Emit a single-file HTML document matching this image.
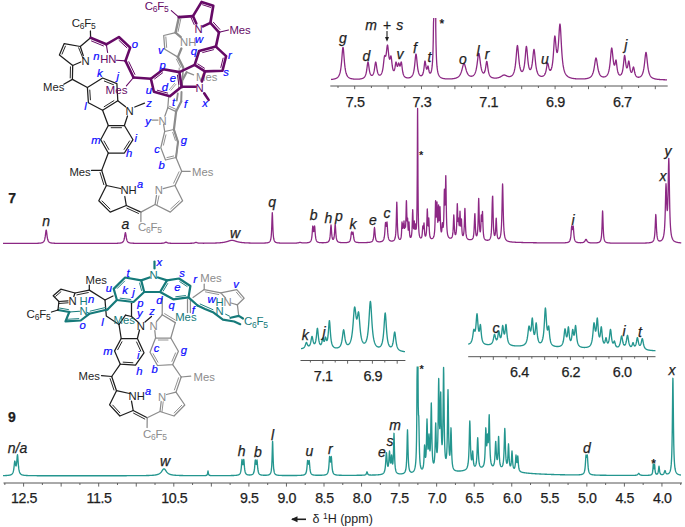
<!DOCTYPE html>
<html><head><meta charset="utf-8"><style>html,body{margin:0;padding:0;background:#fff;width:685px;height:527px;overflow:hidden}svg{display:block}</style></head>
<body><svg width="685" height="527" viewBox="0 0 685 527"><rect width="685" height="527" fill="#ffffff"/><path d="M3.00,243.46 L3.25,243.46 L3.50,243.46 L3.75,243.46 L4.00,243.46 L4.25,243.46 L4.50,243.46 L4.75,243.46 L5.00,243.46 L5.25,243.46 L5.50,243.46 L5.75,243.46 L6.00,243.46 L6.25,243.46 L6.50,243.46 L6.75,243.46 L7.00,243.46 L7.25,243.46 L7.50,243.45 L7.75,243.45 L8.00,243.45 L8.25,243.45 L8.50,243.45 L8.75,243.45 L9.00,243.45 L9.25,243.45 L9.50,243.45 L9.75,243.45 L10.00,243.45 L10.25,243.45 L10.50,243.45 L10.75,243.45 L11.00,243.45 L11.25,243.45 L11.50,243.45 L11.75,243.45 L12.00,243.45 L12.25,243.45 L12.50,243.45 L12.75,243.45 L13.00,243.45 L13.25,243.45 L13.50,243.45 L13.75,243.45 L14.00,243.45 L14.25,243.45 L14.50,243.45 L14.75,243.45 L15.00,243.45 L15.25,243.45 L15.50,243.45 L15.75,243.45 L16.00,243.45 L16.25,243.45 L16.50,243.45 L16.75,243.45 L17.00,243.45 L17.25,243.45 L17.50,243.45 L17.75,243.45 L18.00,243.45 L18.25,243.44 L18.50,243.44 L18.75,243.44 L19.00,243.44 L19.25,243.44 L19.50,243.44 L19.75,243.44 L20.00,243.44 L20.25,243.44 L20.50,243.44 L20.75,243.44 L21.00,243.44 L21.25,243.44 L21.50,243.44 L21.75,243.44 L22.00,243.44 L22.25,243.44 L22.50,243.44 L22.75,243.44 L23.00,243.44 L23.25,243.44 L23.50,243.43 L23.75,243.43 L24.00,243.43 L24.25,243.43 L24.50,243.43 L24.75,243.43 L25.00,243.43 L25.25,243.43 L25.50,243.43 L25.75,243.43 L26.00,243.43 L26.25,243.43 L26.50,243.43 L26.75,243.42 L27.00,243.42 L27.25,243.42 L27.50,243.42 L27.75,243.42 L28.00,243.42 L28.25,243.42 L28.50,243.42 L28.75,243.42 L29.00,243.41 L29.25,243.41 L29.50,243.41 L29.75,243.41 L30.00,243.41 L30.25,243.41 L30.50,243.41 L30.75,243.40 L31.00,243.40 L31.25,243.40 L31.50,243.40 L31.75,243.40 L32.00,243.39 L32.25,243.39 L32.50,243.39 L32.75,243.39 L33.00,243.38 L33.25,243.38 L33.50,243.38 L33.75,243.37 L34.00,243.37 L34.25,243.37 L34.50,243.36 L34.75,243.36 L35.00,243.35 L35.25,243.35 L35.50,243.34 L35.75,243.34 L36.00,243.33 L36.25,243.32 L36.50,243.32 L36.75,243.31 L37.00,243.30 L37.25,243.29 L37.50,243.28 L37.75,243.27 L38.00,243.26 L38.25,243.25 L38.50,243.24 L38.75,243.22 L39.00,243.20 L39.25,243.19 L39.50,243.17 L39.75,243.14 L40.00,243.12 L40.25,243.09 L40.50,243.06 L40.75,243.02 L41.00,242.98 L41.25,242.93 L41.50,242.88 L41.75,242.81 L42.00,242.74 L42.25,242.65 L42.50,242.55 L42.75,242.42 L43.00,242.27 L43.25,242.08 L43.50,241.84 L43.75,241.55 L44.00,241.17 L44.25,240.67 L44.50,240.02 L44.75,239.15 L45.00,237.98 L45.25,236.44 L45.50,234.49 L45.75,232.35 L46.00,230.61 L46.20,230.10 L46.25,230.13 L46.50,231.20 L46.75,233.20 L47.00,235.31 L47.25,237.10 L47.50,238.49 L47.75,239.53 L48.00,240.30 L48.25,240.89 L48.50,241.33 L48.75,241.67 L49.00,241.94 L49.25,242.16 L49.50,242.33 L49.75,242.47 L50.00,242.59 L50.25,242.69 L50.50,242.77 L50.75,242.84 L51.00,242.90 L51.25,242.95 L51.50,242.99 L51.75,243.03 L52.00,243.07 L52.25,243.10 L52.50,243.13 L52.75,243.15 L53.00,243.17 L53.25,243.19 L53.50,243.21 L53.75,243.22 L54.00,243.24 L54.25,243.25 L54.50,243.26 L54.75,243.27 L55.00,243.28 L55.25,243.29 L55.50,243.30 L55.75,243.31 L56.00,243.31 L56.25,243.32 L56.50,243.33 L56.75,243.33 L57.00,243.34 L57.25,243.34 L57.50,243.35 L57.75,243.35 L58.00,243.36 L58.25,243.36 L58.50,243.36 L58.75,243.37 L59.00,243.37 L59.25,243.37 L59.50,243.38 L59.75,243.38 L60.00,243.38 L60.25,243.38 L60.50,243.39 L60.75,243.39 L61.00,243.39 L61.25,243.39 L61.50,243.39 L61.75,243.40 L62.00,243.40 L62.25,243.40 L62.50,243.40 L62.75,243.40 L63.00,243.40 L63.25,243.40 L63.50,243.41 L63.75,243.41 L64.00,243.41 L64.25,243.41 L64.50,243.41 L64.75,243.41 L65.00,243.41 L65.25,243.41 L65.50,243.41 L65.75,243.41 L66.00,243.41 L66.25,243.42 L66.50,243.42 L66.75,243.42 L67.00,243.42 L67.25,243.42 L67.50,243.42 L67.75,243.42 L68.00,243.42 L68.25,243.42 L68.50,243.42 L68.75,243.42 L69.00,243.42 L69.25,243.42 L69.50,243.42 L69.75,243.42 L70.00,243.42 L70.25,243.42 L70.50,243.42 L70.75,243.42 L71.00,243.43 L71.25,243.43 L71.50,243.43 L71.75,243.43 L72.00,243.43 L72.25,243.43 L72.50,243.43 L72.75,243.43 L73.00,243.43 L73.25,243.43 L73.50,243.43 L73.75,243.43 L74.00,243.43 L74.25,243.43 L74.50,243.43 L74.75,243.43 L75.00,243.43 L75.25,243.43 L75.50,243.43 L75.75,243.43 L76.00,243.43 L76.25,243.43 L76.50,243.43 L76.75,243.43 L77.00,243.43 L77.25,243.43 L77.50,243.43 L77.75,243.43 L78.00,243.43 L78.25,243.43 L78.50,243.43 L78.75,243.43 L79.00,243.43 L79.25,243.43 L79.50,243.43 L79.75,243.43 L80.00,243.43 L80.25,243.43 L80.50,243.43 L80.75,243.43 L81.00,243.43 L81.25,243.43 L81.50,243.43 L81.75,243.43 L82.00,243.43 L82.25,243.43 L82.50,243.43 L82.75,243.43 L83.00,243.43 L83.25,243.43 L83.50,243.43 L83.75,243.43 L84.00,243.43 L84.25,243.43 L84.50,243.43 L84.75,243.43 L85.00,243.43 L85.25,243.43 L85.50,243.43 L85.75,243.43 L86.00,243.43 L86.25,243.43 L86.50,243.43 L86.75,243.43 L87.00,243.43 L87.25,243.43 L87.50,243.43 L87.75,243.43 L88.00,243.43 L88.25,243.43 L88.50,243.43 L88.75,243.43 L89.00,243.43 L89.25,243.43 L89.50,243.43 L89.75,243.43 L90.00,243.43 L90.25,243.43 L90.50,243.43 L90.75,243.43 L91.00,243.43 L91.25,243.43 L91.50,243.43 L91.75,243.43 L92.00,243.43 L92.25,243.43 L92.50,243.43 L92.75,243.43 L93.00,243.43 L93.25,243.43 L93.50,243.43 L93.75,243.43 L94.00,243.43 L94.25,243.43 L94.50,243.43 L94.75,243.43 L95.00,243.42 L95.25,243.42 L95.50,243.42 L95.75,243.42 L96.00,243.42 L96.25,243.42 L96.50,243.42 L96.75,243.42 L97.00,243.42 L97.25,243.42 L97.50,243.42 L97.75,243.42 L98.00,243.42 L98.25,243.42 L98.50,243.42 L98.75,243.42 L99.00,243.42 L99.25,243.42 L99.50,243.42 L99.75,243.42 L100.00,243.42 L100.25,243.42 L100.50,243.42 L100.75,243.42 L101.00,243.42 L101.25,243.42 L101.50,243.42 L101.75,243.42 L102.00,243.42 L102.25,243.41 L102.50,243.41 L102.75,243.41 L103.00,243.41 L103.25,243.41 L103.50,243.41 L103.75,243.41 L104.00,243.41 L104.25,243.41 L104.50,243.41 L104.75,243.41 L105.00,243.41 L105.25,243.41 L105.50,243.41 L105.75,243.41 L106.00,243.41 L106.25,243.40 L106.50,243.40 L106.75,243.40 L107.00,243.40 L107.25,243.40 L107.50,243.40 L107.75,243.40 L108.00,243.40 L108.25,243.40 L108.50,243.40 L108.75,243.39 L109.00,243.39 L109.25,243.39 L109.50,243.39 L109.75,243.39 L110.00,243.39 L110.25,243.39 L110.50,243.38 L110.75,243.38 L111.00,243.38 L111.25,243.38 L111.50,243.38 L111.75,243.37 L112.00,243.37 L112.25,243.37 L112.50,243.37 L112.75,243.36 L113.00,243.36 L113.25,243.36 L113.50,243.36 L113.75,243.35 L114.00,243.35 L114.25,243.34 L114.50,243.34 L114.75,243.34 L115.00,243.33 L115.25,243.33 L115.50,243.32 L115.75,243.31 L116.00,243.31 L116.25,243.30 L116.50,243.29 L116.75,243.29 L117.00,243.28 L117.25,243.27 L117.50,243.26 L117.75,243.25 L118.00,243.23 L118.25,243.22 L118.50,243.21 L118.75,243.19 L119.00,243.17 L119.25,243.15 L119.50,243.13 L119.75,243.10 L120.00,243.07 L120.25,243.03 L120.50,242.99 L120.75,242.95 L121.00,242.90 L121.25,242.83 L121.50,242.76 L121.75,242.67 L122.00,242.57 L122.25,242.44 L122.50,242.28 L122.75,242.08 L123.00,241.82 L123.25,241.50 L123.50,241.08 L123.75,240.52 L124.00,239.77 L124.25,238.76 L124.50,237.44 L124.75,235.82 L125.00,234.09 L125.25,232.84 L125.40,232.60 L125.50,232.71 L125.75,233.78 L126.00,235.47 L126.25,237.14 L126.50,238.53 L126.75,239.59 L127.00,240.38 L127.25,240.98 L127.50,241.42 L127.75,241.76 L128.00,242.03 L128.25,242.24 L128.50,242.40 L128.75,242.54 L129.00,242.65 L129.25,242.74 L129.50,242.81 L129.75,242.88 L130.00,242.93 L130.25,242.98 L130.50,243.02 L130.75,243.06 L131.00,243.09 L131.25,243.11 L131.50,243.14 L131.75,243.16 L132.00,243.18 L132.25,243.19 L132.50,243.21 L132.75,243.22 L133.00,243.24 L133.25,243.25 L133.50,243.26 L133.75,243.27 L134.00,243.27 L134.25,243.28 L134.50,243.29 L134.75,243.30 L135.00,243.30 L135.25,243.31 L135.50,243.31 L135.75,243.32 L136.00,243.32 L136.25,243.33 L136.50,243.33 L136.75,243.33 L137.00,243.34 L137.25,243.34 L137.50,243.34 L137.75,243.35 L138.00,243.35 L138.25,243.35 L138.50,243.35 L138.75,243.35 L139.00,243.36 L139.25,243.36 L139.50,243.36 L139.75,243.36 L140.00,243.36 L140.25,243.36 L140.50,243.37 L140.75,243.37 L141.00,243.37 L141.25,243.37 L141.50,243.37 L141.75,243.37 L142.00,243.37 L142.25,243.37 L142.50,243.37 L142.75,243.37 L143.00,243.38 L143.25,243.38 L143.50,243.38 L143.75,243.38 L144.00,243.38 L144.25,243.38 L144.50,243.38 L144.75,243.38 L145.00,243.38 L145.25,243.38 L145.50,243.38 L145.75,243.38 L146.00,243.38 L146.25,243.38 L146.50,243.38 L146.75,243.38 L147.00,243.38 L147.25,243.38 L147.50,243.38 L147.75,243.38 L148.00,243.38 L148.25,243.38 L148.50,243.38 L148.75,243.38 L149.00,243.38 L149.25,243.38 L149.50,243.38 L149.75,243.38 L150.00,243.38 L150.25,243.38 L150.50,243.38 L150.75,243.38 L151.00,243.38 L151.25,243.38 L151.50,243.38 L151.75,243.38 L152.00,243.38 L152.25,243.38 L152.50,243.38 L152.75,243.38 L153.00,243.38 L153.25,243.38 L153.50,243.38 L153.75,243.38 L154.00,243.37 L154.25,243.37 L154.50,243.37 L154.75,243.37 L155.00,243.37 L155.25,243.37 L155.50,243.37 L155.75,243.37 L156.00,243.37 L156.25,243.37 L156.50,243.36 L156.75,243.36 L157.00,243.36 L157.25,243.36 L157.50,243.36 L157.75,243.35 L158.00,243.35 L158.25,243.35 L158.50,243.35 L158.75,243.34 L159.00,243.34 L159.25,243.34 L159.50,243.33 L159.75,243.33 L160.00,243.32 L160.25,243.31 L160.50,243.31 L160.75,243.30 L161.00,243.29 L161.25,243.28 L161.50,243.27 L161.75,243.26 L162.00,243.24 L162.25,243.23 L162.50,243.20 L162.75,243.18 L163.00,243.15 L163.25,243.12 L163.50,243.07 L163.75,243.02 L164.00,242.96 L164.25,242.89 L164.50,242.79 L164.75,242.69 L165.00,242.57 L165.25,242.44 L165.50,242.32 L165.75,242.23 L166.00,242.20 L166.25,242.23 L166.50,242.32 L166.75,242.44 L167.00,242.56 L167.25,242.68 L167.50,242.79 L167.75,242.88 L168.00,242.96 L168.25,243.02 L168.50,243.07 L168.75,243.11 L169.00,243.14 L169.25,243.17 L169.50,243.20 L169.75,243.22 L170.00,243.23 L170.25,243.25 L170.50,243.26 L170.75,243.27 L171.00,243.28 L171.25,243.29 L171.50,243.30 L171.75,243.30 L172.00,243.31 L172.25,243.31 L172.50,243.32 L172.75,243.32 L173.00,243.32 L173.25,243.33 L173.50,243.33 L173.75,243.33 L174.00,243.33 L174.25,243.33 L174.50,243.34 L174.75,243.34 L175.00,243.34 L175.25,243.34 L175.50,243.34 L175.75,243.34 L176.00,243.34 L176.25,243.34 L176.50,243.34 L176.75,243.35 L177.00,243.35 L177.25,243.35 L177.50,243.35 L177.75,243.35 L178.00,243.35 L178.25,243.35 L178.50,243.35 L178.75,243.35 L179.00,243.35 L179.25,243.35 L179.50,243.35 L179.75,243.35 L180.00,243.35 L180.25,243.35 L180.50,243.35 L180.75,243.34 L181.00,243.34 L181.25,243.34 L181.50,243.34 L181.75,243.34 L182.00,243.34 L182.25,243.34 L182.50,243.34 L182.75,243.34 L183.00,243.34 L183.25,243.34 L183.50,243.34 L183.75,243.34 L184.00,243.34 L184.25,243.33 L184.50,243.33 L184.75,243.33 L185.00,243.33 L185.25,243.33 L185.50,243.33 L185.75,243.33 L186.00,243.33 L186.25,243.32 L186.50,243.32 L186.75,243.32 L187.00,243.32 L187.25,243.32 L187.50,243.32 L187.75,243.31 L188.00,243.31 L188.25,243.31 L188.50,243.31 L188.75,243.30 L189.00,243.30 L189.25,243.30 L189.50,243.29 L189.75,243.29 L190.00,243.28 L190.25,243.28 L190.50,243.27 L190.75,243.26 L191.00,243.26 L191.25,243.25 L191.50,243.24 L191.75,243.23 L192.00,243.22 L192.25,243.20 L192.50,243.19 L192.75,243.17 L193.00,243.14 L193.25,243.12 L193.50,243.08 L193.75,243.04 L194.00,242.99 L194.25,242.93 L194.50,242.86 L194.75,242.78 L195.00,242.69 L195.25,242.59 L195.50,242.49 L195.75,242.43 L196.00,242.40 L196.25,242.42 L196.50,242.49 L196.75,242.58 L197.00,242.68 L197.25,242.77 L197.50,242.85 L197.75,242.92 L198.00,242.97 L198.25,243.02 L198.50,243.06 L198.75,243.09 L199.00,243.11 L199.25,243.13 L199.50,243.15 L199.75,243.16 L200.00,243.18 L200.25,243.19 L200.50,243.19 L200.75,243.20 L201.00,243.21 L201.25,243.21 L201.50,243.21 L201.75,243.22 L202.00,243.22 L202.25,243.22 L202.50,243.22 L202.75,243.22 L203.00,243.23 L203.25,243.23 L203.50,243.23 L203.75,243.23 L204.00,243.23 L204.25,243.22 L204.50,243.22 L204.75,243.22 L205.00,243.22 L205.25,243.22 L205.50,243.22 L205.75,243.22 L206.00,243.21 L206.25,243.21 L206.50,243.21 L206.75,243.21 L207.00,243.21 L207.25,243.20 L207.50,243.20 L207.75,243.20 L208.00,243.19 L208.25,243.19 L208.50,243.19 L208.75,243.18 L209.00,243.18 L209.25,243.18 L209.50,243.17 L209.75,243.17 L210.00,243.16 L210.25,243.16 L210.50,243.16 L210.75,243.15 L211.00,243.15 L211.25,243.14 L211.50,243.14 L211.75,243.13 L212.00,243.13 L212.25,243.12 L212.50,243.11 L212.75,243.11 L213.00,243.10 L213.25,243.09 L213.50,243.09 L213.75,243.08 L214.00,243.07 L214.25,243.06 L214.50,243.06 L214.75,243.05 L215.00,243.04 L215.25,243.03 L215.50,243.02 L215.75,243.01 L216.00,243.00 L216.25,242.99 L216.50,242.98 L216.75,242.97 L217.00,242.96 L217.25,242.94 L217.50,242.93 L217.75,242.92 L218.00,242.90 L218.25,242.89 L218.50,242.88 L218.75,242.86 L219.00,242.84 L219.25,242.83 L219.50,242.81 L219.75,242.79 L220.00,242.77 L220.25,242.75 L220.50,242.73 L220.75,242.70 L221.00,242.68 L221.25,242.66 L221.50,242.63 L221.75,242.60 L222.00,242.57 L222.25,242.54 L222.50,242.51 L222.75,242.48 L223.00,242.44 L223.25,242.41 L223.50,242.37 L223.75,242.33 L224.00,242.28 L224.25,242.24 L224.50,242.19 L224.75,242.14 L225.00,242.09 L225.25,242.04 L225.50,241.98 L225.75,241.92 L226.00,241.86 L226.25,241.80 L226.50,241.73 L226.75,241.66 L227.00,241.59 L227.25,241.52 L227.50,241.44 L227.75,241.36 L228.00,241.28 L228.25,241.20 L228.50,241.12 L228.75,241.04 L229.00,240.96 L229.25,240.88 L229.50,240.80 L229.75,240.73 L230.00,240.66 L230.25,240.59 L230.50,240.53 L230.75,240.48 L231.00,240.44 L231.25,240.40 L231.50,240.38 L231.75,240.36 L232.00,240.35 L232.25,240.36 L232.50,240.37 L232.75,240.40 L233.00,240.43 L233.25,240.48 L233.50,240.53 L233.75,240.59 L234.00,240.65 L234.25,240.72 L234.50,240.79 L234.75,240.87 L235.00,240.95 L235.25,241.03 L235.50,241.11 L235.75,241.19 L236.00,241.27 L236.25,241.35 L236.50,241.43 L236.75,241.50 L237.00,241.58 L237.25,241.65 L237.50,241.72 L237.75,241.78 L238.00,241.84 L238.25,241.91 L238.50,241.96 L238.75,242.02 L239.00,242.07 L239.25,242.12 L239.50,242.17 L239.75,242.22 L240.00,242.26 L240.25,242.30 L240.50,242.34 L240.75,242.38 L241.00,242.42 L241.25,242.45 L241.50,242.48 L241.75,242.51 L242.00,242.54 L242.25,242.57 L242.50,242.60 L242.75,242.62 L243.00,242.65 L243.25,242.67 L243.50,242.69 L243.75,242.71 L244.00,242.73 L244.25,242.75 L244.50,242.77 L244.75,242.79 L245.00,242.80 L245.25,242.82 L245.50,242.83 L245.75,242.85 L246.00,242.86 L246.25,242.87 L246.50,242.89 L246.75,242.90 L247.00,242.91 L247.25,242.92 L247.50,242.93 L247.75,242.94 L248.00,242.95 L248.25,242.96 L248.50,242.97 L248.75,242.98 L249.00,242.99 L249.25,242.99 L249.50,243.00 L249.75,243.01 L250.00,243.01 L250.25,243.02 L250.50,243.03 L250.75,243.03 L251.00,243.04 L251.25,243.04 L251.50,243.05 L251.75,243.05 L252.00,243.06 L252.25,243.06 L252.50,243.07 L252.75,243.07 L253.00,243.08 L253.25,243.08 L253.50,243.08 L253.75,243.09 L254.00,243.09 L254.25,243.09 L254.50,243.10 L254.75,243.10 L255.00,243.10 L255.25,243.10 L255.50,243.10 L255.75,243.11 L256.00,243.11 L256.25,243.11 L256.50,243.11 L256.75,243.11 L257.00,243.11 L257.25,243.12 L257.50,243.12 L257.75,243.12 L258.00,243.12 L258.25,243.12 L258.50,243.12 L258.75,243.12 L259.00,243.12 L259.25,243.12 L259.50,243.12 L259.75,243.12 L260.00,243.11 L260.25,243.11 L260.50,243.11 L260.75,243.11 L261.00,243.11 L261.25,243.10 L261.50,243.10 L261.75,243.10 L262.00,243.10 L262.25,243.09 L262.50,243.09 L262.75,243.08 L263.00,243.08 L263.25,243.07 L263.50,243.06 L263.75,243.06 L264.00,243.05 L264.25,243.04 L264.50,243.03 L264.75,243.02 L265.00,243.01 L265.25,242.99 L265.50,242.98 L265.75,242.96 L266.00,242.94 L266.25,242.92 L266.50,242.89 L266.75,242.86 L267.00,242.83 L267.25,242.79 L267.50,242.75 L267.75,242.70 L268.00,242.64 L268.25,242.56 L268.50,242.48 L268.75,242.37 L269.00,242.24 L269.25,242.08 L269.50,241.88 L269.75,241.62 L270.00,241.28 L270.25,240.81 L270.50,240.17 L270.75,239.25 L271.00,237.86 L271.25,235.71 L271.50,232.24 L271.75,226.64 L272.00,218.80 L272.25,212.91 L272.30,212.70 L272.50,215.75 L272.75,223.69 L273.00,230.30 L273.25,234.52 L273.50,237.12 L273.75,238.76 L274.00,239.84 L274.25,240.58 L274.50,241.11 L274.75,241.50 L275.00,241.79 L275.25,242.01 L275.50,242.19 L275.75,242.33 L276.00,242.44 L276.25,242.53 L276.50,242.61 L276.75,242.68 L277.00,242.73 L277.25,242.78 L277.50,242.82 L277.75,242.86 L278.00,242.89 L278.25,242.91 L278.50,242.94 L278.75,242.96 L279.00,242.98 L279.25,242.99 L279.50,243.01 L279.75,243.02 L280.00,243.03 L280.25,243.04 L280.50,243.05 L280.75,243.06 L281.00,243.07 L281.25,243.08 L281.50,243.09 L281.75,243.09 L282.00,243.10 L282.25,243.10 L282.50,243.11 L282.75,243.11 L283.00,243.12 L283.25,243.12 L283.50,243.12 L283.75,243.13 L284.00,243.13 L284.25,243.13 L284.50,243.13 L284.75,243.13 L285.00,243.14 L285.25,243.14 L285.50,243.14 L285.75,243.14 L286.00,243.14 L286.25,243.14 L286.50,243.14 L286.75,243.15 L287.00,243.15 L287.25,243.15 L287.50,243.15 L287.75,243.15 L288.00,243.15 L288.25,243.15 L288.50,243.15 L288.75,243.15 L289.00,243.15 L289.25,243.15 L289.50,243.15 L289.75,243.14 L290.00,243.14 L290.25,243.14 L290.50,243.14 L290.75,243.14 L291.00,243.14 L291.25,243.14 L291.50,243.14 L291.75,243.13 L292.00,243.13 L292.25,243.13 L292.50,243.13 L292.75,243.13 L293.00,243.12 L293.25,243.12 L293.50,243.12 L293.75,243.11 L294.00,243.11 L294.25,243.10 L294.50,243.10 L294.75,243.09 L295.00,243.09 L295.25,243.08 L295.50,243.07 L295.75,243.06 L296.00,243.05 L296.25,243.04 L296.50,243.03 L296.75,243.01 L297.00,242.99 L297.25,242.97 L297.50,242.94 L297.75,242.91 L298.00,242.87 L298.25,242.82 L298.50,242.77 L298.75,242.70 L299.00,242.63 L299.25,242.55 L299.50,242.48 L299.75,242.42 L300.00,242.40 L300.25,242.42 L300.50,242.46 L300.75,242.53 L301.00,242.60 L301.25,242.67 L301.50,242.72 L301.75,242.77 L302.00,242.81 L302.25,242.84 L302.50,242.86 L302.75,242.88 L303.00,242.90 L303.25,242.91 L303.50,242.91 L303.75,242.92 L304.00,242.92 L304.25,242.92 L304.50,242.91 L304.75,242.91 L305.00,242.90 L305.25,242.89 L305.50,242.88 L305.75,242.87 L306.00,242.86 L306.25,242.84 L306.50,242.82 L306.75,242.80 L307.00,242.78 L307.25,242.75 L307.50,242.72 L307.75,242.68 L308.00,242.64 L308.25,242.59 L308.50,242.53 L308.75,242.47 L309.00,242.39 L309.25,242.30 L309.50,242.19 L309.75,242.05 L310.00,241.89 L310.25,241.68 L310.50,241.41 L310.75,241.05 L311.00,240.58 L311.25,239.92 L311.50,238.98 L311.75,237.60 L312.00,235.53 L312.25,232.53 L312.50,228.82 L312.75,226.17 L312.80,226.00 L313.00,226.70 L313.25,229.20 L313.50,231.19 L313.75,231.67 L314.00,230.55 L314.25,228.15 L314.50,226.10 L314.60,226.00 L314.75,226.92 L315.00,230.31 L315.25,233.83 L315.50,236.44 L315.75,238.19 L316.00,239.36 L316.25,240.17 L316.50,240.74 L316.75,241.16 L317.00,241.47 L317.25,241.71 L317.50,241.90 L317.75,242.05 L318.00,242.17 L318.25,242.26 L318.50,242.35 L318.75,242.41 L319.00,242.47 L319.25,242.52 L319.50,242.56 L319.75,242.59 L320.00,242.62 L320.25,242.65 L320.50,242.67 L320.75,242.68 L321.00,242.70 L321.25,242.71 L321.50,242.72 L321.75,242.73 L322.00,242.73 L322.25,242.74 L322.50,242.74 L322.75,242.74 L323.00,242.74 L323.25,242.74 L323.50,242.73 L323.75,242.72 L324.00,242.72 L324.25,242.70 L324.50,242.69 L324.75,242.68 L325.00,242.66 L325.25,242.64 L325.50,242.61 L325.75,242.58 L326.00,242.55 L326.25,242.51 L326.50,242.47 L326.75,242.41 L327.00,242.35 L327.25,242.27 L327.50,242.18 L327.75,242.07 L328.00,241.93 L328.25,241.76 L328.50,241.54 L328.75,241.25 L329.00,240.87 L329.25,240.34 L329.50,239.61 L329.75,238.53 L330.00,236.92 L330.25,234.50 L330.50,231.02 L330.75,227.03 L331.00,225.00 L331.25,226.92 L331.50,230.78 L331.75,234.14 L332.00,236.42 L332.25,237.86 L332.50,238.73 L332.75,239.22 L333.00,239.43 L333.25,239.40 L333.50,239.11 L333.75,238.52 L334.00,237.52 L334.25,235.88 L334.50,233.31 L334.75,229.65 L335.00,225.81 L335.20,224.50 L335.25,224.60 L335.50,227.35 L335.75,231.47 L336.00,234.83 L336.25,237.13 L336.50,238.65 L336.75,239.67 L337.00,240.37 L337.25,240.87 L337.50,241.24 L337.75,241.51 L338.00,241.73 L338.25,241.89 L338.50,242.03 L338.75,242.13 L339.00,242.22 L339.25,242.30 L339.50,242.36 L339.75,242.41 L340.00,242.45 L340.25,242.49 L340.50,242.52 L340.75,242.55 L341.00,242.57 L341.25,242.59 L341.50,242.61 L341.75,242.62 L342.00,242.63 L342.25,242.64 L342.50,242.65 L342.75,242.66 L343.00,242.66 L343.25,242.67 L343.50,242.67 L343.75,242.67 L344.00,242.67 L344.25,242.66 L344.50,242.66 L344.75,242.65 L345.00,242.65 L345.25,242.64 L345.50,242.63 L345.75,242.61 L346.00,242.60 L346.25,242.58 L346.50,242.56 L346.75,242.53 L347.00,242.50 L347.25,242.47 L347.50,242.43 L347.75,242.38 L348.00,242.32 L348.25,242.24 L348.50,242.16 L348.75,242.05 L349.00,241.91 L349.25,241.73 L349.50,241.49 L349.75,241.17 L350.00,240.73 L350.25,240.09 L350.50,239.15 L350.75,237.75 L351.00,235.75 L351.25,233.42 L351.50,232.00 L351.75,232.49 L352.00,233.73 L352.25,234.28 L352.50,233.73 L352.75,232.49 L353.00,232.00 L353.25,233.41 L353.50,235.74 L353.75,237.74 L354.00,239.13 L354.25,240.07 L354.50,240.70 L354.75,241.14 L355.00,241.46 L355.25,241.69 L355.50,241.87 L355.75,242.01 L356.00,242.11 L356.25,242.20 L356.50,242.27 L356.75,242.33 L357.00,242.37 L357.25,242.41 L357.50,242.45 L357.75,242.47 L358.00,242.50 L358.25,242.52 L358.50,242.54 L358.75,242.55 L359.00,242.56 L359.25,242.57 L359.50,242.58 L359.75,242.59 L360.00,242.60 L360.25,242.60 L360.50,242.61 L360.75,242.61 L361.00,242.61 L361.25,242.61 L361.50,242.62 L361.75,242.62 L362.00,242.62 L362.25,242.62 L362.50,242.61 L362.75,242.61 L363.00,242.61 L363.25,242.61 L363.50,242.61 L363.75,242.60 L364.00,242.60 L364.25,242.59 L364.50,242.59 L364.75,242.58 L365.00,242.58 L365.25,242.57 L365.50,242.56 L365.75,242.56 L366.00,242.55 L366.25,242.54 L366.50,242.53 L366.75,242.52 L367.00,242.51 L367.25,242.50 L367.50,242.48 L367.75,242.47 L368.00,242.45 L368.25,242.43 L368.50,242.41 L368.75,242.39 L369.00,242.37 L369.25,242.34 L369.50,242.31 L369.75,242.27 L370.00,242.23 L370.25,242.19 L370.50,242.13 L370.75,242.07 L371.00,241.99 L371.25,241.89 L371.50,241.78 L371.75,241.63 L372.00,241.45 L372.25,241.21 L372.50,240.89 L372.75,240.45 L373.00,239.83 L373.25,238.93 L373.50,237.57 L373.75,235.52 L374.00,232.57 L374.25,229.20 L374.50,227.50 L374.75,229.18 L375.00,232.53 L375.25,235.46 L375.50,237.50 L375.75,238.83 L376.00,239.72 L376.25,240.31 L376.50,240.73 L376.75,241.03 L377.00,241.25 L377.25,241.41 L377.50,241.53 L377.75,241.62 L378.00,241.68 L378.25,241.73 L378.50,241.77 L378.75,241.79 L379.00,241.81 L379.25,241.81 L379.50,241.81 L379.75,241.80 L380.00,241.78 L380.25,241.76 L380.50,241.73 L380.75,241.68 L381.00,241.63 L381.25,241.57 L381.50,241.50 L381.75,241.41 L382.00,241.30 L382.25,241.17 L382.50,241.00 L382.75,240.80 L383.00,240.55 L383.25,240.22 L383.50,239.78 L383.75,239.20 L384.00,238.39 L384.25,237.23 L384.50,235.52 L384.75,232.97 L385.00,229.33 L385.25,225.09 L385.50,222.50 L385.75,223.34 L386.00,225.53 L386.25,226.44 L386.50,225.33 L386.75,222.96 L387.00,222.00 L387.25,224.61 L387.50,228.93 L387.75,232.64 L388.00,235.23 L388.25,236.96 L388.50,238.13 L388.75,238.93 L389.00,239.50 L389.25,239.92 L389.50,240.23 L389.75,240.46 L390.00,240.64 L390.25,240.78 L390.50,240.88 L390.75,240.96 L391.00,241.01 L391.25,241.05 L391.50,241.07 L391.75,241.07 L392.00,241.06 L392.25,241.04 L392.50,240.99 L392.75,240.94 L393.00,240.86 L393.25,240.75 L393.50,240.62 L393.75,240.45 L394.00,240.23 L394.25,239.94 L394.50,239.56 L394.75,239.04 L395.00,238.32 L395.25,237.26 L395.50,235.67 L395.75,233.16 L396.00,228.97 L396.25,221.88 L396.50,211.18 L396.75,202.43 L396.80,202.10 L397.00,206.69 L397.25,217.87 L397.50,226.41 L397.75,231.53 L398.00,234.54 L398.25,236.37 L398.50,237.53 L398.75,238.29 L399.00,238.79 L399.25,239.11 L399.50,239.31 L399.75,239.39 L400.00,239.37 L400.25,239.25 L400.50,238.98 L400.75,238.51 L401.00,237.67 L401.25,236.13 L401.50,233.10 L401.75,227.29 L402.00,222.00 L402.25,225.38 L402.50,228.42 L402.75,226.79 L403.00,224.00 L403.25,226.54 L403.50,227.96 L403.75,224.77 L404.00,221.00 L404.25,224.88 L404.50,228.42 L404.75,227.90 L405.00,226.00 L405.25,227.17 L405.50,227.21 L405.75,223.57 L406.00,215.25 L406.25,203.83 L406.40,200.60 L406.50,201.85 L406.75,211.81 L407.00,219.59 L407.25,221.12 L407.50,218.19 L407.60,218.00 L407.75,220.71 L408.00,227.15 L408.25,230.16 L408.50,229.72 L408.75,225.73 L409.00,222.00 L409.25,226.92 L409.50,232.41 L409.75,235.23 L410.00,236.59 L410.25,237.23 L410.50,237.47 L410.75,237.42 L411.00,237.09 L411.25,236.43 L411.50,235.26 L411.75,233.24 L412.00,229.64 L412.25,223.23 L412.50,213.96 L412.70,209.70 L412.75,209.92 L413.00,216.96 L413.25,224.55 L413.50,228.34 L413.75,228.77 L414.00,225.74 L414.25,221.19 L414.30,221.00 L414.50,223.86 L414.75,228.40 L415.00,229.37 L415.25,226.87 L415.50,224.00 L415.75,226.67 L416.00,229.21 L416.25,229.05 L416.50,226.35 L416.75,220.01 L417.00,206.08 L417.25,173.99 L417.50,118.37 L417.60,108.50 L417.75,128.96 L418.00,183.09 L418.25,210.60 L418.50,222.91 L418.75,229.05 L419.00,232.46 L419.25,234.51 L419.50,235.82 L419.75,236.69 L420.00,237.27 L420.25,237.65 L420.50,237.89 L420.75,237.99 L421.00,237.96 L421.25,237.79 L421.50,237.42 L421.75,236.75 L422.00,235.53 L422.25,233.35 L422.50,229.75 L422.75,226.26 L422.80,226.00 L423.00,226.82 L423.25,228.78 L423.50,228.37 L423.75,225.25 L424.00,223.00 L424.25,226.34 L424.50,230.95 L424.75,233.82 L425.00,235.30 L425.25,235.97 L425.50,236.11 L425.75,235.81 L426.00,235.01 L426.25,233.48 L426.50,230.69 L426.75,225.60 L427.00,217.14 L427.25,209.37 L427.30,209.00 L427.50,212.61 L427.75,220.80 L428.00,225.49 L428.25,225.99 L428.50,222.46 L428.75,218.05 L428.80,218.00 L429.00,221.73 L429.25,228.63 L429.50,232.93 L429.75,235.25 L430.00,236.55 L430.25,237.34 L430.50,237.84 L430.75,238.16 L431.00,238.37 L431.25,238.50 L431.50,238.56 L431.75,238.58 L432.00,238.55 L432.25,238.48 L432.50,238.36 L432.75,238.19 L433.00,237.96 L433.25,237.64 L433.50,237.20 L433.75,236.59 L434.00,235.72 L434.25,234.43 L434.50,232.41 L434.75,229.08 L435.00,223.27 L435.25,213.45 L435.50,202.37 L435.60,200.60 L435.75,202.78 L436.00,211.85 L436.25,217.07 L436.50,215.89 L436.75,208.33 L437.00,202.00 L437.25,209.45 L437.50,218.56 L437.75,222.31 L438.00,221.29 L438.25,215.23 L438.50,206.34 L438.60,205.00 L438.75,207.66 L439.00,216.37 L439.25,220.66 L439.50,219.21 L439.75,212.26 L440.00,206.70 L440.25,213.99 L440.50,223.24 L440.75,228.44 L441.00,230.94 L441.25,231.92 L441.50,231.82 L441.75,230.56 L442.00,227.76 L442.25,223.85 L442.40,222.60 L442.50,222.84 L442.75,225.52 L443.00,227.33 L443.25,226.99 L443.50,224.37 L443.75,218.59 L444.00,207.93 L444.25,193.71 L444.40,189.20 L444.50,190.00 L444.75,199.33 L445.00,205.01 L445.25,201.55 L445.50,188.64 L445.75,175.85 L445.80,175.60 L446.00,184.81 L446.25,203.99 L446.50,217.30 L446.75,224.89 L447.00,229.31 L447.25,232.02 L447.50,233.79 L447.75,235.00 L448.00,235.87 L448.25,236.50 L448.50,236.97 L448.75,237.32 L449.00,237.60 L449.25,237.81 L449.50,237.96 L449.75,238.08 L450.00,238.15 L450.25,238.19 L450.50,238.20 L450.75,238.16 L451.00,238.09 L451.25,237.96 L451.50,237.77 L451.75,237.48 L452.00,237.06 L452.25,236.43 L452.50,235.47 L452.75,233.94 L453.00,231.39 L453.25,227.08 L453.50,220.57 L453.75,215.21 L453.80,215.00 L454.00,217.70 L454.25,224.34 L454.50,229.34 L454.75,232.22 L455.00,233.76 L455.25,234.48 L455.50,234.65 L455.75,234.31 L456.00,233.41 L456.25,231.66 L456.50,228.47 L456.75,222.64 L457.00,212.97 L457.25,204.04 L457.30,203.60 L457.50,207.61 L457.75,216.69 L458.00,221.56 L458.25,221.40 L458.50,218.34 L458.60,218.00 L458.75,219.67 L459.00,224.16 L459.25,225.72 L459.50,223.31 L459.75,216.59 L460.00,211.20 L460.25,216.78 L460.50,223.67 L460.75,226.19 L461.00,224.58 L461.25,220.01 L461.40,218.80 L461.50,219.90 L461.75,226.17 L462.00,231.05 L462.25,233.63 L462.50,234.93 L462.75,235.52 L463.00,235.64 L463.25,235.36 L463.50,234.62 L463.75,233.21 L464.00,230.71 L464.25,226.30 L464.50,218.99 L464.75,210.42 L464.90,208.30 L465.00,209.34 L465.25,217.44 L465.50,225.50 L465.75,230.62 L466.00,233.65 L466.25,235.49 L466.50,236.68 L466.75,237.47 L467.00,238.03 L467.25,238.44 L467.50,238.74 L467.75,238.97 L468.00,239.15 L468.25,239.30 L468.50,239.41 L468.75,239.50 L469.00,239.57 L469.25,239.62 L469.50,239.66 L469.75,239.69 L470.00,239.70 L470.25,239.71 L470.50,239.70 L470.75,239.67 L471.00,239.64 L471.25,239.58 L471.50,239.50 L471.75,239.40 L472.00,239.26 L472.25,239.07 L472.50,238.81 L472.75,238.46 L473.00,237.95 L473.25,237.19 L473.50,236.00 L473.75,234.03 L474.00,230.68 L474.25,225.52 L474.40,222.00 L474.50,219.70 L474.75,214.44 L474.90,213.60 L475.00,215.02 L475.25,222.54 L475.50,228.92 L475.75,232.55 L476.00,234.46 L476.25,235.40 L476.50,235.76 L476.75,235.67 L477.00,235.16 L477.25,234.12 L477.50,232.32 L477.75,229.23 L478.00,223.91 L478.25,214.98 L478.50,203.26 L478.70,198.40 L478.75,198.72 L479.00,207.67 L479.25,218.59 L479.50,225.63 L479.75,229.50 L480.00,231.39 L480.25,231.86 L480.50,230.94 L480.75,228.01 L481.00,222.02 L481.25,215.44 L481.30,215.00 L481.50,217.23 L481.75,221.45 L482.00,220.81 L482.25,215.30 L482.50,211.40 L482.75,217.48 L483.00,225.91 L483.25,231.34 L483.50,234.44 L483.75,236.28 L484.00,237.43 L484.25,238.20 L484.50,238.74 L484.75,239.13 L485.00,239.42 L485.25,239.64 L485.50,239.81 L485.75,239.94 L486.00,240.04 L486.25,240.12 L486.50,240.18 L486.75,240.22 L487.00,240.25 L487.25,240.26 L487.50,240.26 L487.75,240.24 L488.00,240.20 L488.25,240.15 L488.50,240.08 L488.75,239.98 L489.00,239.85 L489.25,239.69 L489.50,239.47 L489.75,239.19 L490.00,238.82 L490.25,238.32 L490.50,237.63 L490.75,236.65 L491.00,235.18 L491.25,232.90 L491.50,229.14 L491.75,222.75 L492.00,212.84 L492.20,204.50 L492.25,202.78 L492.50,196.61 L492.70,196.20 L492.75,197.27 L493.00,208.07 L493.25,219.39 L493.50,226.69 L493.75,230.93 L494.00,233.37 L494.25,234.75 L494.50,235.42 L494.75,235.52 L495.00,235.04 L495.25,233.76 L495.50,231.21 L495.75,226.69 L496.00,220.65 L496.20,218.20 L496.25,218.40 L496.50,223.32 L496.75,229.29 L497.00,233.23 L497.25,235.55 L497.50,236.92 L497.75,237.75 L498.00,238.26 L498.25,238.56 L498.50,238.72 L498.75,238.76 L499.00,238.70 L499.25,238.55 L499.50,238.29 L499.75,237.92 L500.00,237.39 L500.25,236.67 L500.50,235.67 L500.75,234.27 L501.00,232.28 L501.25,229.36 L501.50,224.99 L501.75,218.33 L502.00,208.41 L502.25,195.52 L502.50,185.14 L502.60,184.00 L502.75,186.55 L503.00,198.27 L503.25,210.83 L503.50,220.11 L503.75,226.29 L504.00,230.38 L504.25,233.14 L504.50,235.07 L504.75,236.46 L505.00,237.48 L505.25,238.26 L505.50,238.86 L505.75,239.34 L506.00,239.72 L506.25,240.04 L506.50,240.30 L506.75,240.51 L507.00,240.70 L507.25,240.86 L507.50,240.99 L507.75,241.11 L508.00,241.22 L508.25,241.31 L508.50,241.39 L508.75,241.47 L509.00,241.53 L509.25,241.59 L509.50,241.65 L509.75,241.70 L510.00,241.74 L510.25,241.78 L510.50,241.82 L510.75,241.86 L511.00,241.89 L511.25,241.92 L511.50,241.95 L511.75,241.98 L512.00,242.00 L512.25,242.03 L512.50,242.05 L512.75,242.07 L513.00,242.09 L513.25,242.11 L513.50,242.13 L513.75,242.15 L514.00,242.17 L514.25,242.18 L514.50,242.20 L514.75,242.21 L515.00,242.23 L515.25,242.24 L515.50,242.25 L515.75,242.27 L516.00,242.28 L516.25,242.29 L516.50,242.30 L516.75,242.31 L517.00,242.32 L517.25,242.34 L517.50,242.35 L517.75,242.36 L518.00,242.37 L518.25,242.38 L518.50,242.38 L518.75,242.39 L519.00,242.40 L519.25,242.41 L519.50,242.42 L519.75,242.43 L520.00,242.44 L520.25,242.44 L520.50,242.45 L520.75,242.46 L521.00,242.47 L521.25,242.47 L521.50,242.48 L521.75,242.49 L522.00,242.50 L522.25,242.50 L522.50,242.51 L522.75,242.52 L523.00,242.52 L523.25,242.53 L523.50,242.54 L523.75,242.54 L524.00,242.55 L524.25,242.55 L524.50,242.56 L524.75,242.57 L525.00,242.57 L525.25,242.58 L525.50,242.58 L525.75,242.59 L526.00,242.59 L526.25,242.60 L526.50,242.60 L526.75,242.61 L527.00,242.61 L527.25,242.62 L527.50,242.62 L527.75,242.63 L528.00,242.63 L528.25,242.64 L528.50,242.64 L528.75,242.65 L529.00,242.65 L529.25,242.66 L529.50,242.66 L529.75,242.67 L530.00,242.67 L530.25,242.68 L530.50,242.68 L530.75,242.68 L531.00,242.69 L531.25,242.69 L531.50,242.70 L531.75,242.70 L532.00,242.71 L532.25,242.71 L532.50,242.71 L532.75,242.72 L533.00,242.72 L533.25,242.73 L533.50,242.73 L533.75,242.73 L534.00,242.74 L534.25,242.74 L534.50,242.74 L534.75,242.75 L535.00,242.75 L535.25,242.75 L535.50,242.76 L535.75,242.76 L536.00,242.77 L536.25,242.77 L536.50,242.77 L536.75,242.78 L537.00,242.78 L537.25,242.78 L537.50,242.79 L537.75,242.79 L538.00,242.79 L538.25,242.80 L538.50,242.80 L538.75,242.80 L539.00,242.80 L539.25,242.81 L539.50,242.81 L539.75,242.81 L540.00,242.82 L540.25,242.82 L540.50,242.82 L540.75,242.82 L541.00,242.83 L541.25,242.83 L541.50,242.83 L541.75,242.84 L542.00,242.84 L542.25,242.84 L542.50,242.84 L542.75,242.85 L543.00,242.85 L543.25,242.85 L543.50,242.85 L543.75,242.86 L544.00,242.86 L544.25,242.86 L544.50,242.86 L544.75,242.87 L545.00,242.87 L545.25,242.87 L545.50,242.87 L545.75,242.88 L546.00,242.88 L546.25,242.88 L546.50,242.88 L546.75,242.88 L547.00,242.89 L547.25,242.89 L547.50,242.89 L547.75,242.89 L548.00,242.89 L548.25,242.90 L548.50,242.90 L548.75,242.90 L549.00,242.90 L549.25,242.90 L549.50,242.91 L549.75,242.91 L550.00,242.91 L550.25,242.91 L550.50,242.91 L550.75,242.91 L551.00,242.91 L551.25,242.92 L551.50,242.92 L551.75,242.92 L552.00,242.92 L552.25,242.92 L552.50,242.92 L552.75,242.92 L553.00,242.93 L553.25,242.93 L553.50,242.93 L553.75,242.93 L554.00,242.93 L554.25,242.93 L554.50,242.93 L554.75,242.93 L555.00,242.93 L555.25,242.93 L555.50,242.93 L555.75,242.93 L556.00,242.93 L556.25,242.93 L556.50,242.93 L556.75,242.93 L557.00,242.93 L557.25,242.93 L557.50,242.93 L557.75,242.93 L558.00,242.93 L558.25,242.93 L558.50,242.93 L558.75,242.93 L559.00,242.93 L559.25,242.93 L559.50,242.93 L559.75,242.92 L560.00,242.92 L560.25,242.92 L560.50,242.92 L560.75,242.91 L561.00,242.91 L561.25,242.91 L561.50,242.90 L561.75,242.90 L562.00,242.90 L562.25,242.89 L562.50,242.88 L562.75,242.88 L563.00,242.87 L563.25,242.86 L563.50,242.86 L563.75,242.85 L564.00,242.84 L564.25,242.82 L564.50,242.81 L564.75,242.80 L565.00,242.78 L565.25,242.76 L565.50,242.74 L565.75,242.72 L566.00,242.70 L566.25,242.67 L566.50,242.64 L566.75,242.60 L567.00,242.56 L567.25,242.51 L567.50,242.45 L567.75,242.38 L568.00,242.30 L568.25,242.20 L568.50,242.08 L568.75,241.94 L569.00,241.76 L569.25,241.53 L569.50,241.23 L569.75,240.84 L570.00,240.30 L570.25,239.55 L570.50,238.48 L570.75,236.88 L571.00,234.49 L571.25,231.17 L571.50,227.58 L571.70,226.00 L571.75,225.93 L572.00,227.16 L572.25,229.02 L572.50,229.55 L572.75,228.37 L573.00,226.43 L573.20,226.00 L573.25,226.21 L573.50,228.93 L573.75,232.60 L574.00,235.56 L574.25,237.59 L574.50,238.96 L574.75,239.89 L575.00,240.54 L575.25,241.01 L575.50,241.36 L575.75,241.62 L576.00,241.83 L576.25,241.99 L576.50,242.13 L576.75,242.23 L577.00,242.32 L577.25,242.40 L577.50,242.46 L577.75,242.51 L578.00,242.56 L578.25,242.59 L578.50,242.62 L578.75,242.65 L579.00,242.67 L579.25,242.69 L579.50,242.70 L579.75,242.72 L580.00,242.72 L580.25,242.73 L580.50,242.73 L580.75,242.73 L581.00,242.72 L581.25,242.71 L581.50,242.70 L581.75,242.68 L582.00,242.66 L582.25,242.63 L582.50,242.59 L582.75,242.54 L583.00,242.48 L583.25,242.40 L583.50,242.31 L583.75,242.19 L584.00,242.03 L584.25,241.83 L584.50,241.57 L584.75,241.24 L585.00,240.82 L585.25,240.34 L585.50,239.85 L585.75,239.45 L586.00,239.30 L586.25,239.46 L586.50,239.86 L586.75,240.36 L587.00,240.85 L587.25,241.26 L587.50,241.60 L587.75,241.86 L588.00,242.07 L588.25,242.23 L588.50,242.36 L588.75,242.47 L589.00,242.55 L589.25,242.62 L589.50,242.67 L589.75,242.72 L590.00,242.75 L590.25,242.79 L590.50,242.81 L590.75,242.84 L591.00,242.86 L591.25,242.87 L591.50,242.89 L591.75,242.90 L592.00,242.91 L592.25,242.91 L592.50,242.92 L592.75,242.92 L593.00,242.93 L593.25,242.93 L593.50,242.93 L593.75,242.93 L594.00,242.93 L594.25,242.92 L594.50,242.92 L594.75,242.91 L595.00,242.91 L595.25,242.90 L595.50,242.89 L595.75,242.87 L596.00,242.86 L596.25,242.84 L596.50,242.82 L596.75,242.80 L597.00,242.77 L597.25,242.74 L597.50,242.70 L597.75,242.66 L598.00,242.61 L598.25,242.55 L598.50,242.48 L598.75,242.39 L599.00,242.29 L599.25,242.16 L599.50,242.00 L599.75,241.80 L600.00,241.54 L600.25,241.20 L600.50,240.74 L600.75,240.11 L601.00,239.21 L601.25,237.87 L601.50,235.80 L601.75,232.48 L602.00,227.09 L602.25,219.17 L602.50,211.87 L602.60,211.00 L602.75,212.89 L603.00,220.91 L603.25,228.38 L603.50,233.29 L603.75,236.30 L604.00,238.20 L604.25,239.43 L604.50,240.28 L604.75,240.87 L605.00,241.30 L605.25,241.63 L605.50,241.88 L605.75,242.07 L606.00,242.23 L606.25,242.36 L606.50,242.46 L606.75,242.55 L607.00,242.62 L607.25,242.68 L607.50,242.73 L607.75,242.78 L608.00,242.82 L608.25,242.85 L608.50,242.88 L608.75,242.91 L609.00,242.93 L609.25,242.95 L609.50,242.97 L609.75,242.99 L610.00,243.00 L610.25,243.02 L610.50,243.03 L610.75,243.04 L611.00,243.05 L611.25,243.06 L611.50,243.07 L611.75,243.08 L612.00,243.09 L612.25,243.10 L612.50,243.10 L612.75,243.11 L613.00,243.12 L613.25,243.12 L613.50,243.13 L613.75,243.13 L614.00,243.14 L614.25,243.14 L614.50,243.14 L614.75,243.15 L615.00,243.15 L615.25,243.15 L615.50,243.16 L615.75,243.16 L616.00,243.16 L616.25,243.17 L616.50,243.17 L616.75,243.17 L617.00,243.17 L617.25,243.18 L617.50,243.18 L617.75,243.18 L618.00,243.18 L618.25,243.18 L618.50,243.19 L618.75,243.19 L619.00,243.19 L619.25,243.19 L619.50,243.19 L619.75,243.19 L620.00,243.19 L620.25,243.20 L620.50,243.20 L620.75,243.20 L621.00,243.20 L621.25,243.20 L621.50,243.20 L621.75,243.20 L622.00,243.20 L622.25,243.20 L622.50,243.20 L622.75,243.20 L623.00,243.21 L623.25,243.21 L623.50,243.21 L623.75,243.21 L624.00,243.21 L624.25,243.21 L624.50,243.21 L624.75,243.21 L625.00,243.21 L625.25,243.21 L625.50,243.21 L625.75,243.21 L626.00,243.21 L626.25,243.21 L626.50,243.21 L626.75,243.21 L627.00,243.21 L627.25,243.21 L627.50,243.21 L627.75,243.21 L628.00,243.21 L628.25,243.21 L628.50,243.21 L628.75,243.21 L629.00,243.21 L629.25,243.21 L629.50,243.21 L629.75,243.21 L630.00,243.21 L630.25,243.21 L630.50,243.21 L630.75,243.21 L631.00,243.21 L631.25,243.21 L631.50,243.21 L631.75,243.21 L632.00,243.20 L632.25,243.20 L632.50,243.20 L632.75,243.20 L633.00,243.20 L633.25,243.20 L633.50,243.20 L633.75,243.20 L634.00,243.20 L634.25,243.20 L634.50,243.20 L634.75,243.19 L635.00,243.19 L635.25,243.19 L635.50,243.19 L635.75,243.19 L636.00,243.19 L636.25,243.19 L636.50,243.18 L636.75,243.18 L637.00,243.18 L637.25,243.18 L637.50,243.18 L637.75,243.17 L638.00,243.17 L638.25,243.17 L638.50,243.17 L638.75,243.16 L639.00,243.16 L639.25,243.16 L639.50,243.16 L639.75,243.15 L640.00,243.15 L640.25,243.15 L640.50,243.14 L640.75,243.14 L641.00,243.14 L641.25,243.13 L641.50,243.13 L641.75,243.12 L642.00,243.12 L642.25,243.11 L642.50,243.11 L642.75,243.10 L643.00,243.10 L643.25,243.09 L643.50,243.09 L643.75,243.08 L644.00,243.07 L644.25,243.07 L644.50,243.06 L644.75,243.05 L645.00,243.04 L645.25,243.03 L645.50,243.02 L645.75,243.01 L646.00,243.00 L646.25,242.99 L646.50,242.98 L646.75,242.97 L647.00,242.95 L647.25,242.94 L647.50,242.92 L647.75,242.90 L648.00,242.88 L648.25,242.86 L648.50,242.84 L648.75,242.82 L649.00,242.79 L649.25,242.76 L649.50,242.73 L649.75,242.69 L650.00,242.65 L650.25,242.61 L650.50,242.56 L650.75,242.50 L651.00,242.44 L651.25,242.36 L651.50,242.28 L651.75,242.18 L652.00,242.06 L652.25,241.92 L652.50,241.75 L652.75,241.54 L653.00,241.28 L653.25,240.94 L653.50,240.51 L653.75,239.94 L654.00,239.17 L654.25,238.08 L654.50,236.49 L654.75,234.13 L655.00,230.56 L655.25,225.33 L655.50,218.91 L655.75,214.65 L655.80,214.50 L656.00,216.61 L656.25,222.70 L656.50,228.52 L656.75,232.67 L657.00,235.40 L657.25,237.19 L657.50,238.39 L657.75,239.21 L658.00,239.79 L658.25,240.20 L658.50,240.49 L658.75,240.70 L659.00,240.84 L659.25,240.93 L659.50,240.99 L659.75,241.01 L660.00,240.99 L660.25,240.96 L660.50,240.89 L660.75,240.80 L661.00,240.68 L661.25,240.53 L661.50,240.34 L661.75,240.11 L662.00,239.84 L662.25,239.51 L662.50,239.12 L662.75,238.63 L663.00,238.04 L663.25,237.30 L663.50,236.36 L663.75,235.17 L664.00,233.60 L664.25,231.51 L664.50,228.64 L664.75,224.63 L665.00,218.92 L665.25,210.86 L665.50,200.31 L665.75,189.34 L666.00,183.70 L666.25,187.32 L666.50,196.09 L666.75,204.12 L667.00,209.05 L667.25,210.71 L667.50,209.20 L667.75,204.30 L668.00,195.43 L668.25,182.31 L668.50,167.35 L668.75,158.48 L668.80,158.30 L669.00,163.55 L669.25,178.74 L669.50,194.79 L669.75,207.38 L670.00,216.34 L670.25,222.58 L670.50,226.99 L670.75,230.17 L671.00,232.52 L671.25,234.30 L671.50,235.67 L671.75,236.76 L672.00,237.62 L672.25,238.33 L672.50,238.91 L672.75,239.39 L673.00,239.80 L673.25,240.15 L673.50,240.45 L673.75,240.71 L674.00,240.93 L674.25,241.13 L674.50,241.30 L674.75,241.45 L675.00,241.59 L675.25,241.71 L675.50,241.82 L675.75,241.92 L676.00,242.01 L676.25,242.10 L676.50,242.17 L676.75,242.24 L677.00,242.30 L677.25,242.36 L677.50,242.41 L677.75,242.46 L678.00,242.51 L678.25,242.55 L678.50,242.59 L678.75,242.62 L679.00,242.66 L679.25,242.69 L679.50,242.72 L679.75,242.74 L680.00,242.77 L680.25,242.80 L680.50,242.82 L680.75,242.84 L681.00,242.86 L681.25,242.88" fill="none" stroke="#8c2884" stroke-width="1.3" stroke-linejoin="round"/><path d="M331.00,79.48 L331.25,79.46 L331.50,79.43 L331.75,79.40 L332.00,79.37 L332.25,79.34 L332.50,79.31 L332.75,79.27 L333.00,79.23 L333.25,79.19 L333.50,79.14 L333.75,79.09 L334.00,79.04 L334.25,78.98 L334.50,78.92 L334.75,78.85 L335.00,78.78 L335.25,78.70 L335.50,78.61 L335.75,78.51 L336.00,78.41 L336.25,78.29 L336.50,78.16 L336.75,78.01 L337.00,77.85 L337.25,77.67 L337.50,77.47 L337.75,77.24 L338.00,76.98 L338.25,76.68 L338.50,76.34 L338.75,75.95 L339.00,75.50 L339.25,74.97 L339.50,74.36 L339.75,73.63 L340.00,72.76 L340.25,71.73 L340.50,70.50 L340.75,69.02 L341.00,67.24 L341.25,65.11 L341.50,62.60 L341.75,59.70 L342.00,56.49 L342.25,53.19 L342.50,50.21 L342.75,48.08 L343.00,47.30 L343.25,48.08 L343.50,50.20 L343.75,53.18 L344.00,56.47 L344.25,59.67 L344.50,62.57 L344.75,65.07 L345.00,67.20 L345.25,68.97 L345.50,70.45 L345.75,71.67 L346.00,72.70 L346.25,73.56 L346.50,74.28 L346.75,74.89 L347.00,75.41 L347.25,75.86 L347.50,76.24 L347.75,76.58 L348.00,76.87 L348.25,77.12 L348.50,77.34 L348.75,77.54 L349.00,77.71 L349.25,77.87 L349.50,78.01 L349.75,78.13 L350.00,78.24 L350.25,78.34 L350.50,78.43 L350.75,78.51 L351.00,78.58 L351.25,78.65 L351.50,78.71 L351.75,78.76 L352.00,78.81 L352.25,78.85 L352.50,78.89 L352.75,78.93 L353.00,78.96 L353.25,78.99 L353.50,79.02 L353.75,79.04 L354.00,79.06 L354.25,79.08 L354.50,79.10 L354.75,79.11 L355.00,79.13 L355.25,79.14 L355.50,79.15 L355.75,79.15 L356.00,79.16 L356.25,79.16 L356.50,79.16 L356.75,79.16 L357.00,79.16 L357.25,79.16 L357.50,79.15 L357.75,79.14 L358.00,79.13 L358.25,79.12 L358.50,79.11 L358.75,79.09 L359.00,79.08 L359.25,79.06 L359.50,79.03 L359.75,79.01 L360.00,78.98 L360.25,78.95 L360.50,78.91 L360.75,78.87 L361.00,78.82 L361.25,78.77 L361.50,78.72 L361.75,78.65 L362.00,78.58 L362.25,78.50 L362.50,78.41 L362.75,78.31 L363.00,78.20 L363.25,78.07 L363.50,77.91 L363.75,77.74 L364.00,77.54 L364.25,77.30 L364.50,77.02 L364.75,76.69 L365.00,76.30 L365.25,75.82 L365.50,75.24 L365.75,74.53 L366.00,73.67 L366.25,72.60 L366.50,71.29 L366.75,69.72 L367.00,67.89 L367.25,65.91 L367.50,64.00 L367.75,62.57 L368.00,62.00 L368.25,62.48 L368.50,63.84 L368.75,65.65 L369.00,67.55 L369.25,69.29 L369.50,70.77 L369.75,71.97 L370.00,72.93 L370.25,73.68 L370.50,74.26 L370.75,74.70 L371.00,75.02 L371.25,75.25 L371.50,75.38 L371.75,75.44 L372.00,75.42 L372.25,75.33 L372.50,75.16 L372.75,74.90 L373.00,74.54 L373.25,74.06 L373.50,73.44 L373.75,72.65 L374.00,71.65 L374.25,70.41 L374.50,68.90 L374.75,67.15 L375.00,65.28 L375.25,63.54 L375.50,62.34 L375.70,62.00 L375.75,62.02 L376.00,62.69 L376.25,64.13 L376.50,65.93 L376.75,67.74 L377.00,69.37 L377.25,70.75 L377.50,71.86 L377.75,72.75 L378.00,73.45 L378.25,73.98 L378.50,74.40 L378.75,74.70 L379.00,74.92 L379.25,75.06 L379.50,75.14 L379.75,75.16 L380.00,75.12 L380.25,75.03 L380.50,74.88 L380.75,74.66 L381.00,74.39 L381.25,74.04 L381.50,73.60 L381.75,73.06 L382.00,72.39 L382.25,71.57 L382.50,70.57 L382.75,69.34 L383.00,67.84 L383.25,66.04 L383.50,63.94 L383.75,61.62 L384.00,59.29 L384.25,57.30 L384.50,56.00 L384.75,55.54 L385.00,55.71 L385.25,56.09 L385.50,56.27 L385.75,55.99 L386.00,55.10 L386.25,53.60 L386.50,51.59 L386.75,49.29 L387.00,47.10 L387.25,45.51 L387.50,45.00 L387.75,45.76 L388.00,47.61 L388.25,50.09 L388.50,52.72 L388.75,55.11 L389.00,57.05 L389.25,58.41 L389.50,59.16 L389.75,59.28 L390.00,58.82 L390.25,57.89 L390.50,56.78 L390.75,55.98 L391.00,56.00 L391.25,57.11 L391.50,59.08 L391.75,61.43 L392.00,63.72 L392.25,65.71 L392.50,67.33 L392.75,68.58 L393.00,69.51 L393.25,70.15 L393.50,70.55 L393.75,70.70 L394.00,70.61 L394.25,70.27 L394.50,69.64 L394.75,68.70 L395.00,67.41 L395.25,65.82 L395.50,64.11 L395.75,62.67 L396.00,62.00 L396.25,62.32 L396.50,63.37 L396.75,64.63 L397.00,65.68 L397.25,66.29 L397.50,66.39 L397.75,65.97 L398.00,65.13 L398.25,64.09 L398.50,63.25 L398.70,63.00 L398.75,63.01 L399.00,63.50 L399.25,64.43 L399.50,65.37 L399.75,65.97 L400.00,66.07 L400.25,65.62 L400.50,64.67 L400.75,63.43 L401.00,62.33 L401.25,61.95 L401.30,62.00 L401.50,62.67 L401.75,64.34 L402.00,66.46 L402.25,68.54 L402.50,70.36 L402.75,71.85 L403.00,73.03 L403.25,73.97 L403.50,74.71 L403.75,75.30 L404.00,75.78 L404.25,76.17 L404.50,76.49 L404.75,76.75 L405.00,76.97 L405.25,77.15 L405.50,77.30 L405.75,77.43 L406.00,77.53 L406.25,77.62 L406.50,77.69 L406.75,77.75 L407.00,77.80 L407.25,77.83 L407.50,77.86 L407.75,77.87 L408.00,77.87 L408.25,77.87 L408.50,77.85 L408.75,77.83 L409.00,77.79 L409.25,77.75 L409.50,77.69 L409.75,77.62 L410.00,77.53 L410.25,77.43 L410.50,77.31 L410.75,77.17 L411.00,77.01 L411.25,76.82 L411.50,76.60 L411.75,76.34 L412.00,76.04 L412.25,75.68 L412.50,75.25 L412.75,74.74 L413.00,74.14 L413.25,73.40 L413.50,72.52 L413.75,71.44 L414.00,70.12 L414.25,68.53 L414.50,66.60 L414.75,64.34 L415.00,61.77 L415.25,59.06 L415.50,56.54 L415.75,54.69 L416.00,54.00 L416.25,54.66 L416.50,56.47 L416.75,58.96 L417.00,61.64 L417.25,64.17 L417.50,66.40 L417.75,68.29 L418.00,69.84 L418.25,71.11 L418.50,72.15 L418.75,72.98 L419.00,73.66 L419.25,74.21 L419.50,74.64 L419.75,74.99 L420.00,75.27 L420.25,75.47 L420.50,75.62 L420.75,75.71 L421.00,75.74 L421.25,75.73 L421.50,75.65 L421.75,75.52 L422.00,75.31 L422.25,75.02 L422.50,74.63 L422.75,74.11 L423.00,73.43 L423.25,72.54 L423.50,71.38 L423.75,69.90 L424.00,68.06 L424.25,65.90 L424.50,63.65 L424.75,61.81 L425.00,61.00 L425.25,61.51 L425.50,63.04 L425.75,64.94 L426.00,66.69 L426.25,68.03 L426.50,68.87 L426.75,69.19 L427.00,68.99 L427.25,68.31 L427.50,67.28 L427.75,66.30 L428.00,66.00 L428.25,66.72 L428.50,68.15 L428.75,69.70 L429.00,71.00 L429.25,71.96 L429.50,72.60 L429.75,72.99 L430.00,73.17 L430.25,73.16 L430.50,73.00 L430.75,72.67 L431.00,72.16 L431.25,71.45 L431.50,70.49 L431.75,69.21 L432.00,67.50 L432.25,65.18 L432.50,61.98 L432.75,57.43 L433.00,50.71 L433.25,40.29 L433.50,23.05 L433.75,18.00 M435.75,18.00 L435.75,27.58 L436.00,43.15 L436.25,52.74 L436.50,59.02 L436.75,63.34 L437.00,66.43 L437.25,68.72 L437.50,70.46 L437.75,71.81 L438.00,72.89 L438.25,73.75 L438.50,74.46 L438.75,75.04 L439.00,75.53 L439.25,75.95 L439.50,76.30 L439.75,76.60 L440.00,76.86 L440.25,77.09 L440.50,77.29 L440.75,77.47 L441.00,77.63 L441.25,77.77 L441.50,77.89 L441.75,78.00 L442.00,78.10 L442.25,78.19 L442.50,78.27 L442.75,78.34 L443.00,78.41 L443.25,78.47 L443.50,78.52 L443.75,78.57 L444.00,78.61 L444.25,78.66 L444.50,78.69 L444.75,78.73 L445.00,78.76 L445.25,78.78 L445.50,78.81 L445.75,78.83 L446.00,78.85 L446.25,78.87 L446.50,78.88 L446.75,78.90 L447.00,78.91 L447.25,78.92 L447.50,78.93 L447.75,78.93 L448.00,78.94 L448.25,78.94 L448.50,78.94 L448.75,78.94 L449.00,78.94 L449.25,78.94 L449.50,78.93 L449.75,78.93 L450.00,78.92 L450.25,78.91 L450.50,78.90 L450.75,78.89 L451.00,78.87 L451.25,78.86 L451.50,78.84 L451.75,78.82 L452.00,78.80 L452.25,78.78 L452.50,78.75 L452.75,78.72 L453.00,78.69 L453.25,78.66 L453.50,78.62 L453.75,78.58 L454.00,78.54 L454.25,78.49 L454.50,78.44 L454.75,78.39 L455.00,78.33 L455.25,78.27 L455.50,78.20 L455.75,78.12 L456.00,78.04 L456.25,77.95 L456.50,77.86 L456.75,77.75 L457.00,77.63 L457.25,77.51 L457.50,77.37 L457.75,77.21 L458.00,77.05 L458.25,76.86 L458.50,76.65 L458.75,76.42 L459.00,76.17 L459.25,75.89 L459.50,75.57 L459.75,75.22 L460.00,74.82 L460.25,74.38 L460.50,73.89 L460.75,73.34 L461.00,72.72 L461.25,72.04 L461.50,71.28 L461.75,70.45 L462.00,69.55 L462.25,68.60 L462.50,67.61 L462.75,66.62 L463.00,65.68 L463.25,64.85 L463.50,64.19 L463.75,63.76 L464.00,63.60 L464.25,63.73 L464.50,64.13 L464.75,64.76 L465.00,65.56 L465.25,66.46 L465.50,67.42 L465.75,68.37 L466.00,69.29 L466.25,70.16 L466.50,70.95 L466.75,71.67 L467.00,72.32 L467.25,72.90 L467.50,73.41 L467.75,73.86 L468.00,74.25 L468.25,74.60 L468.50,74.90 L468.75,75.16 L469.00,75.39 L469.25,75.59 L469.50,75.75 L469.75,75.89 L470.00,76.01 L470.25,76.10 L470.50,76.17 L470.75,76.22 L471.00,76.25 L471.25,76.26 L471.50,76.25 L471.75,76.22 L472.00,76.17 L472.25,76.10 L472.50,76.01 L472.75,75.90 L473.00,75.76 L473.25,75.59 L473.50,75.39 L473.75,75.15 L474.00,74.88 L474.25,74.56 L474.50,74.18 L474.75,73.75 L475.00,73.24 L475.25,72.65 L475.50,71.96 L475.75,71.16 L476.00,70.23 L476.25,69.14 L476.50,67.88 L476.75,66.43 L477.00,64.78 L477.25,62.93 L477.50,60.93 L477.75,58.86 L478.00,56.86 L478.25,55.13 L478.50,53.88 L478.75,53.32 L478.80,53.30 L479.00,53.54 L479.25,54.49 L479.50,56.02 L479.75,57.91 L480.00,59.93 L480.25,61.93 L480.50,63.79 L480.75,65.47 L481.00,66.95 L481.25,68.22 L481.50,69.30 L481.75,70.21 L482.00,70.96 L482.25,71.58 L482.50,72.08 L482.75,72.47 L483.00,72.75 L483.25,72.93 L483.50,73.01 L483.75,72.98 L484.00,72.84 L484.25,72.58 L484.50,72.17 L484.75,71.58 L485.00,70.78 L485.25,69.74 L485.50,68.43 L485.75,66.85 L486.00,65.08 L486.25,63.32 L486.50,61.92 L486.75,61.30 L486.80,61.30 L487.00,61.70 L487.25,63.00 L487.50,64.84 L487.75,66.82 L488.00,68.68 L488.25,70.29 L488.50,71.64 L488.75,72.75 L489.00,73.65 L489.25,74.39 L489.50,74.99 L489.75,75.49 L490.00,75.90 L490.25,76.24 L490.50,76.53 L490.75,76.77 L491.00,76.98 L491.25,77.16 L491.50,77.31 L491.75,77.44 L492.00,77.56 L492.25,77.65 L492.50,77.74 L492.75,77.81 L493.00,77.87 L493.25,77.93 L493.50,77.97 L493.75,78.01 L494.00,78.04 L494.25,78.06 L494.50,78.08 L494.75,78.10 L495.00,78.10 L495.25,78.11 L495.50,78.10 L495.75,78.10 L496.00,78.08 L496.25,78.07 L496.50,78.04 L496.75,78.02 L497.00,77.98 L497.25,77.94 L497.50,77.90 L497.75,77.85 L498.00,77.79 L498.25,77.73 L498.50,77.66 L498.75,77.59 L499.00,77.50 L499.25,77.41 L499.50,77.31 L499.75,77.20 L500.00,77.08 L500.25,76.96 L500.50,76.82 L500.75,76.68 L501.00,76.53 L501.25,76.37 L501.50,76.21 L501.75,76.05 L502.00,75.88 L502.25,75.72 L502.50,75.56 L502.75,75.42 L503.00,75.29 L503.25,75.18 L503.50,75.09 L503.75,75.03 L504.00,75.00 L504.25,75.00 L504.50,75.02 L504.75,75.07 L505.00,75.15 L505.25,75.24 L505.50,75.35 L505.75,75.46 L506.00,75.59 L506.25,75.71 L506.50,75.83 L506.75,75.95 L507.00,76.06 L507.25,76.16 L507.50,76.26 L507.75,76.34 L508.00,76.41 L508.25,76.46 L508.50,76.51 L508.75,76.54 L509.00,76.56 L509.25,76.56 L509.50,76.56 L509.75,76.53 L510.00,76.50 L510.25,76.44 L510.50,76.37 L510.75,76.28 L511.00,76.18 L511.25,76.05 L511.50,75.89 L511.75,75.72 L512.00,75.51 L512.25,75.26 L512.50,74.98 L512.75,74.66 L513.00,74.28 L513.25,73.83 L513.50,73.32 L513.75,72.71 L514.00,72.00 L514.25,71.16 L514.50,70.16 L514.75,68.98 L515.00,67.58 L515.25,65.91 L515.50,63.93 L515.75,61.61 L516.00,58.93 L516.25,55.96 L516.50,52.81 L516.75,49.79 L517.00,47.29 L517.25,45.78 L517.40,45.50 L517.50,45.59 L517.75,46.76 L518.00,48.99 L518.25,51.85 L518.50,54.89 L518.75,57.81 L519.00,60.43 L519.25,62.71 L519.50,64.63 L519.75,66.22 L520.00,67.52 L520.25,68.59 L520.50,69.44 L520.75,70.12 L521.00,70.64 L521.25,71.03 L521.50,71.29 L521.75,71.45 L522.00,71.50 L522.25,71.44 L522.50,71.28 L522.75,71.00 L523.00,70.59 L523.25,70.05 L523.50,69.34 L523.75,68.44 L524.00,67.31 L524.25,65.91 L524.50,64.19 L524.75,62.12 L525.00,59.66 L525.25,56.84 L525.50,53.79 L525.75,50.77 L526.00,48.23 L526.25,46.68 L526.40,46.40 L526.50,46.51 L526.75,47.75 L527.00,50.08 L527.25,52.99 L527.50,56.00 L527.75,58.81 L528.00,61.28 L528.25,63.35 L528.50,65.05 L528.75,66.41 L529.00,67.48 L529.25,68.30 L529.50,68.89 L529.75,69.30 L530.00,69.53 L530.25,69.59 L530.50,69.49 L530.75,69.22 L531.00,68.78 L531.25,68.14 L531.50,67.29 L531.75,66.19 L532.00,64.82 L532.25,63.13 L532.50,61.12 L532.75,58.81 L533.00,56.28 L533.25,53.73 L533.50,51.48 L533.75,49.92 L534.00,49.40 L534.25,50.07 L534.50,51.79 L534.75,54.21 L535.00,56.92 L535.25,59.63 L535.50,62.12 L535.75,64.33 L536.00,66.23 L536.25,67.84 L536.50,69.20 L536.75,70.34 L537.00,71.30 L537.25,72.11 L537.50,72.79 L537.75,73.37 L538.00,73.87 L538.25,74.29 L538.50,74.65 L538.75,74.95 L539.00,75.22 L539.25,75.44 L539.50,75.64 L539.75,75.80 L540.00,75.94 L540.25,76.05 L540.50,76.14 L540.75,76.22 L541.00,76.27 L541.25,76.31 L541.50,76.33 L541.75,76.33 L542.00,76.31 L542.25,76.28 L542.50,76.23 L542.75,76.15 L543.00,76.06 L543.25,75.94 L543.50,75.79 L543.75,75.60 L544.00,75.38 L544.25,75.11 L544.50,74.79 L544.75,74.40 L545.00,73.93 L545.25,73.35 L545.50,72.66 L545.75,71.81 L546.00,70.79 L546.25,69.58 L546.50,68.19 L546.75,66.66 L547.00,65.15 L547.25,63.87 L547.50,63.11 L547.60,63.00 L547.75,63.05 L548.00,63.65 L548.25,64.71 L548.50,65.95 L548.75,67.16 L549.00,68.20 L549.25,69.03 L549.50,69.65 L549.75,70.06 L550.00,70.30 L550.25,70.37 L550.50,70.28 L550.75,70.05 L551.00,69.67 L551.25,69.13 L551.50,68.43 L551.75,67.53 L552.00,66.41 L552.25,65.03 L552.50,63.35 L552.75,61.31 L553.00,58.84 L553.25,55.91 L553.50,52.49 L553.75,48.65 L554.00,44.61 L554.25,40.78 L554.50,37.75 L554.75,36.12 L554.80,36.00 L555.00,36.21 L555.25,37.85 L555.50,40.52 L555.75,43.56 L556.00,46.46 L556.25,48.91 L556.50,50.77 L556.75,51.98 L557.00,52.55 L557.25,52.49 L557.50,51.81 L557.75,50.49 L558.00,48.54 L558.25,45.93 L558.50,42.70 L558.75,38.92 L559.00,34.78 L559.25,30.65 L559.50,27.07 L559.75,24.68 L560.00,24.00 L560.25,25.27 L560.50,28.27 L560.75,32.48 L561.00,37.28 L561.25,42.14 L561.50,46.71 L561.75,50.84 L562.00,54.45 L562.25,57.56 L562.50,60.22 L562.75,62.49 L563.00,64.43 L563.25,66.08 L563.50,67.49 L563.75,68.71 L564.00,69.76 L564.25,70.67 L564.50,71.47 L564.75,72.17 L565.00,72.78 L565.25,73.33 L565.50,73.81 L565.75,74.24 L566.00,74.63 L566.25,74.97 L566.50,75.29 L566.75,75.57 L567.00,75.83 L567.25,76.06 L567.50,76.27 L567.75,76.47 L568.00,76.65 L568.25,76.81 L568.50,76.96 L568.75,77.10 L569.00,77.23 L569.25,77.35 L569.50,77.46 L569.75,77.57 L570.00,77.66 L570.25,77.75 L570.50,77.84 L570.75,77.91 L571.00,77.99 L571.25,78.06 L571.50,78.12 L571.75,78.18 L572.00,78.24 L572.25,78.29 L572.50,78.34 L572.75,78.39 L573.00,78.43 L573.25,78.47 L573.50,78.51 L573.75,78.55 L574.00,78.58 L574.25,78.62 L574.50,78.65 L574.75,78.67 L575.00,78.70 L575.25,78.73 L575.50,78.75 L575.75,78.77 L576.00,78.79 L576.25,78.81 L576.50,78.83 L576.75,78.85 L577.00,78.87 L577.25,78.88 L577.50,78.89 L577.75,78.91 L578.00,78.92 L578.25,78.93 L578.50,78.94 L578.75,78.95 L579.00,78.95 L579.25,78.96 L579.50,78.96 L579.75,78.97 L580.00,78.97 L580.25,78.97 L580.50,78.97 L580.75,78.97 L581.00,78.97 L581.25,78.97 L581.50,78.97 L581.75,78.96 L582.00,78.96 L582.25,78.95 L582.50,78.94 L582.75,78.94 L583.00,78.93 L583.25,78.91 L583.50,78.90 L583.75,78.89 L584.00,78.87 L584.25,78.85 L584.50,78.83 L584.75,78.81 L585.00,78.78 L585.25,78.76 L585.50,78.73 L585.75,78.70 L586.00,78.66 L586.25,78.63 L586.50,78.58 L586.75,78.54 L587.00,78.49 L587.25,78.44 L587.50,78.38 L587.75,78.32 L588.00,78.25 L588.25,78.17 L588.50,78.09 L588.75,78.00 L589.00,77.90 L589.25,77.78 L589.50,77.66 L589.75,77.52 L590.00,77.37 L590.25,77.20 L590.50,77.01 L590.75,76.79 L591.00,76.55 L591.25,76.28 L591.50,75.97 L591.75,75.62 L592.00,75.21 L592.25,74.75 L592.50,74.22 L592.75,73.61 L593.00,72.90 L593.25,72.07 L593.50,71.12 L593.75,70.02 L594.00,68.76 L594.25,67.33 L594.50,65.75 L594.75,64.05 L595.00,62.32 L595.25,60.67 L595.50,59.28 L595.75,58.34 L596.00,58.00 L596.25,58.32 L596.50,59.23 L596.75,60.60 L597.00,62.23 L597.25,63.94 L597.50,65.62 L597.75,67.18 L598.00,68.58 L598.25,69.81 L598.50,70.89 L598.75,71.81 L599.00,72.61 L599.25,73.29 L599.50,73.88 L599.75,74.38 L600.00,74.81 L600.25,75.18 L600.50,75.50 L600.75,75.77 L601.00,76.01 L601.25,76.21 L601.50,76.38 L601.75,76.52 L602.00,76.64 L602.25,76.74 L602.50,76.82 L602.75,76.89 L603.00,76.93 L603.25,76.96 L603.50,76.98 L603.75,76.98 L604.00,76.97 L604.25,76.94 L604.50,76.89 L604.75,76.84 L605.00,76.76 L605.25,76.66 L605.50,76.55 L605.75,76.41 L606.00,76.25 L606.25,76.07 L606.50,75.85 L606.75,75.59 L607.00,75.30 L607.25,74.96 L607.50,74.56 L607.75,74.09 L608.00,73.55 L608.25,72.91 L608.50,72.16 L608.75,71.26 L609.00,70.20 L609.25,68.94 L609.50,67.44 L609.75,65.66 L610.00,63.57 L610.25,61.15 L610.50,58.43 L610.75,55.51 L611.00,52.64 L611.25,50.16 L611.50,48.50 L611.70,48.00 L611.75,48.00 L612.00,48.75 L612.25,50.54 L612.50,52.96 L612.75,55.60 L613.00,58.12 L613.25,60.35 L613.50,62.18 L613.75,63.59 L614.00,64.56 L614.25,65.10 L614.50,65.19 L614.75,64.81 L615.00,63.97 L615.25,62.72 L615.50,61.31 L615.75,60.21 L616.00,60.00 L616.25,60.96 L616.50,62.84 L616.75,65.07 L617.00,67.19 L617.25,69.01 L617.50,70.48 L617.75,71.64 L618.00,72.55 L618.25,73.25 L618.50,73.80 L618.75,74.22 L619.00,74.53 L619.25,74.77 L619.50,74.93 L619.75,75.02 L620.00,75.06 L620.25,75.03 L620.50,74.95 L620.75,74.80 L621.00,74.59 L621.25,74.30 L621.50,73.91 L621.75,73.42 L622.00,72.80 L622.25,72.01 L622.50,71.03 L622.75,69.79 L623.00,68.26 L623.25,66.38 L623.50,64.14 L623.75,61.62 L624.00,59.05 L624.25,56.84 L624.50,55.56 L624.60,55.40 L624.75,55.57 L625.00,56.83 L625.25,58.88 L625.50,61.18 L625.75,63.32 L626.00,65.10 L626.25,66.45 L626.50,67.36 L626.75,67.86 L627.00,67.96 L627.25,67.65 L627.50,66.94 L627.75,65.82 L628.00,64.39 L628.25,62.83 L628.50,61.54 L628.75,60.99 L628.80,61.00 L629.00,61.47 L629.25,62.87 L629.50,64.74 L629.75,66.66 L630.00,68.36 L630.25,69.74 L630.50,70.81 L630.75,71.57 L631.00,72.08 L631.25,72.35 L631.50,72.40 L631.75,72.22 L632.00,71.81 L632.25,71.15 L632.50,70.26 L632.75,69.18 L633.00,68.08 L633.25,67.25 L633.50,67.00 L633.75,67.49 L634.00,68.58 L634.25,69.94 L634.50,71.31 L634.75,72.52 L635.00,73.53 L635.25,74.35 L635.50,75.00 L635.75,75.52 L636.00,75.93 L636.25,76.26 L636.50,76.52 L636.75,76.72 L637.00,76.89 L637.25,77.01 L637.50,77.11 L637.75,77.18 L638.00,77.22 L638.25,77.25 L638.50,77.25 L638.75,77.24 L639.00,77.21 L639.25,77.15 L639.50,77.08 L639.75,76.99 L640.00,76.88 L640.25,76.74 L640.50,76.58 L640.75,76.39 L641.00,76.17 L641.25,75.91 L641.50,75.60 L641.75,75.24 L642.00,74.82 L642.25,74.34 L642.50,73.76 L642.75,73.09 L643.00,72.29 L643.25,71.35 L643.50,70.23 L643.75,68.92 L644.00,67.37 L644.25,65.57 L644.50,63.51 L644.75,61.22 L645.00,58.79 L645.25,56.40 L645.50,54.33 L645.75,52.91 L646.00,52.40 L646.25,52.93 L646.50,54.38 L646.75,56.47 L647.00,58.88 L647.25,61.33 L647.50,63.65 L647.75,65.73 L648.00,67.56 L648.25,69.13 L648.50,70.47 L648.75,71.61 L649.00,72.58 L649.25,73.41 L649.50,74.11 L649.75,74.72 L650.00,75.24 L650.25,75.69 L650.50,76.08 L650.75,76.42 L651.00,76.73 L651.25,76.99 L651.50,77.23 L651.75,77.44 L652.00,77.62 L652.25,77.79 L652.50,77.94 L652.75,78.08 L653.00,78.20 L653.25,78.32 L653.50,78.42 L653.75,78.51 L654.00,78.60 L654.25,78.68 L654.50,78.75 L654.75,78.82 L655.00,78.88 L655.25,78.94 L655.50,78.99 L655.75,79.04 L656.00,79.08 L656.25,79.13 L656.50,79.17 L656.75,79.21 L657.00,79.24 L657.25,79.28 L657.50,79.31 L657.75,79.34 L658.00,79.36 L658.25,79.39 L658.50,79.42 L658.75,79.44 L659.00,79.46 L659.25,79.48 L659.50,79.50 L659.75,79.52 L660.00,79.54 L660.25,79.56 L660.50,79.58 L660.75,79.59 L661.00,79.61 L661.25,79.62 L661.50,79.63 L661.75,79.65 L662.00,79.66 L662.25,79.67 L662.50,79.69 L662.75,79.70 L663.00,79.71 L663.25,79.72 L663.50,79.73 L663.75,79.74 L664.00,79.75 L664.25,79.76 L664.50,79.76 L664.75,79.77 L665.00,79.78 L665.25,79.79 L665.50,79.80 L665.75,79.80 L666.00,79.81 L666.25,79.82 L666.50,79.82 L666.75,79.83 L667.00,79.84" fill="none" stroke="#8c2884" stroke-width="1.3" stroke-linejoin="round"/><line x1="330.3" y1="86" x2="667.7" y2="86" stroke="#555" stroke-width="1.0" stroke-linecap="butt"/><line x1="338" y1="86" x2="338" y2="88" stroke="#555" stroke-width="0.9" stroke-linecap="butt"/><line x1="354.7" y1="86" x2="354.7" y2="89.2" stroke="#555" stroke-width="0.9" stroke-linecap="butt"/><line x1="371.4" y1="86" x2="371.4" y2="88" stroke="#555" stroke-width="0.9" stroke-linecap="butt"/><line x1="388.1" y1="86" x2="388.1" y2="89.2" stroke="#555" stroke-width="0.9" stroke-linecap="butt"/><line x1="404.8" y1="86" x2="404.8" y2="88" stroke="#555" stroke-width="0.9" stroke-linecap="butt"/><line x1="421.5" y1="86" x2="421.5" y2="89.2" stroke="#555" stroke-width="0.9" stroke-linecap="butt"/><line x1="438.2" y1="86" x2="438.2" y2="88" stroke="#555" stroke-width="0.9" stroke-linecap="butt"/><line x1="454.9" y1="86" x2="454.9" y2="89.2" stroke="#555" stroke-width="0.9" stroke-linecap="butt"/><line x1="471.6" y1="86" x2="471.6" y2="88" stroke="#555" stroke-width="0.9" stroke-linecap="butt"/><line x1="488.3" y1="86" x2="488.3" y2="89.2" stroke="#555" stroke-width="0.9" stroke-linecap="butt"/><line x1="505" y1="86" x2="505" y2="88" stroke="#555" stroke-width="0.9" stroke-linecap="butt"/><line x1="521.7" y1="86" x2="521.7" y2="89.2" stroke="#555" stroke-width="0.9" stroke-linecap="butt"/><line x1="538.4" y1="86" x2="538.4" y2="88" stroke="#555" stroke-width="0.9" stroke-linecap="butt"/><line x1="555.1" y1="86" x2="555.1" y2="89.2" stroke="#555" stroke-width="0.9" stroke-linecap="butt"/><line x1="571.8" y1="86" x2="571.8" y2="88" stroke="#555" stroke-width="0.9" stroke-linecap="butt"/><line x1="588.5" y1="86" x2="588.5" y2="89.2" stroke="#555" stroke-width="0.9" stroke-linecap="butt"/><line x1="605.2" y1="86" x2="605.2" y2="88" stroke="#555" stroke-width="0.9" stroke-linecap="butt"/><line x1="621.9" y1="86" x2="621.9" y2="89.2" stroke="#555" stroke-width="0.9" stroke-linecap="butt"/><line x1="638.6" y1="86" x2="638.6" y2="88" stroke="#555" stroke-width="0.9" stroke-linecap="butt"/><line x1="655.3" y1="86" x2="655.3" y2="89.2" stroke="#555" stroke-width="0.9" stroke-linecap="butt"/><text x="355.1" y="107" font-family="Liberation Sans" font-size="14.4" fill="#1e1e1e" text-anchor="middle" font-weight="normal" letter-spacing="-0.4" stroke="#1e1e1e" stroke-width="0.25">7.5</text><text x="421.9" y="107" font-family="Liberation Sans" font-size="14.4" fill="#1e1e1e" text-anchor="middle" font-weight="normal" letter-spacing="-0.4" stroke="#1e1e1e" stroke-width="0.25">7.3</text><text x="488.7" y="107" font-family="Liberation Sans" font-size="14.4" fill="#1e1e1e" text-anchor="middle" font-weight="normal" letter-spacing="-0.4" stroke="#1e1e1e" stroke-width="0.25">7.1</text><text x="555.5" y="107" font-family="Liberation Sans" font-size="14.4" fill="#1e1e1e" text-anchor="middle" font-weight="normal" letter-spacing="-0.4" stroke="#1e1e1e" stroke-width="0.25">6.9</text><text x="622.3" y="107" font-family="Liberation Sans" font-size="14.4" fill="#1e1e1e" text-anchor="middle" font-weight="normal" letter-spacing="-0.4" stroke="#1e1e1e" stroke-width="0.25">6.7</text><text x="343" y="43.12" font-family="Liberation Sans" font-size="14" fill="#1e1e1e" text-anchor="middle" font-weight="normal" font-style="italic" stroke="#1e1e1e" stroke-width="0.25">g</text><text x="366.5" y="61.24" font-family="Liberation Sans" font-size="14" fill="#1e1e1e" text-anchor="middle" font-weight="normal" font-style="italic" stroke="#1e1e1e" stroke-width="0.25">d</text><text x="400" y="58.84" font-family="Liberation Sans" font-size="14" fill="#1e1e1e" text-anchor="middle" font-weight="normal" font-style="italic" stroke="#1e1e1e" stroke-width="0.25">v</text><text x="415" y="53.24" font-family="Liberation Sans" font-size="14" fill="#1e1e1e" text-anchor="middle" font-weight="normal" font-style="italic" stroke="#1e1e1e" stroke-width="0.25">f</text><text x="429.5" y="62.24" font-family="Liberation Sans" font-size="14" fill="#1e1e1e" text-anchor="middle" font-weight="normal" font-style="italic" stroke="#1e1e1e" stroke-width="0.25">t</text><text x="463" y="63.84" font-family="Liberation Sans" font-size="14" fill="#1e1e1e" text-anchor="middle" font-weight="normal" font-style="italic" stroke="#1e1e1e" stroke-width="0.25">o</text><text x="478" y="56.24" font-family="Liberation Sans" font-size="14" fill="#1e1e1e" text-anchor="middle" font-weight="normal" font-style="italic" stroke="#1e1e1e" stroke-width="0.25">l</text><text x="487" y="58.84" font-family="Liberation Sans" font-size="14" fill="#1e1e1e" text-anchor="middle" font-weight="normal" font-style="italic" stroke="#1e1e1e" stroke-width="0.25">r</text><text x="545" y="63.64" font-family="Liberation Sans" font-size="14" fill="#1e1e1e" text-anchor="middle" font-weight="normal" font-style="italic" stroke="#1e1e1e" stroke-width="0.25">u</text><text x="625.8" y="50.32" font-family="Liberation Sans" font-size="14" fill="#1e1e1e" text-anchor="middle" font-weight="normal" font-style="italic" stroke="#1e1e1e" stroke-width="0.25">j</text><text x="371.2" y="30.1" font-family="Liberation Sans" font-size="14" fill="#1e1e1e" text-anchor="middle" font-weight="normal" font-style="italic" stroke="#1e1e1e" stroke-width="0.25">m</text><text x="387.2" y="30.1" font-family="Liberation Sans" font-size="14" fill="#1e1e1e" text-anchor="middle" font-weight="normal" stroke="#1e1e1e" stroke-width="0.25">+</text><text x="399.8" y="30.1" font-family="Liberation Sans" font-size="14" fill="#1e1e1e" text-anchor="middle" font-weight="normal" font-style="italic" stroke="#1e1e1e" stroke-width="0.25">s</text><line x1="387" y1="31.5" x2="387" y2="38.5" stroke="#1e1e1e" stroke-width="1.1" stroke-linecap="round"/><path d="M385,37 L387,41.8 L389,37 Z" fill="#1e1e1e"/><text x="441.8" y="28" font-family="Liberation Sans" font-size="12" fill="#1e1e1e" text-anchor="middle" font-weight="bold">*</text><text x="46.2" y="226.14" font-family="Liberation Sans" font-size="14" fill="#1e1e1e" text-anchor="middle" font-weight="normal" font-style="italic" stroke="#1e1e1e" stroke-width="0.25">n</text><text x="125.4" y="228.64" font-family="Liberation Sans" font-size="14" fill="#1e1e1e" text-anchor="middle" font-weight="normal" font-style="italic" stroke="#1e1e1e" stroke-width="0.25">a</text><text x="235" y="237.84" font-family="Liberation Sans" font-size="14" fill="#1e1e1e" text-anchor="middle" font-weight="normal" font-style="italic" stroke="#1e1e1e" stroke-width="0.25">w</text><text x="272.2" y="207.12" font-family="Liberation Sans" font-size="14" fill="#1e1e1e" text-anchor="middle" font-weight="normal" font-style="italic" stroke="#1e1e1e" stroke-width="0.25">q</text><text x="313.7" y="219.84" font-family="Liberation Sans" font-size="14" fill="#1e1e1e" text-anchor="middle" font-weight="normal" font-style="italic" stroke="#1e1e1e" stroke-width="0.25">b</text><text x="328.5" y="222.74" font-family="Liberation Sans" font-size="14" fill="#1e1e1e" text-anchor="middle" font-weight="normal" font-style="italic" stroke="#1e1e1e" stroke-width="0.25">h</text><text x="339" y="220.62" font-family="Liberation Sans" font-size="14" fill="#1e1e1e" text-anchor="middle" font-weight="normal" font-style="italic" stroke="#1e1e1e" stroke-width="0.25">p</text><text x="353" y="228.94" font-family="Liberation Sans" font-size="14" fill="#1e1e1e" text-anchor="middle" font-weight="normal" font-style="italic" stroke="#1e1e1e" stroke-width="0.25">k</text><text x="373" y="224.64" font-family="Liberation Sans" font-size="14" fill="#1e1e1e" text-anchor="middle" font-weight="normal" font-style="italic" stroke="#1e1e1e" stroke-width="0.25">e</text><text x="387" y="217.54" font-family="Liberation Sans" font-size="14" fill="#1e1e1e" text-anchor="middle" font-weight="normal" font-style="italic" stroke="#1e1e1e" stroke-width="0.25">c</text><text x="573" y="224.84" font-family="Liberation Sans" font-size="14" fill="#1e1e1e" text-anchor="middle" font-weight="normal" font-style="italic" stroke="#1e1e1e" stroke-width="0.25">i</text><text x="663" y="180.84" font-family="Liberation Sans" font-size="14" fill="#1e1e1e" text-anchor="middle" font-weight="normal" font-style="italic" stroke="#1e1e1e" stroke-width="0.25">x</text><text x="668" y="155.62" font-family="Liberation Sans" font-size="14" fill="#1e1e1e" text-anchor="middle" font-weight="normal" font-style="italic" stroke="#1e1e1e" stroke-width="0.25">y</text><text x="421.2" y="158.8" font-family="Liberation Sans" font-size="11" fill="#1e1e1e" text-anchor="middle" font-weight="bold">*</text><text x="12.1" y="202.5" font-family="Liberation Sans" font-size="14" fill="#1e1e1e" text-anchor="middle" font-weight="bold" stroke="#1e1e1e" stroke-width="0.25">7</text><path d="M3.00,475.62 L3.25,475.61 L3.50,475.60 L3.75,475.60 L4.00,475.59 L4.25,475.58 L4.50,475.57 L4.75,475.57 L5.00,475.56 L5.25,475.55 L5.50,475.54 L5.75,475.53 L6.00,475.51 L6.25,475.50 L6.50,475.49 L6.75,475.47 L7.00,475.45 L7.25,475.44 L7.50,475.42 L7.75,475.39 L8.00,475.37 L8.25,475.34 L8.50,475.31 L8.75,475.28 L9.00,475.25 L9.25,475.21 L9.50,475.16 L9.75,475.11 L10.00,475.05 L10.25,474.98 L10.50,474.91 L10.75,474.82 L11.00,474.71 L11.25,474.59 L11.50,474.44 L11.75,474.27 L12.00,474.05 L12.25,473.78 L12.50,473.45 L12.75,473.01 L13.00,472.45 L13.25,471.69 L13.50,470.67 L13.75,469.27 L14.00,467.39 L14.25,465.05 L14.50,462.62 L14.75,461.10 L14.80,461.00 L15.00,461.31 L15.25,462.81 L15.50,464.47 L15.75,465.58 L16.00,465.92 L16.25,465.45 L16.50,464.11 L16.75,461.84 L17.00,458.81 L17.25,455.88 L17.50,454.70 L17.75,456.31 L18.00,459.71 L18.25,463.27 L18.50,466.20 L18.75,468.38 L19.00,469.96 L19.25,471.12 L19.50,471.98 L19.75,472.63 L20.00,473.12 L20.25,473.51 L20.50,473.82 L20.75,474.07 L21.00,474.27 L21.25,474.44 L21.50,474.58 L21.75,474.70 L22.00,474.81 L22.25,474.89 L22.50,474.97 L22.75,475.04 L23.00,475.09 L23.25,475.15 L23.50,475.19 L23.75,475.23 L24.00,475.27 L24.25,475.30 L24.50,475.33 L24.75,475.36 L25.00,475.38 L25.25,475.40 L25.50,475.43 L25.75,475.44 L26.00,475.46 L26.25,475.48 L26.50,475.49 L26.75,475.50 L27.00,475.52 L27.25,475.53 L27.50,475.54 L27.75,475.55 L28.00,475.56 L28.25,475.57 L28.50,475.58 L28.75,475.58 L29.00,475.59 L29.25,475.60 L29.50,475.60 L29.75,475.61 L30.00,475.61 L30.25,475.62 L30.50,475.63 L30.75,475.63 L31.00,475.63 L31.25,475.64 L31.50,475.64 L31.75,475.65 L32.00,475.65 L32.25,475.65 L32.50,475.66 L32.75,475.66 L33.00,475.66 L33.25,475.67 L33.50,475.67 L33.75,475.67 L34.00,475.67 L34.25,475.68 L34.50,475.68 L34.75,475.68 L35.00,475.68 L35.25,475.68 L35.50,475.69 L35.75,475.69 L36.00,475.69 L36.25,475.69 L36.50,475.69 L36.75,475.70 L37.00,475.70 L37.25,475.70 L37.50,475.70 L37.75,475.70 L38.00,475.70 L38.25,475.70 L38.50,475.70 L38.75,475.71 L39.00,475.71 L39.25,475.71 L39.50,475.71 L39.75,475.71 L40.00,475.71 L40.25,475.71 L40.50,475.71 L40.75,475.71 L41.00,475.71 L41.25,475.72 L41.50,475.72 L41.75,475.72 L42.00,475.72 L42.25,475.72 L42.50,475.72 L42.75,475.72 L43.00,475.72 L43.25,475.72 L43.50,475.72 L43.75,475.72 L44.00,475.72 L44.25,475.72 L44.50,475.72 L44.75,475.72 L45.00,475.73 L45.25,475.73 L45.50,475.73 L45.75,475.73 L46.00,475.73 L46.25,475.73 L46.50,475.73 L46.75,475.73 L47.00,475.73 L47.25,475.73 L47.50,475.73 L47.75,475.73 L48.00,475.73 L48.25,475.73 L48.50,475.73 L48.75,475.73 L49.00,475.73 L49.25,475.73 L49.50,475.73 L49.75,475.73 L50.00,475.73 L50.25,475.73 L50.50,475.73 L50.75,475.73 L51.00,475.73 L51.25,475.73 L51.50,475.73 L51.75,475.73 L52.00,475.74 L52.25,475.74 L52.50,475.74 L52.75,475.74 L53.00,475.74 L53.25,475.74 L53.50,475.74 L53.75,475.74 L54.00,475.74 L54.25,475.74 L54.50,475.74 L54.75,475.74 L55.00,475.74 L55.25,475.74 L55.50,475.74 L55.75,475.74 L56.00,475.74 L56.25,475.74 L56.50,475.74 L56.75,475.74 L57.00,475.74 L57.25,475.74 L57.50,475.74 L57.75,475.74 L58.00,475.74 L58.25,475.74 L58.50,475.74 L58.75,475.74 L59.00,475.74 L59.25,475.74 L59.50,475.74 L59.75,475.74 L60.00,475.74 L60.25,475.74 L60.50,475.74 L60.75,475.74 L61.00,475.74 L61.25,475.74 L61.50,475.74 L61.75,475.74 L62.00,475.74 L62.25,475.74 L62.50,475.74 L62.75,475.74 L63.00,475.74 L63.25,475.74 L63.50,475.74 L63.75,475.74 L64.00,475.74 L64.25,475.74 L64.50,475.74 L64.75,475.74 L65.00,475.74 L65.25,475.74 L65.50,475.74 L65.75,475.74 L66.00,475.74 L66.25,475.74 L66.50,475.74 L66.75,475.74 L67.00,475.74 L67.25,475.74 L67.50,475.74 L67.75,475.74 L68.00,475.74 L68.25,475.74 L68.50,475.74 L68.75,475.74 L69.00,475.74 L69.25,475.74 L69.50,475.74 L69.75,475.74 L70.00,475.74 L70.25,475.74 L70.50,475.74 L70.75,475.74 L71.00,475.74 L71.25,475.74 L71.50,475.74 L71.75,475.74 L72.00,475.74 L72.25,475.74 L72.50,475.74 L72.75,475.74 L73.00,475.74 L73.25,475.74 L73.50,475.74 L73.75,475.74 L74.00,475.74 L74.25,475.74 L74.50,475.74 L74.75,475.74 L75.00,475.74 L75.25,475.74 L75.50,475.74 L75.75,475.74 L76.00,475.74 L76.25,475.74 L76.50,475.74 L76.75,475.74 L77.00,475.74 L77.25,475.74 L77.50,475.74 L77.75,475.74 L78.00,475.74 L78.25,475.74 L78.50,475.74 L78.75,475.74 L79.00,475.74 L79.25,475.74 L79.50,475.74 L79.75,475.74 L80.00,475.74 L80.25,475.74 L80.50,475.74 L80.75,475.74 L81.00,475.74 L81.25,475.74 L81.50,475.74 L81.75,475.74 L82.00,475.74 L82.25,475.74 L82.50,475.74 L82.75,475.74 L83.00,475.74 L83.25,475.74 L83.50,475.74 L83.75,475.74 L84.00,475.74 L84.25,475.74 L84.50,475.74 L84.75,475.74 L85.00,475.74 L85.25,475.74 L85.50,475.74 L85.75,475.74 L86.00,475.74 L86.25,475.74 L86.50,475.74 L86.75,475.74 L87.00,475.74 L87.25,475.74 L87.50,475.74 L87.75,475.74 L88.00,475.74 L88.25,475.74 L88.50,475.74 L88.75,475.74 L89.00,475.74 L89.25,475.74 L89.50,475.74 L89.75,475.74 L90.00,475.74 L90.25,475.74 L90.50,475.74 L90.75,475.74 L91.00,475.74 L91.25,475.74 L91.50,475.74 L91.75,475.74 L92.00,475.74 L92.25,475.74 L92.50,475.74 L92.75,475.74 L93.00,475.74 L93.25,475.74 L93.50,475.74 L93.75,475.73 L94.00,475.73 L94.25,475.73 L94.50,475.73 L94.75,475.73 L95.00,475.73 L95.25,475.73 L95.50,475.73 L95.75,475.73 L96.00,475.73 L96.25,475.73 L96.50,475.73 L96.75,475.73 L97.00,475.73 L97.25,475.73 L97.50,475.73 L97.75,475.73 L98.00,475.73 L98.25,475.73 L98.50,475.73 L98.75,475.73 L99.00,475.73 L99.25,475.73 L99.50,475.73 L99.75,475.73 L100.00,475.73 L100.25,475.73 L100.50,475.73 L100.75,475.73 L101.00,475.73 L101.25,475.73 L101.50,475.73 L101.75,475.73 L102.00,475.73 L102.25,475.73 L102.50,475.73 L102.75,475.73 L103.00,475.73 L103.25,475.73 L103.50,475.73 L103.75,475.73 L104.00,475.73 L104.25,475.73 L104.50,475.73 L104.75,475.73 L105.00,475.73 L105.25,475.73 L105.50,475.73 L105.75,475.73 L106.00,475.73 L106.25,475.73 L106.50,475.73 L106.75,475.73 L107.00,475.73 L107.25,475.73 L107.50,475.73 L107.75,475.73 L108.00,475.73 L108.25,475.72 L108.50,475.72 L108.75,475.72 L109.00,475.72 L109.25,475.72 L109.50,475.72 L109.75,475.72 L110.00,475.72 L110.25,475.72 L110.50,475.72 L110.75,475.72 L111.00,475.72 L111.25,475.72 L111.50,475.72 L111.75,475.72 L112.00,475.72 L112.25,475.72 L112.50,475.72 L112.75,475.72 L113.00,475.72 L113.25,475.72 L113.50,475.72 L113.75,475.72 L114.00,475.72 L114.25,475.72 L114.50,475.72 L114.75,475.72 L115.00,475.72 L115.25,475.72 L115.50,475.72 L115.75,475.72 L116.00,475.72 L116.25,475.72 L116.50,475.72 L116.75,475.71 L117.00,475.71 L117.25,475.71 L117.50,475.71 L117.75,475.71 L118.00,475.71 L118.25,475.71 L118.50,475.71 L118.75,475.71 L119.00,475.71 L119.25,475.71 L119.50,475.71 L119.75,475.71 L120.00,475.71 L120.25,475.71 L120.50,475.71 L120.75,475.71 L121.00,475.71 L121.25,475.71 L121.50,475.71 L121.75,475.71 L122.00,475.71 L122.25,475.71 L122.50,475.71 L122.75,475.70 L123.00,475.70 L123.25,475.70 L123.50,475.70 L123.75,475.70 L124.00,475.70 L124.25,475.70 L124.50,475.70 L124.75,475.70 L125.00,475.70 L125.25,475.70 L125.50,475.70 L125.75,475.70 L126.00,475.70 L126.25,475.70 L126.50,475.70 L126.75,475.70 L127.00,475.69 L127.25,475.69 L127.50,475.69 L127.75,475.69 L128.00,475.69 L128.25,475.69 L128.50,475.69 L128.75,475.69 L129.00,475.69 L129.25,475.69 L129.50,475.69 L129.75,475.69 L130.00,475.69 L130.25,475.68 L130.50,475.68 L130.75,475.68 L131.00,475.68 L131.25,475.68 L131.50,475.68 L131.75,475.68 L132.00,475.68 L132.25,475.68 L132.50,475.68 L132.75,475.67 L133.00,475.67 L133.25,475.67 L133.50,475.67 L133.75,475.67 L134.00,475.67 L134.25,475.67 L134.50,475.67 L134.75,475.67 L135.00,475.66 L135.25,475.66 L135.50,475.66 L135.75,475.66 L136.00,475.66 L136.25,475.66 L136.50,475.66 L136.75,475.65 L137.00,475.65 L137.25,475.65 L137.50,475.65 L137.75,475.65 L138.00,475.64 L138.25,475.64 L138.50,475.64 L138.75,475.64 L139.00,475.64 L139.25,475.64 L139.50,475.63 L139.75,475.63 L140.00,475.63 L140.25,475.63 L140.50,475.62 L140.75,475.62 L141.00,475.62 L141.25,475.62 L141.50,475.61 L141.75,475.61 L142.00,475.61 L142.25,475.61 L142.50,475.60 L142.75,475.60 L143.00,475.60 L143.25,475.59 L143.50,475.59 L143.75,475.59 L144.00,475.58 L144.25,475.58 L144.50,475.57 L144.75,475.57 L145.00,475.56 L145.25,475.56 L145.50,475.56 L145.75,475.55 L146.00,475.55 L146.25,475.54 L146.50,475.53 L146.75,475.53 L147.00,475.52 L147.25,475.52 L147.50,475.51 L147.75,475.50 L148.00,475.50 L148.25,475.49 L148.50,475.48 L148.75,475.47 L149.00,475.47 L149.25,475.46 L149.50,475.45 L149.75,475.44 L150.00,475.43 L150.25,475.42 L150.50,475.41 L150.75,475.39 L151.00,475.38 L151.25,475.37 L151.50,475.35 L151.75,475.34 L152.00,475.32 L152.25,475.31 L152.50,475.29 L152.75,475.27 L153.00,475.25 L153.25,475.23 L153.50,475.21 L153.75,475.18 L154.00,475.16 L154.25,475.13 L154.50,475.10 L154.75,475.07 L155.00,475.04 L155.25,475.00 L155.50,474.96 L155.75,474.92 L156.00,474.87 L156.25,474.83 L156.50,474.77 L156.75,474.72 L157.00,474.65 L157.25,474.59 L157.50,474.51 L157.75,474.43 L158.00,474.34 L158.25,474.25 L158.50,474.14 L158.75,474.02 L159.00,473.89 L159.25,473.75 L159.50,473.60 L159.75,473.42 L160.00,473.23 L160.25,473.02 L160.50,472.79 L160.75,472.54 L161.00,472.26 L161.25,471.96 L161.50,471.64 L161.75,471.29 L162.00,470.93 L162.25,470.56 L162.50,470.19 L162.75,469.82 L163.00,469.49 L163.25,469.21 L163.50,468.99 L163.75,468.85 L164.00,468.80 L164.25,468.85 L164.50,468.99 L164.75,469.21 L165.00,469.49 L165.25,469.82 L165.50,470.18 L165.75,470.56 L166.00,470.93 L166.25,471.29 L166.50,471.64 L166.75,471.96 L167.00,472.26 L167.25,472.54 L167.50,472.79 L167.75,473.02 L168.00,473.23 L168.25,473.42 L168.50,473.59 L168.75,473.75 L169.00,473.89 L169.25,474.02 L169.50,474.13 L169.75,474.24 L170.00,474.34 L170.25,474.42 L170.50,474.50 L170.75,474.58 L171.00,474.65 L171.25,474.71 L171.50,474.76 L171.75,474.82 L172.00,474.87 L172.25,474.91 L172.50,474.95 L172.75,474.99 L173.00,475.03 L173.25,475.06 L173.50,475.09 L173.75,475.12 L174.00,475.15 L174.25,475.17 L174.50,475.20 L174.75,475.22 L175.00,475.24 L175.25,475.26 L175.50,475.28 L175.75,475.29 L176.00,475.31 L176.25,475.32 L176.50,475.34 L176.75,475.35 L177.00,475.37 L177.25,475.38 L177.50,475.39 L177.75,475.40 L178.00,475.41 L178.25,475.42 L178.50,475.43 L178.75,475.44 L179.00,475.45 L179.25,475.46 L179.50,475.46 L179.75,475.47 L180.00,475.48 L180.25,475.49 L180.50,475.49 L180.75,475.50 L181.00,475.50 L181.25,475.51 L181.50,475.52 L181.75,475.52 L182.00,475.53 L182.25,475.53 L182.50,475.53 L182.75,475.54 L183.00,475.54 L183.25,475.55 L183.50,475.55 L183.75,475.55 L184.00,475.56 L184.25,475.56 L184.50,475.56 L184.75,475.57 L185.00,475.57 L185.25,475.57 L185.50,475.58 L185.75,475.58 L186.00,475.58 L186.25,475.58 L186.50,475.59 L186.75,475.59 L187.00,475.59 L187.25,475.59 L187.50,475.60 L187.75,475.60 L188.00,475.60 L188.25,475.60 L188.50,475.60 L188.75,475.61 L189.00,475.61 L189.25,475.61 L189.50,475.61 L189.75,475.61 L190.00,475.61 L190.25,475.62 L190.50,475.62 L190.75,475.62 L191.00,475.62 L191.25,475.62 L191.50,475.62 L191.75,475.62 L192.00,475.62 L192.25,475.62 L192.50,475.63 L192.75,475.63 L193.00,475.63 L193.25,475.63 L193.50,475.63 L193.75,475.63 L194.00,475.63 L194.25,475.63 L194.50,475.63 L194.75,475.63 L195.00,475.63 L195.25,475.63 L195.50,475.63 L195.75,475.64 L196.00,475.64 L196.25,475.64 L196.50,475.64 L196.75,475.64 L197.00,475.64 L197.25,475.64 L197.50,475.64 L197.75,475.64 L198.00,475.64 L198.25,475.64 L198.50,475.64 L198.75,475.64 L199.00,475.64 L199.25,475.64 L199.50,475.64 L199.75,475.64 L200.00,475.64 L200.25,475.64 L200.50,475.64 L200.75,475.64 L201.00,475.64 L201.25,475.63 L201.50,475.63 L201.75,475.63 L202.00,475.63 L202.25,475.63 L202.50,475.63 L202.75,475.63 L203.00,475.62 L203.25,475.62 L203.50,475.62 L203.75,475.61 L204.00,475.61 L204.25,475.60 L204.50,475.59 L204.75,475.58 L205.00,475.57 L205.25,475.56 L205.50,475.54 L205.75,475.51 L206.00,475.47 L206.25,475.42 L206.50,475.34 L206.75,475.22 L207.00,475.01 L207.25,474.62 L207.50,473.84 L207.75,472.31 L208.00,471.00 L208.25,472.31 L208.50,473.84 L208.75,474.62 L209.00,475.01 L209.25,475.22 L209.50,475.34 L209.75,475.42 L210.00,475.47 L210.25,475.51 L210.50,475.54 L210.75,475.56 L211.00,475.57 L211.25,475.58 L211.50,475.59 L211.75,475.60 L212.00,475.61 L212.25,475.61 L212.50,475.61 L212.75,475.62 L213.00,475.62 L213.25,475.62 L213.50,475.62 L213.75,475.63 L214.00,475.63 L214.25,475.63 L214.50,475.63 L214.75,475.63 L215.00,475.63 L215.25,475.63 L215.50,475.63 L215.75,475.63 L216.00,475.63 L216.25,475.63 L216.50,475.63 L216.75,475.63 L217.00,475.63 L217.25,475.63 L217.50,475.63 L217.75,475.63 L218.00,475.63 L218.25,475.63 L218.50,475.63 L218.75,475.63 L219.00,475.63 L219.25,475.63 L219.50,475.63 L219.75,475.63 L220.00,475.63 L220.25,475.63 L220.50,475.63 L220.75,475.63 L221.00,475.63 L221.25,475.63 L221.50,475.63 L221.75,475.63 L222.00,475.62 L222.25,475.62 L222.50,475.62 L222.75,475.62 L223.00,475.62 L223.25,475.62 L223.50,475.62 L223.75,475.62 L224.00,475.62 L224.25,475.61 L224.50,475.61 L224.75,475.61 L225.00,475.61 L225.25,475.61 L225.50,475.61 L225.75,475.61 L226.00,475.60 L226.25,475.60 L226.50,475.60 L226.75,475.60 L227.00,475.60 L227.25,475.59 L227.50,475.59 L227.75,475.59 L228.00,475.59 L228.25,475.58 L228.50,475.58 L228.75,475.58 L229.00,475.58 L229.25,475.57 L229.50,475.57 L229.75,475.57 L230.00,475.56 L230.25,475.56 L230.50,475.55 L230.75,475.55 L231.00,475.54 L231.25,475.54 L231.50,475.53 L231.75,475.53 L232.00,475.52 L232.25,475.52 L232.50,475.51 L232.75,475.50 L233.00,475.49 L233.25,475.49 L233.50,475.48 L233.75,475.47 L234.00,475.46 L234.25,475.44 L234.50,475.43 L234.75,475.42 L235.00,475.40 L235.25,475.39 L235.50,475.37 L235.75,475.35 L236.00,475.32 L236.25,475.30 L236.50,475.27 L236.75,475.24 L237.00,475.20 L237.25,475.16 L237.50,475.11 L237.75,475.06 L238.00,474.99 L238.25,474.92 L238.50,474.82 L238.75,474.72 L239.00,474.58 L239.25,474.42 L239.50,474.21 L239.75,473.94 L240.00,473.59 L240.25,473.11 L240.50,472.45 L240.75,471.49 L241.00,470.08 L241.25,467.98 L241.50,464.97 L241.75,461.49 L242.00,459.50 L242.25,460.57 L242.50,462.97 L242.75,464.59 L243.00,464.74 L243.25,463.40 L243.50,461.03 L243.75,459.48 L243.80,459.50 L244.00,460.88 L244.25,464.26 L244.50,467.42 L244.75,469.69 L245.00,471.20 L245.25,472.22 L245.50,472.92 L245.75,473.42 L246.00,473.79 L246.25,474.06 L246.50,474.27 L246.75,474.43 L247.00,474.56 L247.25,474.66 L247.50,474.74 L247.75,474.81 L248.00,474.86 L248.25,474.90 L248.50,474.94 L248.75,474.96 L249.00,474.98 L249.25,474.99 L249.50,474.99 L249.75,474.99 L250.00,474.98 L250.25,474.97 L250.50,474.95 L250.75,474.92 L251.00,474.88 L251.25,474.84 L251.50,474.78 L251.75,474.70 L252.00,474.61 L252.25,474.50 L252.50,474.36 L252.75,474.17 L253.00,473.93 L253.25,473.62 L253.50,473.20 L253.75,472.61 L254.00,471.76 L254.25,470.51 L254.50,468.65 L254.75,465.94 L255.00,462.59 L255.25,460.16 L255.30,460.00 L255.50,460.57 L255.75,462.70 L256.00,464.29 L256.25,464.44 L256.50,463.11 L256.75,460.94 L257.00,460.00 L257.25,461.95 L257.50,465.30 L257.75,468.20 L258.00,470.22 L258.25,471.57 L258.50,472.49 L258.75,473.13 L259.00,473.59 L259.25,473.92 L259.50,474.18 L259.75,474.38 L260.00,474.54 L260.25,474.66 L260.50,474.76 L260.75,474.85 L261.00,474.92 L261.25,474.98 L261.50,475.03 L261.75,475.07 L262.00,475.10 L262.25,475.13 L262.50,475.16 L262.75,475.18 L263.00,475.20 L263.25,475.22 L263.50,475.23 L263.75,475.24 L264.00,475.25 L264.25,475.25 L264.50,475.26 L264.75,475.26 L265.00,475.26 L265.25,475.25 L265.50,475.25 L265.75,475.24 L266.00,475.23 L266.25,475.22 L266.50,475.21 L266.75,475.19 L267.00,475.17 L267.25,475.14 L267.50,475.11 L267.75,475.07 L268.00,475.03 L268.25,474.98 L268.50,474.92 L268.75,474.84 L269.00,474.75 L269.25,474.63 L269.50,474.49 L269.75,474.31 L270.00,474.07 L270.25,473.76 L270.50,473.34 L270.75,472.76 L271.00,471.93 L271.25,470.67 L271.50,468.70 L271.75,465.44 L272.00,459.91 L272.25,451.17 L272.50,442.40 L272.60,441.30 L272.75,443.67 L273.00,453.15 L273.25,461.27 L273.50,466.25 L273.75,469.19 L274.00,470.98 L274.25,472.14 L274.50,472.92 L274.75,473.46 L275.00,473.86 L275.25,474.15 L275.50,474.38 L275.75,474.55 L276.00,474.70 L276.25,474.81 L276.50,474.90 L276.75,474.98 L277.00,475.04 L277.25,475.10 L277.50,475.14 L277.75,475.18 L278.00,475.22 L278.25,475.25 L278.50,475.28 L278.75,475.30 L279.00,475.32 L279.25,475.34 L279.50,475.35 L279.75,475.37 L280.00,475.38 L280.25,475.39 L280.50,475.41 L280.75,475.42 L281.00,475.42 L281.25,475.43 L281.50,475.44 L281.75,475.45 L282.00,475.45 L282.25,475.46 L282.50,475.46 L282.75,475.47 L283.00,475.47 L283.25,475.48 L283.50,475.48 L283.75,475.48 L284.00,475.49 L284.25,475.49 L284.50,475.49 L284.75,475.49 L285.00,475.50 L285.25,475.50 L285.50,475.50 L285.75,475.50 L286.00,475.50 L286.25,475.50 L286.50,475.51 L286.75,475.51 L287.00,475.51 L287.25,475.51 L287.50,475.51 L287.75,475.51 L288.00,475.51 L288.25,475.51 L288.50,475.51 L288.75,475.51 L289.00,475.51 L289.25,475.51 L289.50,475.51 L289.75,475.51 L290.00,475.51 L290.25,475.51 L290.50,475.51 L290.75,475.51 L291.00,475.51 L291.25,475.51 L291.50,475.51 L291.75,475.50 L292.00,475.50 L292.25,475.50 L292.50,475.50 L292.75,475.50 L293.00,475.50 L293.25,475.50 L293.50,475.49 L293.75,475.49 L294.00,475.49 L294.25,475.49 L294.50,475.49 L294.75,475.48 L295.00,475.48 L295.25,475.48 L295.50,475.48 L295.75,475.47 L296.00,475.47 L296.25,475.46 L296.50,475.46 L296.75,475.46 L297.00,475.45 L297.25,475.45 L297.50,475.44 L297.75,475.44 L298.00,475.43 L298.25,475.42 L298.50,475.42 L298.75,475.41 L299.00,475.40 L299.25,475.39 L299.50,475.38 L299.75,475.37 L300.00,475.36 L300.25,475.35 L300.50,475.34 L300.75,475.32 L301.00,475.31 L301.25,475.29 L301.50,475.27 L301.75,475.25 L302.00,475.22 L302.25,475.19 L302.50,475.16 L302.75,475.13 L303.00,475.08 L303.25,475.04 L303.50,474.98 L303.75,474.91 L304.00,474.83 L304.25,474.74 L304.50,474.63 L304.75,474.49 L305.00,474.31 L305.25,474.08 L305.50,473.79 L305.75,473.40 L306.00,472.86 L306.25,472.10 L306.50,470.98 L306.75,469.32 L307.00,466.87 L307.25,463.69 L307.50,460.96 L307.60,460.50 L307.75,460.70 L308.00,462.48 L308.25,464.02 L308.50,464.17 L308.75,462.86 L309.00,460.97 L309.20,460.50 L309.25,460.67 L309.50,463.04 L309.75,466.27 L310.00,468.89 L310.25,470.68 L310.50,471.89 L310.75,472.71 L311.00,473.28 L311.25,473.69 L311.50,474.00 L311.75,474.23 L312.00,474.42 L312.25,474.56 L312.50,474.68 L312.75,474.77 L313.00,474.85 L313.25,474.92 L313.50,474.97 L313.75,475.02 L314.00,475.06 L314.25,475.09 L314.50,475.12 L314.75,475.15 L315.00,475.17 L315.25,475.19 L315.50,475.21 L315.75,475.22 L316.00,475.23 L316.25,475.24 L316.50,475.25 L316.75,475.26 L317.00,475.27 L317.25,475.27 L317.50,475.28 L317.75,475.28 L318.00,475.28 L318.25,475.29 L318.50,475.29 L318.75,475.29 L319.00,475.29 L319.25,475.29 L319.50,475.28 L319.75,475.28 L320.00,475.28 L320.25,475.27 L320.50,475.27 L320.75,475.26 L321.00,475.26 L321.25,475.25 L321.50,475.24 L321.75,475.23 L322.00,475.22 L322.25,475.20 L322.50,475.19 L322.75,475.17 L323.00,475.15 L323.25,475.13 L323.50,475.11 L323.75,475.08 L324.00,475.05 L324.25,475.02 L324.50,474.98 L324.75,474.94 L325.00,474.89 L325.25,474.83 L325.50,474.76 L325.75,474.67 L326.00,474.58 L326.25,474.46 L326.50,474.32 L326.75,474.14 L327.00,473.92 L327.25,473.63 L327.50,473.27 L327.75,472.77 L328.00,472.09 L328.25,471.13 L328.50,469.72 L328.75,467.61 L329.00,464.51 L329.25,460.48 L329.50,457.06 L329.60,456.50 L329.75,456.82 L330.00,459.26 L330.25,461.47 L330.50,462.04 L330.75,460.75 L331.00,458.16 L331.25,456.46 L331.30,456.50 L331.50,458.17 L331.75,462.16 L332.00,465.88 L332.25,468.55 L332.50,470.34 L332.75,471.55 L333.00,472.38 L333.25,472.98 L333.50,473.42 L333.75,473.75 L334.00,474.00 L334.25,474.20 L334.50,474.37 L334.75,474.50 L335.00,474.61 L335.25,474.70 L335.50,474.77 L335.75,474.84 L336.00,474.89 L336.25,474.94 L336.50,474.98 L336.75,475.02 L337.00,475.05 L337.25,475.08 L337.50,475.11 L337.75,475.13 L338.00,475.15 L338.25,475.17 L338.50,475.18 L338.75,475.20 L339.00,475.21 L339.25,475.22 L339.50,475.23 L339.75,475.24 L340.00,475.25 L340.25,475.26 L340.50,475.27 L340.75,475.27 L341.00,475.28 L341.25,475.29 L341.50,475.29 L341.75,475.30 L342.00,475.30 L342.25,475.30 L342.50,475.31 L342.75,475.31 L343.00,475.31 L343.25,475.32 L343.50,475.32 L343.75,475.32 L344.00,475.32 L344.25,475.33 L344.50,475.33 L344.75,475.33 L345.00,475.33 L345.25,475.33 L345.50,475.33 L345.75,475.33 L346.00,475.33 L346.25,475.33 L346.50,475.34 L346.75,475.34 L347.00,475.34 L347.25,475.34 L347.50,475.34 L347.75,475.34 L348.00,475.34 L348.25,475.34 L348.50,475.34 L348.75,475.34 L349.00,475.34 L349.25,475.34 L349.50,475.33 L349.75,475.33 L350.00,475.33 L350.25,475.33 L350.50,475.33 L350.75,475.33 L351.00,475.33 L351.25,475.33 L351.50,475.33 L351.75,475.33 L352.00,475.33 L352.25,475.32 L352.50,475.32 L352.75,475.32 L353.00,475.32 L353.25,475.32 L353.50,475.32 L353.75,475.32 L354.00,475.32 L354.25,475.31 L354.50,475.31 L354.75,475.31 L355.00,475.31 L355.25,475.31 L355.50,475.30 L355.75,475.30 L356.00,475.30 L356.25,475.30 L356.50,475.30 L356.75,475.29 L357.00,475.29 L357.25,475.29 L357.50,475.29 L357.75,475.28 L358.00,475.28 L358.25,475.28 L358.50,475.28 L358.75,475.27 L359.00,475.27 L359.25,475.27 L359.50,475.26 L359.75,475.26 L360.00,475.25 L360.25,475.25 L360.50,475.25 L360.75,475.24 L361.00,475.24 L361.25,475.23 L361.50,475.22 L361.75,475.22 L362.00,475.21 L362.25,475.20 L362.50,475.19 L362.75,475.19 L363.00,475.17 L363.25,475.16 L363.50,475.15 L363.75,475.13 L364.00,475.11 L364.25,475.08 L364.50,475.05 L364.75,475.00 L365.00,474.94 L365.25,474.86 L365.50,474.75 L365.75,474.58 L366.00,474.31 L366.25,473.88 L366.50,473.20 L366.75,472.31 L367.00,471.80 L367.25,472.30 L367.50,473.18 L367.75,473.86 L368.00,474.28 L368.25,474.54 L368.50,474.70 L368.75,474.81 L369.00,474.88 L369.25,474.93 L369.50,474.97 L369.75,474.99 L370.00,475.01 L370.25,475.02 L370.50,475.03 L370.75,475.04 L371.00,475.04 L371.25,475.05 L371.50,475.05 L371.75,475.05 L372.00,475.05 L372.25,475.04 L372.50,475.04 L372.75,475.04 L373.00,475.03 L373.25,475.03 L373.50,475.02 L373.75,475.01 L374.00,475.01 L374.25,475.00 L374.50,474.99 L374.75,474.98 L375.00,474.97 L375.25,474.97 L375.50,474.96 L375.75,474.94 L376.00,474.93 L376.25,474.92 L376.50,474.91 L376.75,474.89 L377.00,474.88 L377.25,474.86 L377.50,474.85 L377.75,474.83 L378.00,474.81 L378.25,474.79 L378.50,474.77 L378.75,474.74 L379.00,474.72 L379.25,474.69 L379.50,474.66 L379.75,474.63 L380.00,474.59 L380.25,474.55 L380.50,474.51 L380.75,474.46 L381.00,474.40 L381.25,474.34 L381.50,474.27 L381.75,474.19 L382.00,474.10 L382.25,474.00 L382.50,473.88 L382.75,473.74 L383.00,473.57 L383.25,473.37 L383.50,473.12 L383.75,472.81 L384.00,472.42 L384.25,471.92 L384.50,471.25 L384.75,470.36 L385.00,469.11 L385.25,467.35 L385.50,464.84 L385.75,461.35 L386.00,457.07 L386.25,453.42 L386.40,452.60 L386.50,452.84 L386.75,455.66 L387.00,459.55 L387.25,462.75 L387.50,464.85 L387.75,465.98 L388.00,466.31 L388.25,465.85 L388.50,464.50 L388.75,461.98 L389.00,458.06 L389.25,453.43 L389.50,451.00 L389.75,453.16 L390.00,457.48 L390.25,460.97 L390.50,462.81 L390.75,463.04 L391.00,461.60 L391.25,458.50 L391.50,455.36 L391.60,455.00 L391.75,455.91 L392.00,459.53 L392.25,462.58 L392.50,463.99 L392.75,463.86 L393.00,462.10 L393.25,458.12 L393.50,450.72 L393.75,439.86 L394.00,433.30 L394.25,440.34 L394.50,451.72 L394.75,459.74 L395.00,464.54 L395.25,467.42 L395.50,469.23 L395.75,470.43 L396.00,471.26 L396.25,471.86 L396.50,472.30 L396.75,472.63 L397.00,472.89 L397.25,473.10 L397.50,473.26 L397.75,473.39 L398.00,473.50 L398.25,473.59 L398.50,473.66 L398.75,473.71 L399.00,473.76 L399.25,473.80 L399.50,473.82 L399.75,473.84 L400.00,473.86 L400.25,473.87 L400.50,473.87 L400.75,473.86 L401.00,473.85 L401.25,473.83 L401.50,473.81 L401.75,473.78 L402.00,473.74 L402.25,473.70 L402.50,473.65 L402.75,473.58 L403.00,473.50 L403.25,473.41 L403.50,473.30 L403.75,473.16 L404.00,473.00 L404.25,472.80 L404.50,472.54 L404.75,472.23 L405.00,471.82 L405.25,471.28 L405.50,470.55 L405.75,469.53 L406.00,468.07 L406.25,465.87 L406.50,462.42 L406.75,456.85 L407.00,447.98 L407.25,436.37 L407.50,429.80 L407.75,436.32 L408.00,447.88 L408.25,456.69 L408.50,462.21 L408.75,465.60 L409.00,467.75 L409.25,469.15 L409.50,470.11 L409.75,470.77 L410.00,471.24 L410.25,471.58 L410.50,471.82 L410.75,472.00 L411.00,472.11 L411.25,472.18 L411.50,472.21 L411.75,472.21 L412.00,472.18 L412.25,472.11 L412.50,472.02 L412.75,471.89 L413.00,471.73 L413.25,471.53 L413.50,471.28 L413.75,470.96 L414.00,470.58 L414.25,470.09 L414.50,469.49 L414.75,468.71 L415.00,467.70 L415.25,466.35 L415.50,464.51 L415.75,461.88 L416.00,457.96 L416.25,451.77 L416.50,441.19 L416.75,421.26 L417.00,379.22 L417.25,366.50 M418.00,366.50 L418.00,371.23 L418.25,406.18 L418.50,415.01 L418.75,415.64 L418.80,416.70 L419.00,426.34 L419.25,441.62 L419.50,452.09 L419.75,458.27 L420.00,462.02 L420.25,464.42 L420.50,466.02 L420.75,467.12 L421.00,467.89 L421.25,468.41 L421.50,468.76 L421.75,468.95 L422.00,469.01 L422.25,468.93 L422.50,468.70 L422.75,468.28 L423.00,467.61 L423.25,466.56 L423.50,464.90 L423.75,462.26 L424.00,458.00 L424.25,451.77 L424.50,445.88 L424.60,445.00 L424.75,446.00 L425.00,451.08 L425.25,455.41 L425.50,457.31 L425.75,456.96 L426.00,454.36 L426.25,448.86 L426.50,439.35 L426.75,426.53 L427.00,419.00 L427.25,425.61 L427.50,437.40 L427.75,445.57 L428.00,449.18 L428.25,448.90 L428.50,444.90 L428.75,438.08 L429.00,434.00 L429.25,438.23 L429.50,445.27 L429.75,449.69 L430.00,450.78 L430.25,448.67 L430.50,442.80 L430.75,431.79 L431.00,415.61 L431.25,403.38 L431.30,403.00 L431.50,409.82 L431.75,427.12 L432.00,441.45 L432.25,450.54 L432.50,456.04 L432.75,459.38 L433.00,461.40 L433.25,462.56 L433.50,463.08 L433.75,463.07 L434.00,462.50 L434.25,461.26 L434.50,459.07 L434.75,455.37 L435.00,449.21 L435.25,439.50 L435.50,427.75 L435.70,423.00 L435.75,423.20 L436.00,431.05 L436.25,441.47 L436.50,448.36 L436.75,451.75 L437.00,452.58 L437.25,451.29 L437.50,447.69 L437.75,440.93 L438.00,429.24 L438.25,410.55 L438.50,387.80 L438.70,378.50 L438.75,378.84 L439.00,393.70 L439.25,413.12 L439.50,424.97 L439.75,428.66 L440.00,424.92 L440.25,413.58 L440.50,397.85 L440.70,392.00 L440.75,392.65 L441.00,406.42 L441.25,423.95 L441.50,435.84 L441.75,442.24 L442.00,444.69 L442.25,443.96 L442.50,439.86 L442.75,431.18 L443.00,415.64 L443.25,391.93 L443.50,369.91 L443.60,367.40 L443.75,373.49 L444.00,398.56 L444.25,421.84 L444.50,437.04 L444.75,446.28 L445.00,451.90 L445.25,455.34 L445.50,457.35 L445.75,458.34 L446.00,458.48 L446.25,457.74 L446.50,455.94 L446.75,452.64 L447.00,446.97 L447.25,437.38 L447.50,421.81 L447.75,401.25 L448.00,389.60 L448.25,401.23 L448.50,421.75 L448.75,437.23 L449.00,446.63 L449.25,451.95 L449.50,454.63 L449.75,455.30 L450.00,454.02 L450.25,450.25 L450.50,443.12 L450.75,433.22 L451.00,427.80 L451.25,434.30 L451.50,445.35 L451.75,453.81 L452.00,459.18 L452.25,462.55 L452.50,464.74 L452.75,466.23 L453.00,467.28 L453.25,468.06 L453.50,468.64 L453.75,469.09 L454.00,469.45 L454.25,469.73 L454.50,469.96 L454.75,470.15 L455.00,470.31 L455.25,470.44 L455.50,470.56 L455.75,470.65 L456.00,470.73 L456.25,470.79 L456.50,470.85 L456.75,470.90 L457.00,470.94 L457.25,470.97 L457.50,470.99 L457.75,471.01 L458.00,471.03 L458.25,471.04 L458.50,471.04 L458.75,471.05 L459.00,471.04 L459.25,471.04 L459.50,471.03 L459.75,471.02 L460.00,471.01 L460.25,470.99 L460.50,470.97 L460.75,470.94 L461.00,470.92 L461.25,470.89 L461.50,470.86 L461.75,470.82 L462.00,470.78 L462.25,470.74 L462.50,470.69 L462.75,470.64 L463.00,470.58 L463.25,470.52 L463.50,470.46 L463.75,470.38 L464.00,470.30 L464.25,470.21 L464.50,470.11 L464.75,470.00 L465.00,469.87 L465.25,469.73 L465.50,469.57 L465.75,469.38 L466.00,469.15 L466.25,468.89 L466.50,468.58 L466.75,468.19 L467.00,467.72 L467.25,467.13 L467.50,466.36 L467.75,465.35 L468.00,463.98 L468.25,462.06 L468.50,459.29 L468.75,455.18 L469.00,448.96 L469.25,439.87 L469.50,428.72 L469.75,421.28 L469.80,421.00 L470.00,424.54 L470.25,434.91 L470.50,444.77 L470.75,451.65 L471.00,455.98 L471.25,458.52 L471.50,459.75 L471.75,459.82 L472.00,458.63 L472.25,455.90 L472.50,452.28 L472.70,451.00 L472.75,451.18 L473.00,454.53 L473.25,458.82 L473.50,461.87 L473.75,463.74 L474.00,464.87 L474.25,465.55 L474.50,465.93 L474.75,466.09 L475.00,466.09 L475.25,465.92 L475.50,465.57 L475.75,465.01 L476.00,464.14 L476.25,462.84 L476.50,460.88 L476.75,457.86 L477.00,453.27 L477.25,446.81 L477.50,440.05 L477.70,437.70 L477.75,437.86 L478.00,442.54 L478.25,449.60 L478.50,455.34 L478.75,459.25 L479.00,461.81 L479.25,463.50 L479.50,464.65 L479.75,465.45 L480.00,466.01 L480.25,466.40 L480.50,466.69 L480.75,466.88 L481.00,467.01 L481.25,467.09 L481.50,467.11 L481.75,467.09 L482.00,467.03 L482.25,466.93 L482.50,466.78 L482.75,466.57 L483.00,466.29 L483.25,465.92 L483.50,465.43 L483.75,464.77 L484.00,463.87 L484.25,462.59 L484.50,460.72 L484.75,457.86 L485.00,453.33 L485.25,446.15 L485.50,436.12 L485.75,428.24 L485.80,427.80 L486.00,430.62 L486.25,438.67 L486.50,444.33 L486.75,445.77 L487.00,443.20 L487.25,437.67 L487.50,434.00 L487.75,436.86 L488.00,441.43 L488.25,442.67 L488.50,439.23 L488.75,430.56 L489.00,418.92 L489.20,414.70 L489.25,415.22 L489.50,425.62 L489.75,439.04 L490.00,448.64 L490.25,454.64 L490.50,458.39 L490.75,460.82 L491.00,462.45 L491.25,463.58 L491.50,464.38 L491.75,464.95 L492.00,465.35 L492.25,465.61 L492.50,465.76 L492.75,465.82 L493.00,465.76 L493.25,465.60 L493.50,465.30 L493.75,464.81 L494.00,464.08 L494.25,462.97 L494.50,461.29 L494.75,458.72 L495.00,454.80 L495.25,449.29 L495.50,443.49 L495.70,441.40 L495.75,441.50 L496.00,445.24 L496.25,450.90 L496.50,455.35 L496.75,458.07 L497.00,459.40 L497.25,459.57 L497.50,458.57 L497.75,456.05 L498.00,451.32 L498.25,443.98 L498.50,437.15 L498.60,436.40 L498.75,438.38 L499.00,446.37 L499.25,453.80 L499.50,458.68 L499.75,461.68 L500.00,463.57 L500.25,464.78 L500.50,465.57 L500.75,466.10 L501.00,466.44 L501.25,466.62 L501.50,466.69 L501.75,466.64 L502.00,466.48 L502.25,466.18 L502.50,465.70 L502.75,465.01 L503.00,463.99 L503.25,462.50 L503.50,460.29 L503.75,456.93 L504.00,451.78 L504.25,444.21 L504.50,434.90 L504.75,428.71 L504.80,428.50 L505.00,431.57 L505.25,440.42 L505.50,448.86 L505.75,454.81 L506.00,458.65 L506.25,461.04 L506.50,462.47 L506.75,463.19 L507.00,463.29 L507.25,462.73 L507.50,461.29 L507.75,458.51 L508.00,453.76 L508.25,447.37 L508.50,443.80 L508.75,447.65 L509.00,454.34 L509.25,459.41 L509.50,462.53 L509.75,464.37 L510.00,465.40 L510.25,465.88 L510.50,465.90 L510.75,465.43 L511.00,464.30 L511.25,462.17 L511.50,458.55 L511.75,453.71 L512.00,451.00 L512.25,453.92 L512.50,458.99 L512.75,462.85 L513.00,465.25 L513.25,466.69 L513.50,467.56 L513.75,468.05 L514.00,468.27 L514.25,468.26 L514.50,468.00 L514.75,467.41 L515.00,466.34 L515.25,464.49 L515.50,461.46 L515.75,457.42 L516.00,455.00 L516.25,456.88 L516.50,460.24 L516.75,462.30 L517.00,462.61 L517.25,461.18 L517.50,458.26 L517.75,456.01 L517.80,456.00 L518.00,457.75 L518.25,461.81 L518.50,465.18 L518.75,467.36 L519.00,468.75 L519.25,469.65 L519.50,470.27 L519.75,470.72 L520.00,471.05 L520.25,471.31 L520.50,471.51 L520.75,471.68 L521.00,471.82 L521.25,471.94 L521.50,472.04 L521.75,472.13 L522.00,472.21 L522.25,472.28 L522.50,472.35 L522.75,472.41 L523.00,472.47 L523.25,472.52 L523.50,472.57 L523.75,472.61 L524.00,472.66 L524.25,472.70 L524.50,472.74 L524.75,472.77 L525.00,472.81 L525.25,472.84 L525.50,472.88 L525.75,472.91 L526.00,472.94 L526.25,472.97 L526.50,473.00 L526.75,473.03 L527.00,473.05 L527.25,473.08 L527.50,473.11 L527.75,473.13 L528.00,473.16 L528.25,473.18 L528.50,473.21 L528.75,473.23 L529.00,473.25 L529.25,473.27 L529.50,473.30 L529.75,473.32 L530.00,473.34 L530.25,473.36 L530.50,473.38 L530.75,473.40 L531.00,473.42 L531.25,473.44 L531.50,473.46 L531.75,473.48 L532.00,473.50 L532.25,473.52 L532.50,473.54 L532.75,473.55 L533.00,473.57 L533.25,473.59 L533.50,473.61 L533.75,473.62 L534.00,473.64 L534.25,473.66 L534.50,473.67 L534.75,473.69 L535.00,473.71 L535.25,473.72 L535.50,473.74 L535.75,473.75 L536.00,473.77 L536.25,473.78 L536.50,473.80 L536.75,473.81 L537.00,473.83 L537.25,473.84 L537.50,473.86 L537.75,473.87 L538.00,473.89 L538.25,473.90 L538.50,473.91 L538.75,473.93 L539.00,473.94 L539.25,473.95 L539.50,473.97 L539.75,473.98 L540.00,473.99 L540.25,474.01 L540.50,474.02 L540.75,474.03 L541.00,474.04 L541.25,474.06 L541.50,474.07 L541.75,474.08 L542.00,474.09 L542.25,474.10 L542.50,474.11 L542.75,474.13 L543.00,474.14 L543.25,474.15 L543.50,474.16 L543.75,474.17 L544.00,474.18 L544.25,474.19 L544.50,474.20 L544.75,474.21 L545.00,474.22 L545.25,474.23 L545.50,474.24 L545.75,474.25 L546.00,474.26 L546.25,474.27 L546.50,474.28 L546.75,474.29 L547.00,474.30 L547.25,474.31 L547.50,474.32 L547.75,474.33 L548.00,474.34 L548.25,474.35 L548.50,474.36 L548.75,474.37 L549.00,474.38 L549.25,474.39 L549.50,474.40 L549.75,474.40 L550.00,474.41 L550.25,474.42 L550.50,474.43 L550.75,474.44 L551.00,474.45 L551.25,474.45 L551.50,474.46 L551.75,474.47 L552.00,474.48 L552.25,474.49 L552.50,474.49 L552.75,474.50 L553.00,474.51 L553.25,474.52 L553.50,474.52 L553.75,474.53 L554.00,474.54 L554.25,474.55 L554.50,474.55 L554.75,474.56 L555.00,474.57 L555.25,474.58 L555.50,474.58 L555.75,474.59 L556.00,474.60 L556.25,474.60 L556.50,474.61 L556.75,474.62 L557.00,474.62 L557.25,474.63 L557.50,474.64 L557.75,474.64 L558.00,474.65 L558.25,474.65 L558.50,474.66 L558.75,474.67 L559.00,474.67 L559.25,474.68 L559.50,474.68 L559.75,474.69 L560.00,474.70 L560.25,474.70 L560.50,474.71 L560.75,474.71 L561.00,474.72 L561.25,474.72 L561.50,474.73 L561.75,474.73 L562.00,474.74 L562.25,474.75 L562.50,474.75 L562.75,474.76 L563.00,474.76 L563.25,474.77 L563.50,474.77 L563.75,474.78 L564.00,474.78 L564.25,474.78 L564.50,474.79 L564.75,474.79 L565.00,474.80 L565.25,474.80 L565.50,474.81 L565.75,474.81 L566.00,474.82 L566.25,474.82 L566.50,474.82 L566.75,474.83 L567.00,474.83 L567.25,474.84 L567.50,474.84 L567.75,474.84 L568.00,474.85 L568.25,474.85 L568.50,474.85 L568.75,474.86 L569.00,474.86 L569.25,474.86 L569.50,474.87 L569.75,474.87 L570.00,474.87 L570.25,474.87 L570.50,474.88 L570.75,474.88 L571.00,474.88 L571.25,474.88 L571.50,474.89 L571.75,474.89 L572.00,474.89 L572.25,474.89 L572.50,474.89 L572.75,474.89 L573.00,474.89 L573.25,474.90 L573.50,474.90 L573.75,474.90 L574.00,474.90 L574.25,474.90 L574.50,474.90 L574.75,474.90 L575.00,474.89 L575.25,474.89 L575.50,474.89 L575.75,474.89 L576.00,474.89 L576.25,474.88 L576.50,474.88 L576.75,474.87 L577.00,474.87 L577.25,474.86 L577.50,474.86 L577.75,474.85 L578.00,474.84 L578.25,474.83 L578.50,474.82 L578.75,474.81 L579.00,474.79 L579.25,474.78 L579.50,474.76 L579.75,474.74 L580.00,474.71 L580.25,474.69 L580.50,474.66 L580.75,474.62 L581.00,474.58 L581.25,474.53 L581.50,474.48 L581.75,474.42 L582.00,474.34 L582.25,474.25 L582.50,474.14 L582.75,474.01 L583.00,473.85 L583.25,473.65 L583.50,473.39 L583.75,473.06 L584.00,472.63 L584.25,472.05 L584.50,471.23 L584.75,470.06 L585.00,468.34 L585.25,465.77 L585.50,462.09 L585.75,457.77 L586.00,455.00 L586.25,455.50 L586.50,457.12 L586.75,457.32 L587.00,455.84 L587.25,454.85 L587.30,455.00 L587.50,457.00 L587.75,461.25 L588.00,465.15 L588.25,467.93 L588.50,469.81 L588.75,471.07 L589.00,471.95 L589.25,472.58 L589.50,473.05 L589.75,473.40 L590.00,473.68 L590.25,473.89 L590.50,474.07 L590.75,474.21 L591.00,474.33 L591.25,474.43 L591.50,474.51 L591.75,474.58 L592.00,474.64 L592.25,474.70 L592.50,474.75 L592.75,474.79 L593.00,474.82 L593.25,474.86 L593.50,474.89 L593.75,474.91 L594.00,474.94 L594.25,474.96 L594.50,474.98 L594.75,475.00 L595.00,475.02 L595.25,475.03 L595.50,475.05 L595.75,475.06 L596.00,475.07 L596.25,475.08 L596.50,475.10 L596.75,475.11 L597.00,475.12 L597.25,475.12 L597.50,475.13 L597.75,475.14 L598.00,475.15 L598.25,475.16 L598.50,475.16 L598.75,475.17 L599.00,475.18 L599.25,475.18 L599.50,475.19 L599.75,475.20 L600.00,475.20 L600.25,475.21 L600.50,475.21 L600.75,475.22 L601.00,475.22 L601.25,475.23 L601.50,475.23 L601.75,475.23 L602.00,475.24 L602.25,475.24 L602.50,475.25 L602.75,475.25 L603.00,475.25 L603.25,475.26 L603.50,475.26 L603.75,475.26 L604.00,475.27 L604.25,475.27 L604.50,475.27 L604.75,475.28 L605.00,475.28 L605.25,475.28 L605.50,475.29 L605.75,475.29 L606.00,475.29 L606.25,475.29 L606.50,475.30 L606.75,475.30 L607.00,475.30 L607.25,475.30 L607.50,475.31 L607.75,475.31 L608.00,475.31 L608.25,475.31 L608.50,475.32 L608.75,475.32 L609.00,475.32 L609.25,475.32 L609.50,475.33 L609.75,475.33 L610.00,475.33 L610.25,475.33 L610.50,475.33 L610.75,475.34 L611.00,475.34 L611.25,475.34 L611.50,475.34 L611.75,475.34 L612.00,475.35 L612.25,475.35 L612.50,475.35 L612.75,475.35 L613.00,475.35 L613.25,475.35 L613.50,475.36 L613.75,475.36 L614.00,475.36 L614.25,475.36 L614.50,475.36 L614.75,475.36 L615.00,475.37 L615.25,475.37 L615.50,475.37 L615.75,475.37 L616.00,475.37 L616.25,475.37 L616.50,475.37 L616.75,475.38 L617.00,475.38 L617.25,475.38 L617.50,475.38 L617.75,475.38 L618.00,475.38 L618.25,475.38 L618.50,475.39 L618.75,475.39 L619.00,475.39 L619.25,475.39 L619.50,475.39 L619.75,475.39 L620.00,475.39 L620.25,475.39 L620.50,475.39 L620.75,475.40 L621.00,475.40 L621.25,475.40 L621.50,475.40 L621.75,475.40 L622.00,475.40 L622.25,475.40 L622.50,475.40 L622.75,475.40 L623.00,475.40 L623.25,475.41 L623.50,475.41 L623.75,475.41 L624.00,475.41 L624.25,475.41 L624.50,475.41 L624.75,475.41 L625.00,475.41 L625.25,475.41 L625.50,475.41 L625.75,475.41 L626.00,475.41 L626.25,475.41 L626.50,475.41 L626.75,475.41 L627.00,475.41 L627.25,475.41 L627.50,475.41 L627.75,475.41 L628.00,475.41 L628.25,475.41 L628.50,475.41 L628.75,475.41 L629.00,475.41 L629.25,475.41 L629.50,475.41 L629.75,475.41 L630.00,475.41 L630.25,475.41 L630.50,475.41 L630.75,475.41 L631.00,475.41 L631.25,475.41 L631.50,475.40 L631.75,475.40 L632.00,475.40 L632.25,475.40 L632.50,475.39 L632.75,475.39 L633.00,475.38 L633.25,475.38 L633.50,475.37 L633.75,475.37 L634.00,475.36 L634.25,475.35 L634.50,475.34 L634.75,475.32 L635.00,475.31 L635.25,475.29 L635.50,475.27 L635.75,475.24 L636.00,475.20 L636.25,475.16 L636.50,475.10 L636.75,475.02 L637.00,474.92 L637.25,474.79 L637.50,474.61 L637.75,474.37 L638.00,474.07 L638.25,473.75 L638.50,473.48 L638.70,473.40 L638.75,473.41 L639.00,473.57 L639.25,473.87 L639.50,474.20 L639.75,474.47 L640.00,474.68 L640.25,474.84 L640.50,474.96 L640.75,475.05 L641.00,475.12 L641.25,475.17 L641.50,475.21 L641.75,475.24 L642.00,475.27 L642.25,475.29 L642.50,475.30 L642.75,475.32 L643.00,475.33 L643.25,475.34 L643.50,475.34 L643.75,475.35 L644.00,475.35 L644.25,475.36 L644.50,475.36 L644.75,475.36 L645.00,475.36 L645.25,475.36 L645.50,475.36 L645.75,475.36 L646.00,475.36 L646.25,475.35 L646.50,475.35 L646.75,475.34 L647.00,475.34 L647.25,475.33 L647.50,475.32 L647.75,475.32 L648.00,475.31 L648.25,475.29 L648.50,475.28 L648.75,475.26 L649.00,475.25 L649.25,475.22 L649.50,475.20 L649.75,475.17 L650.00,475.13 L650.25,475.09 L650.50,475.03 L650.75,474.96 L651.00,474.87 L651.25,474.75 L651.50,474.58 L651.75,474.35 L652.00,474.00 L652.25,473.43 L652.50,472.46 L652.75,470.69 L653.00,467.51 L653.25,464.20 L653.30,464.00 L653.50,465.34 L653.75,468.05 L654.00,468.81 L654.25,467.38 L654.50,464.79 L654.60,464.50 L654.75,465.65 L655.00,469.15 L655.25,471.54 L655.50,472.81 L655.75,473.49 L656.00,473.87 L656.25,474.09 L656.50,474.19 L656.75,474.21 L657.00,474.16 L657.25,474.03 L657.50,473.79 L657.75,473.38 L658.00,472.72 L658.25,471.62 L658.50,469.85 L658.75,467.52 L659.00,466.20 L659.25,467.53 L659.50,469.87 L659.75,471.65 L660.00,472.77 L660.25,473.45 L660.50,473.88 L660.75,474.15 L661.00,474.34 L661.25,474.45 L661.50,474.53 L661.75,474.57 L662.00,474.58 L662.25,474.57 L662.50,474.53 L662.75,474.47 L663.00,474.37 L663.25,474.22 L663.50,474.01 L663.75,473.70 L664.00,473.25 L664.25,472.62 L664.50,471.78 L664.75,470.92 L665.00,470.50 L665.25,470.86 L665.50,471.68 L665.75,472.46 L666.00,473.04 L666.25,473.43 L666.50,473.68 L666.75,473.83 L667.00,473.91 L667.25,473.94 L667.50,473.93 L667.75,473.88 L668.00,473.80 L668.25,473.69 L668.50,473.54 L668.75,473.36 L669.00,473.13 L669.25,472.84 L669.50,472.48 L669.75,472.03 L670.00,471.45 L670.25,470.71 L670.50,469.75 L670.75,468.45 L671.00,466.67 L671.25,464.14 L671.50,460.41 L671.75,454.70 L672.00,445.60 L672.25,430.79 L672.50,408.21 L672.75,384.02 L672.90,378.30 L673.00,380.93 L673.25,402.99 L673.50,426.92 L673.75,443.21 L674.00,453.25 L674.25,459.51 L674.50,463.56 L674.75,466.30 L675.00,468.22 L675.25,469.61 L675.50,470.65 L675.75,471.44 L676.00,472.06 L676.25,472.55 L676.50,472.94 L676.75,473.27 L677.00,473.53 L677.25,473.76 L677.50,473.95 L677.75,474.11 L678.00,474.25 L678.25,474.37 L678.50,474.48 L678.75,474.57 L679.00,474.65 L679.25,474.73 L679.50,474.79 L679.75,474.85 L680.00,474.90 L680.25,474.95 L680.50,474.99 L680.75,475.03 L681.00,475.06" fill="none" stroke="#24968f" stroke-width="1.35" stroke-linejoin="round"/><line x1="3.5" y1="483" x2="682" y2="483" stroke="#555" stroke-width="1.0" stroke-linecap="butt"/><line x1="4.83" y1="483" x2="4.83" y2="485" stroke="#555" stroke-width="0.9" stroke-linecap="butt"/><line x1="23.6" y1="483" x2="23.6" y2="486.6" stroke="#555" stroke-width="0.9" stroke-linecap="butt"/><line x1="42.38" y1="483" x2="42.38" y2="485" stroke="#555" stroke-width="0.9" stroke-linecap="butt"/><line x1="61.15" y1="483" x2="61.15" y2="486.6" stroke="#555" stroke-width="0.9" stroke-linecap="butt"/><line x1="79.92" y1="483" x2="79.92" y2="485" stroke="#555" stroke-width="0.9" stroke-linecap="butt"/><line x1="98.7" y1="483" x2="98.7" y2="486.6" stroke="#555" stroke-width="0.9" stroke-linecap="butt"/><line x1="117.47" y1="483" x2="117.47" y2="485" stroke="#555" stroke-width="0.9" stroke-linecap="butt"/><line x1="136.25" y1="483" x2="136.25" y2="486.6" stroke="#555" stroke-width="0.9" stroke-linecap="butt"/><line x1="155.02" y1="483" x2="155.02" y2="485" stroke="#555" stroke-width="0.9" stroke-linecap="butt"/><line x1="173.8" y1="483" x2="173.8" y2="486.6" stroke="#555" stroke-width="0.9" stroke-linecap="butt"/><line x1="192.57" y1="483" x2="192.57" y2="485" stroke="#555" stroke-width="0.9" stroke-linecap="butt"/><line x1="211.35" y1="483" x2="211.35" y2="486.6" stroke="#555" stroke-width="0.9" stroke-linecap="butt"/><line x1="230.12" y1="483" x2="230.12" y2="485" stroke="#555" stroke-width="0.9" stroke-linecap="butt"/><line x1="248.9" y1="483" x2="248.9" y2="486.6" stroke="#555" stroke-width="0.9" stroke-linecap="butt"/><line x1="267.68" y1="483" x2="267.68" y2="485" stroke="#555" stroke-width="0.9" stroke-linecap="butt"/><line x1="286.45" y1="483" x2="286.45" y2="486.6" stroke="#555" stroke-width="0.9" stroke-linecap="butt"/><line x1="305.23" y1="483" x2="305.23" y2="485" stroke="#555" stroke-width="0.9" stroke-linecap="butt"/><line x1="324" y1="483" x2="324" y2="486.6" stroke="#555" stroke-width="0.9" stroke-linecap="butt"/><line x1="342.77" y1="483" x2="342.77" y2="485" stroke="#555" stroke-width="0.9" stroke-linecap="butt"/><line x1="361.55" y1="483" x2="361.55" y2="486.6" stroke="#555" stroke-width="0.9" stroke-linecap="butt"/><line x1="380.32" y1="483" x2="380.32" y2="485" stroke="#555" stroke-width="0.9" stroke-linecap="butt"/><line x1="399.1" y1="483" x2="399.1" y2="486.6" stroke="#555" stroke-width="0.9" stroke-linecap="butt"/><line x1="417.88" y1="483" x2="417.88" y2="485" stroke="#555" stroke-width="0.9" stroke-linecap="butt"/><line x1="436.65" y1="483" x2="436.65" y2="486.6" stroke="#555" stroke-width="0.9" stroke-linecap="butt"/><line x1="455.43" y1="483" x2="455.43" y2="485" stroke="#555" stroke-width="0.9" stroke-linecap="butt"/><line x1="474.2" y1="483" x2="474.2" y2="486.6" stroke="#555" stroke-width="0.9" stroke-linecap="butt"/><line x1="492.97" y1="483" x2="492.97" y2="485" stroke="#555" stroke-width="0.9" stroke-linecap="butt"/><line x1="511.75" y1="483" x2="511.75" y2="486.6" stroke="#555" stroke-width="0.9" stroke-linecap="butt"/><line x1="530.52" y1="483" x2="530.52" y2="485" stroke="#555" stroke-width="0.9" stroke-linecap="butt"/><line x1="549.3" y1="483" x2="549.3" y2="486.6" stroke="#555" stroke-width="0.9" stroke-linecap="butt"/><line x1="568.07" y1="483" x2="568.07" y2="485" stroke="#555" stroke-width="0.9" stroke-linecap="butt"/><line x1="586.85" y1="483" x2="586.85" y2="486.6" stroke="#555" stroke-width="0.9" stroke-linecap="butt"/><line x1="605.62" y1="483" x2="605.62" y2="485" stroke="#555" stroke-width="0.9" stroke-linecap="butt"/><line x1="624.4" y1="483" x2="624.4" y2="486.6" stroke="#555" stroke-width="0.9" stroke-linecap="butt"/><line x1="643.17" y1="483" x2="643.17" y2="485" stroke="#555" stroke-width="0.9" stroke-linecap="butt"/><line x1="661.95" y1="483" x2="661.95" y2="486.6" stroke="#555" stroke-width="0.9" stroke-linecap="butt"/><line x1="680.73" y1="483" x2="680.73" y2="485" stroke="#555" stroke-width="0.9" stroke-linecap="butt"/><text x="24" y="503.2" font-family="Liberation Sans" font-size="14.2" fill="#1e1e1e" text-anchor="middle" font-weight="normal" letter-spacing="-0.4" stroke="#1e1e1e" stroke-width="0.25">12.5</text><text x="99.1" y="503.2" font-family="Liberation Sans" font-size="14.2" fill="#1e1e1e" text-anchor="middle" font-weight="normal" letter-spacing="-0.4" stroke="#1e1e1e" stroke-width="0.25">11.5</text><text x="174.2" y="503.2" font-family="Liberation Sans" font-size="14.2" fill="#1e1e1e" text-anchor="middle" font-weight="normal" letter-spacing="-0.4" stroke="#1e1e1e" stroke-width="0.25">10.5</text><text x="249.3" y="503.2" font-family="Liberation Sans" font-size="14.2" fill="#1e1e1e" text-anchor="middle" font-weight="normal" letter-spacing="-0.4" stroke="#1e1e1e" stroke-width="0.25">9.5</text><text x="286.85" y="503.2" font-family="Liberation Sans" font-size="14.2" fill="#1e1e1e" text-anchor="middle" font-weight="normal" letter-spacing="-0.4" stroke="#1e1e1e" stroke-width="0.25">9.0</text><text x="324.4" y="503.2" font-family="Liberation Sans" font-size="14.2" fill="#1e1e1e" text-anchor="middle" font-weight="normal" letter-spacing="-0.4" stroke="#1e1e1e" stroke-width="0.25">8.5</text><text x="361.95" y="503.2" font-family="Liberation Sans" font-size="14.2" fill="#1e1e1e" text-anchor="middle" font-weight="normal" letter-spacing="-0.4" stroke="#1e1e1e" stroke-width="0.25">8.0</text><text x="399.5" y="503.2" font-family="Liberation Sans" font-size="14.2" fill="#1e1e1e" text-anchor="middle" font-weight="normal" letter-spacing="-0.4" stroke="#1e1e1e" stroke-width="0.25">7.5</text><text x="437.05" y="503.2" font-family="Liberation Sans" font-size="14.2" fill="#1e1e1e" text-anchor="middle" font-weight="normal" letter-spacing="-0.4" stroke="#1e1e1e" stroke-width="0.25">7.0</text><text x="474.6" y="503.2" font-family="Liberation Sans" font-size="14.2" fill="#1e1e1e" text-anchor="middle" font-weight="normal" letter-spacing="-0.4" stroke="#1e1e1e" stroke-width="0.25">6.5</text><text x="512.15" y="503.2" font-family="Liberation Sans" font-size="14.2" fill="#1e1e1e" text-anchor="middle" font-weight="normal" letter-spacing="-0.4" stroke="#1e1e1e" stroke-width="0.25">6.0</text><text x="549.7" y="503.2" font-family="Liberation Sans" font-size="14.2" fill="#1e1e1e" text-anchor="middle" font-weight="normal" letter-spacing="-0.4" stroke="#1e1e1e" stroke-width="0.25">5.5</text><text x="587.25" y="503.2" font-family="Liberation Sans" font-size="14.2" fill="#1e1e1e" text-anchor="middle" font-weight="normal" letter-spacing="-0.4" stroke="#1e1e1e" stroke-width="0.25">5.0</text><text x="624.8" y="503.2" font-family="Liberation Sans" font-size="14.2" fill="#1e1e1e" text-anchor="middle" font-weight="normal" letter-spacing="-0.4" stroke="#1e1e1e" stroke-width="0.25">4.5</text><text x="662.35" y="503.2" font-family="Liberation Sans" font-size="14.2" fill="#1e1e1e" text-anchor="middle" font-weight="normal" letter-spacing="-0.4" stroke="#1e1e1e" stroke-width="0.25">4.0</text><line x1="292" y1="519.3" x2="306" y2="519.3" stroke="#1e1e1e" stroke-width="1.6" stroke-linecap="butt"/><path d="M291,519.3 L297.5,516.3 L297.5,522.3 Z" fill="#1e1e1e"/><text x="312.5" y="523.3" font-family="Liberation Sans" font-size="12.5" fill="#1e1e1e">δ <tspan font-size="8.5" dy="-4.5">1</tspan><tspan dy="4.5">H (ppm)</tspan></text><text x="165" y="465.84" font-family="Liberation Sans" font-size="14" fill="#1e1e1e" text-anchor="middle" font-weight="normal" font-style="italic" stroke="#1e1e1e" stroke-width="0.25">w</text><text x="241.7" y="456.04" font-family="Liberation Sans" font-size="14" fill="#1e1e1e" text-anchor="middle" font-weight="normal" font-style="italic" stroke="#1e1e1e" stroke-width="0.25">h</text><text x="258" y="457.04" font-family="Liberation Sans" font-size="14" fill="#1e1e1e" text-anchor="middle" font-weight="normal" font-style="italic" stroke="#1e1e1e" stroke-width="0.25">b</text><text x="272.6" y="440.24" font-family="Liberation Sans" font-size="14" fill="#1e1e1e" text-anchor="middle" font-weight="normal" font-style="italic" stroke="#1e1e1e" stroke-width="0.25">l</text><text x="309.3" y="456.34" font-family="Liberation Sans" font-size="14" fill="#1e1e1e" text-anchor="middle" font-weight="normal" font-style="italic" stroke="#1e1e1e" stroke-width="0.25">u</text><text x="330.4" y="453.84" font-family="Liberation Sans" font-size="14" fill="#1e1e1e" text-anchor="middle" font-weight="normal" font-style="italic" stroke="#1e1e1e" stroke-width="0.25">r</text><text x="382" y="456.74" font-family="Liberation Sans" font-size="14" fill="#1e1e1e" text-anchor="middle" font-weight="normal" font-style="italic" stroke="#1e1e1e" stroke-width="0.25">e</text><text x="390" y="446.14" font-family="Liberation Sans" font-size="14" fill="#1e1e1e" text-anchor="middle" font-weight="normal" font-style="italic" stroke="#1e1e1e" stroke-width="0.25">s</text><text x="395.2" y="430.04" font-family="Liberation Sans" font-size="14" fill="#1e1e1e" text-anchor="middle" font-weight="normal" font-style="italic" stroke="#1e1e1e" stroke-width="0.25">m</text><text x="587" y="453.24" font-family="Liberation Sans" font-size="14" fill="#1e1e1e" text-anchor="middle" font-weight="normal" font-style="italic" stroke="#1e1e1e" stroke-width="0.25">d</text><text x="672" y="374.54" font-family="Liberation Sans" font-size="14" fill="#1e1e1e" text-anchor="middle" font-weight="normal" font-style="italic" stroke="#1e1e1e" stroke-width="0.25">x</text><text x="17.5" y="452.5" font-family="Liberation Sans" font-size="14" fill="#1e1e1e" text-anchor="middle" font-weight="normal" font-style="italic" stroke="#1e1e1e" stroke-width="0.25"><tspan>n</tspan>/<tspan>a</tspan></text><text x="653.5" y="467.5" font-family="Liberation Sans" font-size="12" fill="#1e1e1e" text-anchor="middle" font-weight="bold">*</text><text x="421.6" y="373" font-family="Liberation Sans" font-size="11" fill="#1e1e1e" text-anchor="middle" font-weight="bold">*</text><text x="12" y="421.5" font-family="Liberation Sans" font-size="14" fill="#1e1e1e" text-anchor="middle" font-weight="bold" stroke="#1e1e1e" stroke-width="0.25">9</text><path d="M301.00,348.67 L301.25,348.64 L301.50,348.59 L301.75,348.55 L302.00,348.49 L302.25,348.43 L302.50,348.35 L302.75,348.26 L303.00,348.16 L303.25,348.04 L303.50,347.89 L303.75,347.71 L304.00,347.49 L304.25,347.23 L304.50,346.89 L304.75,346.48 L305.00,345.97 L305.25,345.35 L305.50,344.62 L305.75,343.83 L306.00,343.11 L306.25,342.61 L306.40,342.50 L306.50,342.51 L306.75,342.82 L307.00,343.39 L307.25,344.05 L307.50,344.66 L307.75,345.16 L308.00,345.53 L308.25,345.78 L308.50,345.92 L308.75,345.96 L309.00,345.91 L309.25,345.76 L309.50,345.52 L309.75,345.17 L310.00,344.68 L310.25,344.04 L310.50,343.20 L310.75,342.16 L311.00,340.88 L311.25,339.44 L311.50,338.00 L311.75,336.87 L312.00,336.40 L312.25,336.75 L312.50,337.75 L312.75,339.06 L313.00,340.36 L313.25,341.49 L313.50,342.37 L313.75,343.01 L314.00,343.43 L314.25,343.66 L314.50,343.70 L314.75,343.57 L315.00,343.26 L315.25,342.74 L315.50,341.97 L315.75,340.91 L316.00,339.48 L316.25,337.63 L316.50,335.33 L316.75,332.74 L317.00,330.25 L317.25,328.59 L317.40,328.30 L317.50,328.44 L317.75,329.88 L318.00,332.30 L318.25,334.96 L318.50,337.38 L318.75,339.37 L319.00,340.93 L319.25,342.13 L319.50,343.02 L319.75,343.68 L320.00,344.14 L320.25,344.44 L320.50,344.59 L320.75,344.59 L321.00,344.43 L321.25,344.09 L321.50,343.53 L321.75,342.71 L322.00,341.58 L322.25,340.20 L322.50,338.85 L322.75,338.05 L322.80,338.00 L323.00,338.20 L323.25,339.09 L323.50,340.15 L323.75,340.98 L324.00,341.39 L324.25,341.35 L324.50,340.86 L324.75,339.95 L325.00,338.72 L325.25,337.55 L325.50,337.00 L325.75,337.38 L326.00,338.38 L326.25,339.45 L326.50,340.22 L326.75,340.59 L327.00,340.55 L327.25,340.09 L327.50,339.21 L327.75,337.86 L328.00,335.96 L328.25,333.44 L328.50,330.28 L328.75,326.69 L329.00,323.25 L329.25,320.98 L329.40,320.60 L329.50,320.83 L329.75,322.90 L330.00,326.37 L330.25,330.18 L330.50,333.66 L330.75,336.56 L331.00,338.87 L331.25,340.69 L331.50,342.11 L331.75,343.23 L332.00,344.12 L332.25,344.83 L332.50,345.41 L332.75,345.87 L333.00,346.26 L333.25,346.58 L333.50,346.84 L333.75,347.06 L334.00,347.24 L334.25,347.40 L334.50,347.52 L334.75,347.63 L335.00,347.72 L335.25,347.79 L335.50,347.84 L335.75,347.88 L336.00,347.91 L336.25,347.92 L336.50,347.92 L336.75,347.91 L337.00,347.89 L337.25,347.86 L337.50,347.81 L337.75,347.75 L338.00,347.67 L338.25,347.58 L338.50,347.47 L338.75,347.34 L339.00,347.18 L339.25,346.99 L339.50,346.78 L339.75,346.52 L340.00,346.21 L340.25,345.85 L340.50,345.41 L340.75,344.89 L341.00,344.26 L341.25,343.49 L341.50,342.56 L341.75,341.43 L342.00,340.07 L342.25,338.44 L342.50,336.57 L342.75,334.52 L343.00,332.51 L343.25,330.84 L343.50,329.90 L343.60,329.80 L343.75,329.96 L344.00,330.97 L344.25,332.63 L344.50,334.58 L344.75,336.49 L345.00,338.21 L345.25,339.67 L345.50,340.87 L345.75,341.84 L346.00,342.61 L346.25,343.21 L346.50,343.68 L346.75,344.03 L347.00,344.29 L347.25,344.47 L347.50,344.58 L347.75,344.63 L348.00,344.62 L348.25,344.56 L348.50,344.44 L348.75,344.28 L349.00,344.06 L349.25,343.79 L349.50,343.46 L349.75,343.06 L350.00,342.59 L350.25,342.04 L350.50,341.40 L350.75,340.64 L351.00,339.77 L351.25,338.74 L351.50,337.54 L351.75,336.14 L352.00,334.50 L352.25,332.58 L352.50,330.36 L352.75,327.79 L353.00,324.87 L353.25,321.63 L353.50,318.17 L353.75,314.68 L354.00,311.45 L354.25,308.87 L354.50,307.30 L354.60,307.00 L354.75,306.93 L355.00,307.72 L355.25,309.42 L355.50,311.60 L355.75,313.88 L356.00,315.94 L356.25,317.56 L356.50,318.62 L356.75,319.06 L357.00,318.86 L357.25,318.04 L357.50,316.72 L357.75,315.06 L358.00,313.41 L358.25,312.18 L358.50,311.82 L358.60,312.00 L358.75,312.63 L359.00,314.58 L359.25,317.37 L359.50,320.60 L359.75,323.87 L360.00,326.95 L360.25,329.69 L360.50,332.07 L360.75,334.10 L361.00,335.81 L361.25,337.24 L361.50,338.43 L361.75,339.43 L362.00,340.26 L362.25,340.95 L362.50,341.52 L362.75,341.99 L363.00,342.36 L363.25,342.65 L363.50,342.88 L363.75,343.03 L364.00,343.12 L364.25,343.14 L364.50,343.11 L364.75,343.01 L365.00,342.85 L365.25,342.62 L365.50,342.32 L365.75,341.93 L366.00,341.45 L366.25,340.87 L366.50,340.16 L366.75,339.31 L367.00,338.30 L367.25,337.08 L367.50,335.63 L367.75,333.89 L368.00,331.83 L368.25,329.39 L368.50,326.51 L368.75,323.17 L369.00,319.37 L369.25,315.22 L369.50,310.92 L369.75,306.87 L370.00,303.61 L370.25,301.71 L370.40,301.40 L370.50,301.56 L370.75,303.21 L371.00,306.32 L371.25,310.33 L371.50,314.69 L371.75,318.98 L372.00,322.94 L372.25,326.45 L372.50,329.51 L372.75,332.12 L373.00,334.35 L373.25,336.23 L373.50,337.84 L373.75,339.20 L374.00,340.36 L374.25,341.36 L374.50,342.21 L374.75,342.95 L375.00,343.58 L375.25,344.13 L375.50,344.61 L375.75,345.03 L376.00,345.39 L376.25,345.70 L376.50,345.97 L376.75,346.20 L377.00,346.40 L377.25,346.57 L377.50,346.71 L377.75,346.82 L378.00,346.90 L378.25,346.96 L378.50,347.00 L378.75,347.00 L379.00,346.99 L379.25,346.94 L379.50,346.87 L379.75,346.76 L380.00,346.61 L380.25,346.43 L380.50,346.20 L380.75,345.92 L381.00,345.58 L381.25,345.16 L381.50,344.66 L381.75,344.05 L382.00,343.31 L382.25,342.42 L382.50,341.32 L382.75,339.99 L383.00,338.36 L383.25,336.35 L383.50,333.92 L383.75,330.98 L384.00,327.53 L384.25,323.66 L384.50,319.65 L384.75,316.06 L385.00,313.64 L385.20,313.00 L385.25,313.04 L385.50,314.46 L385.75,317.47 L386.00,321.34 L386.25,325.37 L386.50,329.12 L386.75,332.40 L387.00,335.16 L387.25,337.44 L387.50,339.31 L387.75,340.84 L388.00,342.09 L388.25,343.11 L388.50,343.95 L388.75,344.64 L389.00,345.20 L389.25,345.66 L389.50,346.04 L389.75,346.33 L390.00,346.55 L390.25,346.70 L390.50,346.80 L390.75,346.82 L391.00,346.79 L391.25,346.68 L391.50,346.50 L391.75,346.22 L392.00,345.84 L392.25,345.33 L392.50,344.66 L392.75,343.79 L393.00,342.69 L393.25,341.31 L393.50,339.63 L393.75,337.67 L394.00,335.58 L394.25,333.65 L394.50,332.33 L394.70,332.00 L394.75,332.04 L395.00,332.90 L395.25,334.65 L395.50,336.82 L395.75,339.01 L396.00,341.00 L396.25,342.70 L396.50,344.10 L396.75,345.25 L397.00,346.19 L397.25,346.96 L397.50,347.59 L397.75,348.11 L398.00,348.55 L398.25,348.92 L398.50,349.23 L398.75,349.50 L399.00,349.74 L399.25,349.94 L399.50,350.12 L399.75,350.28 L400.00,350.42 L400.25,350.54 L400.50,350.66 L400.75,350.76 L401.00,350.85 L401.25,350.94 L401.50,351.02 L401.75,351.09 L402.00,351.15 L402.25,351.22 L402.50,351.27 L402.75,351.33 L403.00,351.38 L403.25,351.42 L403.50,351.47 L403.75,351.51 L404.00,351.55 L404.25,351.59 L404.50,351.62 L404.75,351.66 L405.00,351.69" fill="none" stroke="#24968f" stroke-width="1.35" stroke-linejoin="round"/><line x1="300.5" y1="360.5" x2="405.4" y2="360.5" stroke="#555" stroke-width="1.0" stroke-linecap="butt"/><line x1="310.4" y1="360.5" x2="310.4" y2="362.5" stroke="#555" stroke-width="0.9" stroke-linecap="butt"/><line x1="322.8" y1="360.5" x2="322.8" y2="363.7" stroke="#555" stroke-width="0.9" stroke-linecap="butt"/><line x1="335.2" y1="360.5" x2="335.2" y2="362.5" stroke="#555" stroke-width="0.9" stroke-linecap="butt"/><line x1="347.6" y1="360.5" x2="347.6" y2="363.7" stroke="#555" stroke-width="0.9" stroke-linecap="butt"/><line x1="360" y1="360.5" x2="360" y2="362.5" stroke="#555" stroke-width="0.9" stroke-linecap="butt"/><line x1="372.4" y1="360.5" x2="372.4" y2="363.7" stroke="#555" stroke-width="0.9" stroke-linecap="butt"/><line x1="384.8" y1="360.5" x2="384.8" y2="362.5" stroke="#555" stroke-width="0.9" stroke-linecap="butt"/><line x1="397.2" y1="360.5" x2="397.2" y2="363.7" stroke="#555" stroke-width="0.9" stroke-linecap="butt"/><text x="323.2" y="381" font-family="Liberation Sans" font-size="14.4" fill="#1e1e1e" text-anchor="middle" font-weight="normal" letter-spacing="-0.4" stroke="#1e1e1e" stroke-width="0.25">7.1</text><text x="372.8" y="381" font-family="Liberation Sans" font-size="14.4" fill="#1e1e1e" text-anchor="middle" font-weight="normal" letter-spacing="-0.4" stroke="#1e1e1e" stroke-width="0.25">6.9</text><text x="305.3" y="340.04" font-family="Liberation Sans" font-size="14" fill="#1e1e1e" text-anchor="middle" font-weight="normal" font-style="italic" stroke="#1e1e1e" stroke-width="0.25">k</text><text x="324" y="336.72" font-family="Liberation Sans" font-size="14" fill="#1e1e1e" text-anchor="middle" font-weight="normal" font-style="italic" stroke="#1e1e1e" stroke-width="0.25">j</text><path d="M468.20,344.20 L468.45,344.12 L468.70,344.03 L468.95,343.93 L469.20,343.82 L469.45,343.69 L469.70,343.54 L469.95,343.37 L470.20,343.17 L470.45,342.93 L470.70,342.65 L470.95,342.32 L471.20,341.92 L471.45,341.43 L471.70,340.83 L471.95,340.08 L472.20,339.14 L472.45,337.96 L472.70,336.50 L472.95,334.75 L473.20,332.82 L473.45,330.98 L473.70,329.68 L473.80,329.40 L473.95,329.26 L474.20,329.65 L474.45,330.40 L474.70,331.03 L474.95,331.23 L475.20,330.85 L475.45,329.79 L475.70,327.99 L475.95,325.41 L476.20,322.12 L476.45,318.49 L476.70,315.32 L476.95,313.74 L477.00,313.70 L477.20,314.47 L477.45,317.18 L477.70,320.79 L477.95,324.32 L478.20,327.25 L478.45,329.40 L478.70,330.76 L478.95,331.36 L479.20,331.20 L479.45,330.26 L479.70,328.58 L479.95,326.48 L480.20,324.79 L480.40,324.50 L480.45,324.63 L480.70,326.43 L480.95,329.38 L481.20,332.42 L481.45,335.01 L481.70,337.03 L481.95,338.57 L482.20,339.75 L482.45,340.65 L482.70,341.35 L482.95,341.90 L483.20,342.35 L483.45,342.71 L483.70,343.01 L483.95,343.26 L484.20,343.47 L484.45,343.65 L484.70,343.80 L484.95,343.93 L485.20,344.05 L485.45,344.14 L485.70,344.23 L485.95,344.30 L486.20,344.36 L486.45,344.41 L486.70,344.46 L486.95,344.49 L487.20,344.52 L487.45,344.55 L487.70,344.56 L487.95,344.57 L488.20,344.57 L488.45,344.56 L488.70,344.55 L488.95,344.53 L489.20,344.50 L489.45,344.46 L489.70,344.41 L489.95,344.35 L490.20,344.27 L490.45,344.17 L490.70,344.06 L490.95,343.92 L491.20,343.75 L491.45,343.54 L491.70,343.29 L491.95,342.98 L492.20,342.59 L492.45,342.10 L492.70,341.50 L492.95,340.74 L493.20,339.80 L493.45,338.67 L493.70,337.38 L493.95,336.05 L494.20,334.93 L494.45,334.33 L494.50,334.30 L494.70,334.46 L494.95,335.20 L495.20,336.28 L495.45,337.38 L495.70,338.33 L495.95,339.05 L496.20,339.54 L496.45,339.78 L496.70,339.80 L496.95,339.57 L497.20,339.09 L497.45,338.31 L497.70,337.19 L497.95,335.70 L498.20,333.94 L498.45,332.22 L498.70,331.13 L498.80,331.00 L498.95,331.17 L499.20,332.27 L499.45,333.85 L499.70,335.37 L499.95,336.56 L500.20,337.33 L500.45,337.70 L500.70,337.69 L500.95,337.30 L501.20,336.50 L501.45,335.24 L501.70,333.46 L501.95,331.18 L502.20,328.64 L502.45,326.46 L502.70,325.50 L502.95,326.19 L503.20,328.08 L503.45,330.28 L503.70,332.16 L503.95,333.45 L504.20,334.09 L504.45,334.08 L504.70,333.41 L504.95,332.07 L505.20,330.08 L505.45,327.68 L505.70,325.49 L505.95,324.49 L506.00,324.50 L506.20,325.33 L506.45,327.73 L506.70,330.75 L506.95,333.64 L507.20,336.05 L507.45,337.96 L507.70,339.44 L507.95,340.59 L508.20,341.48 L508.45,342.18 L508.70,342.74 L508.95,343.20 L509.20,343.57 L509.45,343.88 L509.70,344.14 L509.95,344.36 L510.20,344.55 L510.45,344.71 L510.70,344.85 L510.95,344.98 L511.20,345.08 L511.45,345.18 L511.70,345.26 L511.95,345.34 L512.20,345.41 L512.45,345.47 L512.70,345.52 L512.95,345.57 L513.20,345.62 L513.45,345.66 L513.70,345.69 L513.95,345.73 L514.20,345.76 L514.45,345.78 L514.70,345.81 L514.95,345.83 L515.20,345.85 L515.45,345.87 L515.70,345.88 L515.95,345.90 L516.20,345.91 L516.45,345.92 L516.70,345.92 L516.95,345.93 L517.20,345.93 L517.45,345.94 L517.70,345.94 L517.95,345.93 L518.20,345.93 L518.45,345.93 L518.70,345.92 L518.95,345.91 L519.20,345.90 L519.45,345.88 L519.70,345.87 L519.95,345.85 L520.20,345.83 L520.45,345.80 L520.70,345.77 L520.95,345.74 L521.20,345.70 L521.45,345.66 L521.70,345.62 L521.95,345.57 L522.20,345.51 L522.45,345.45 L522.70,345.37 L522.95,345.29 L523.20,345.20 L523.45,345.10 L523.70,344.98 L523.95,344.85 L524.20,344.70 L524.45,344.53 L524.70,344.33 L524.95,344.10 L525.20,343.83 L525.45,343.51 L525.70,343.14 L525.95,342.70 L526.20,342.17 L526.45,341.53 L526.70,340.76 L526.95,339.81 L527.20,338.65 L527.45,337.23 L527.70,335.52 L527.95,333.52 L528.20,331.29 L528.45,329.05 L528.70,327.18 L528.95,326.09 L529.00,326.00 L529.20,326.04 L529.45,326.88 L529.70,328.20 L529.95,329.53 L530.20,330.54 L530.45,331.03 L530.70,330.90 L530.95,330.06 L531.20,328.42 L531.45,325.98 L531.70,322.93 L531.95,319.93 L532.20,318.13 L532.30,318.00 L532.45,318.52 L532.70,320.99 L532.95,324.42 L533.20,327.77 L533.45,330.49 L533.70,332.46 L533.95,333.74 L534.20,334.39 L534.45,334.46 L534.70,333.95 L534.95,332.82 L535.20,331.03 L535.45,328.62 L535.70,325.89 L535.95,323.60 L536.20,322.80 L536.45,324.04 L536.70,326.79 L536.95,330.02 L537.20,332.99 L537.45,335.43 L537.70,337.33 L537.95,338.77 L538.20,339.87 L538.45,340.71 L538.70,341.34 L538.95,341.82 L539.20,342.17 L539.45,342.43 L539.70,342.60 L539.95,342.71 L540.20,342.75 L540.45,342.72 L540.70,342.64 L540.95,342.50 L541.20,342.29 L541.45,342.00 L541.70,341.63 L541.95,341.16 L542.20,340.57 L542.45,339.84 L542.70,338.91 L542.95,337.76 L543.20,336.31 L543.45,334.48 L543.70,332.17 L543.95,329.28 L544.20,325.70 L544.45,321.45 L544.70,316.76 L544.95,312.25 L545.20,308.98 L545.40,308.00 L545.45,308.02 L545.70,309.68 L545.95,313.24 L546.20,317.54 L546.45,321.64 L546.70,325.04 L546.95,327.59 L547.20,329.25 L547.45,330.04 L547.70,329.96 L547.95,329.07 L548.20,327.59 L548.45,326.21 L548.70,326.00 L548.95,327.57 L549.20,330.37 L549.45,333.39 L549.70,336.03 L549.95,338.12 L550.20,339.73 L550.45,340.97 L550.70,341.92 L550.95,342.68 L551.20,343.28 L551.45,343.76 L551.70,344.16 L551.95,344.50 L552.20,344.78 L552.45,345.02 L552.70,345.22 L552.95,345.40 L553.20,345.55 L553.45,345.69 L553.70,345.81 L553.95,345.91 L554.20,346.00 L554.45,346.09 L554.70,346.16 L554.95,346.22 L555.20,346.28 L555.45,346.32 L555.70,346.37 L555.95,346.40 L556.20,346.43 L556.45,346.46 L556.70,346.48 L556.95,346.49 L557.20,346.50 L557.45,346.50 L557.70,346.50 L557.95,346.49 L558.20,346.48 L558.45,346.46 L558.70,346.43 L558.95,346.40 L559.20,346.36 L559.45,346.30 L559.70,346.24 L559.95,346.16 L560.20,346.07 L560.45,345.96 L560.70,345.84 L560.95,345.68 L561.20,345.50 L561.45,345.29 L561.70,345.02 L561.95,344.70 L562.20,344.31 L562.45,343.83 L562.70,343.23 L562.95,342.48 L563.20,341.52 L563.45,340.31 L563.70,338.77 L563.95,336.85 L564.20,334.58 L564.45,332.15 L564.70,330.03 L564.95,328.87 L565.00,328.80 L565.20,329.08 L565.45,330.47 L565.70,332.37 L565.95,334.20 L566.20,335.63 L566.45,336.54 L566.70,336.89 L566.95,336.66 L567.20,335.81 L567.45,334.27 L567.70,332.06 L567.95,329.48 L568.20,327.36 L568.40,326.80 L568.45,326.87 L568.70,328.42 L568.95,331.17 L569.20,334.02 L569.45,336.38 L569.70,338.12 L569.95,339.33 L570.20,340.09 L570.45,340.48 L570.70,340.55 L570.95,340.29 L571.20,339.68 L571.45,338.66 L571.70,337.15 L571.95,335.11 L572.20,332.69 L572.45,330.48 L572.70,329.40 L572.95,329.96 L573.20,331.62 L573.45,333.39 L573.70,334.66 L573.95,335.20 L574.20,334.97 L574.45,333.96 L574.70,332.21 L574.95,329.85 L575.20,327.37 L575.45,325.70 L575.60,325.50 L575.70,325.78 L575.95,327.73 L576.20,330.76 L576.45,333.90 L576.70,336.63 L576.95,338.83 L577.20,340.54 L577.45,341.86 L577.70,342.88 L577.95,343.68 L578.20,344.32 L578.45,344.82 L578.70,345.24 L578.95,345.58 L579.20,345.86 L579.45,346.10 L579.70,346.30 L579.95,346.47 L580.20,346.62 L580.45,346.75 L580.70,346.86 L580.95,346.95 L581.20,347.04 L581.45,347.11 L581.70,347.17 L581.95,347.23 L582.20,347.28 L582.45,347.32 L582.70,347.35 L582.95,347.39 L583.20,347.41 L583.45,347.43 L583.70,347.45 L583.95,347.46 L584.20,347.47 L584.45,347.47 L584.70,347.47 L584.95,347.46 L585.20,347.45 L585.45,347.44 L585.70,347.42 L585.95,347.40 L586.20,347.37 L586.45,347.34 L586.70,347.30 L586.95,347.25 L587.20,347.20 L587.45,347.14 L587.70,347.06 L587.95,346.98 L588.20,346.89 L588.45,346.78 L588.70,346.66 L588.95,346.52 L589.20,346.36 L589.45,346.17 L589.70,345.95 L589.95,345.70 L590.20,345.40 L590.45,345.05 L590.70,344.64 L590.95,344.14 L591.20,343.54 L591.45,342.80 L591.70,341.90 L591.95,340.79 L592.20,339.40 L592.45,337.67 L592.70,335.53 L592.95,332.95 L593.20,330.01 L593.45,326.96 L593.70,324.37 L593.95,322.91 L594.00,322.80 L594.20,323.00 L594.45,324.42 L594.70,326.50 L594.95,328.55 L595.20,330.13 L595.45,331.03 L595.70,331.15 L595.95,330.43 L596.20,328.82 L596.45,326.31 L596.70,323.12 L596.95,319.97 L597.20,318.11 L597.30,318.00 L597.45,318.61 L597.70,321.34 L597.95,325.12 L598.20,328.82 L598.45,331.86 L598.70,334.13 L598.95,335.68 L599.20,336.61 L599.45,336.98 L599.70,336.82 L599.95,336.10 L600.20,334.78 L600.45,332.87 L600.70,330.50 L600.95,328.21 L601.20,326.87 L601.30,326.80 L601.45,327.27 L601.70,329.31 L601.95,332.15 L602.20,334.95 L602.45,337.31 L602.70,339.16 L602.95,340.55 L603.20,341.57 L603.45,342.28 L603.70,342.76 L603.95,343.01 L604.20,343.06 L604.45,342.89 L604.70,342.48 L604.95,341.78 L605.20,340.77 L605.45,339.51 L605.70,338.28 L605.95,337.62 L606.00,337.60 L606.20,337.93 L606.45,339.01 L606.70,340.32 L606.95,341.45 L607.20,342.27 L607.45,342.77 L607.70,343.01 L607.95,343.00 L608.20,342.76 L608.45,342.28 L608.70,341.54 L608.95,340.47 L609.20,339.04 L609.45,337.18 L609.70,334.94 L609.95,332.53 L610.20,330.45 L610.45,329.43 L610.50,329.40 L610.70,329.91 L610.95,331.69 L611.20,334.09 L611.45,336.48 L611.70,338.53 L611.95,340.16 L612.20,341.39 L612.45,342.26 L612.70,342.82 L612.95,343.11 L613.20,343.12 L613.45,342.85 L613.70,342.32 L613.95,341.63 L614.20,341.08 L614.40,341.00 L614.45,341.05 L614.70,341.69 L614.95,342.73 L615.20,343.79 L615.45,344.68 L615.70,345.37 L615.95,345.88 L616.20,346.26 L616.45,346.53 L616.70,346.72 L616.95,346.85 L617.20,346.92 L617.45,346.95 L617.70,346.93 L617.95,346.87 L618.20,346.76 L618.45,346.60 L618.70,346.38 L618.95,346.10 L619.20,345.72 L619.45,345.24 L619.70,344.62 L619.95,343.83 L620.20,342.83 L620.45,341.60 L620.70,340.14 L620.95,338.57 L621.20,337.13 L621.45,336.18 L621.60,336.00 L621.70,336.06 L621.95,336.81 L622.20,338.13 L622.45,339.65 L622.70,341.07 L622.95,342.28 L623.20,343.23 L623.45,343.97 L623.70,344.50 L623.95,344.87 L624.20,345.10 L624.45,345.20 L624.70,345.17 L624.95,345.02 L625.20,344.74 L625.45,344.30 L625.70,343.68 L625.95,342.85 L626.20,341.77 L626.45,340.43 L626.70,338.87 L626.95,337.26 L627.20,335.94 L627.45,335.31 L627.50,335.30 L627.70,335.64 L627.95,336.80 L628.20,338.41 L628.45,340.09 L628.70,341.61 L628.95,342.88 L629.20,343.90 L629.45,344.69 L629.70,345.31 L629.95,345.77 L630.20,346.11 L630.45,346.35 L630.70,346.48 L630.95,346.52 L631.20,346.45 L631.45,346.27 L631.70,345.95 L631.95,345.45 L632.20,344.75 L632.45,343.90 L632.70,343.07 L632.95,342.62 L633.00,342.60 L633.20,342.80 L633.45,343.49 L633.70,344.33 L633.95,345.05 L634.20,345.57 L634.45,345.88 L634.70,346.02 L634.95,345.99 L635.20,345.80 L635.45,345.46 L635.70,344.93 L635.95,344.19 L636.20,343.20 L636.45,341.94 L636.70,340.48 L636.95,339.01 L637.20,337.92 L637.40,337.60 L637.45,337.62 L637.70,338.24 L637.95,339.51 L638.20,340.97 L638.45,342.33 L638.70,343.43 L638.95,344.26 L639.20,344.85 L639.45,345.23 L639.70,345.42 L639.95,345.44 L640.20,345.29 L640.45,344.96 L640.70,344.44 L640.95,343.70 L641.20,342.74 L641.45,341.57 L641.70,340.32 L641.95,339.23 L642.20,338.63 L642.30,338.60 L642.45,338.79 L642.70,339.67 L642.95,340.99 L643.20,342.41 L643.45,343.73 L643.70,344.86 L643.95,345.79 L644.20,346.53 L644.45,347.14 L644.70,347.62 L644.95,348.02 L645.20,348.34 L645.45,348.61 L645.70,348.84 L645.95,349.03 L646.20,349.19 L646.45,349.33 L646.70,349.45 L646.95,349.56 L647.20,349.65 L647.45,349.74 L647.70,349.81 L647.95,349.88 L648.20,349.94 L648.45,350.00 L648.70,350.05 L648.95,350.10 L649.20,350.14 L649.45,350.18 L649.70,350.22 L649.95,350.25 L650.20,350.29 L650.45,350.32 L650.70,350.35 L650.95,350.37 L651.20,350.40 L651.45,350.43 L651.70,350.45 L651.95,350.47 L652.20,350.49 L652.45,350.52 L652.70,350.54 L652.95,350.55 L653.20,350.57 L653.45,350.59 L653.70,350.61 L653.95,350.63 L654.20,350.64 L654.45,350.66 L654.70,350.67 L654.95,350.69 L655.20,350.70 L655.45,350.72" fill="none" stroke="#24968f" stroke-width="1.35" stroke-linejoin="round"/><line x1="468.2" y1="356.7" x2="655.5" y2="356.7" stroke="#555" stroke-width="1.0" stroke-linecap="butt"/><line x1="480.45" y1="356.7" x2="480.45" y2="358.7" stroke="#555" stroke-width="0.9" stroke-linecap="butt"/><line x1="493.3" y1="356.7" x2="493.3" y2="359.9" stroke="#555" stroke-width="0.9" stroke-linecap="butt"/><line x1="506.15" y1="356.7" x2="506.15" y2="358.7" stroke="#555" stroke-width="0.9" stroke-linecap="butt"/><line x1="519" y1="356.7" x2="519" y2="359.9" stroke="#555" stroke-width="0.9" stroke-linecap="butt"/><line x1="531.85" y1="356.7" x2="531.85" y2="358.7" stroke="#555" stroke-width="0.9" stroke-linecap="butt"/><line x1="544.7" y1="356.7" x2="544.7" y2="359.9" stroke="#555" stroke-width="0.9" stroke-linecap="butt"/><line x1="557.55" y1="356.7" x2="557.55" y2="358.7" stroke="#555" stroke-width="0.9" stroke-linecap="butt"/><line x1="570.4" y1="356.7" x2="570.4" y2="359.9" stroke="#555" stroke-width="0.9" stroke-linecap="butt"/><line x1="583.25" y1="356.7" x2="583.25" y2="358.7" stroke="#555" stroke-width="0.9" stroke-linecap="butt"/><line x1="596.1" y1="356.7" x2="596.1" y2="359.9" stroke="#555" stroke-width="0.9" stroke-linecap="butt"/><line x1="608.95" y1="356.7" x2="608.95" y2="358.7" stroke="#555" stroke-width="0.9" stroke-linecap="butt"/><line x1="621.8" y1="356.7" x2="621.8" y2="359.9" stroke="#555" stroke-width="0.9" stroke-linecap="butt"/><line x1="634.65" y1="356.7" x2="634.65" y2="358.7" stroke="#555" stroke-width="0.9" stroke-linecap="butt"/><line x1="647.5" y1="356.7" x2="647.5" y2="359.9" stroke="#555" stroke-width="0.9" stroke-linecap="butt"/><text x="519.4" y="376.5" font-family="Liberation Sans" font-size="14.4" fill="#1e1e1e" text-anchor="middle" font-weight="normal" letter-spacing="-0.4" stroke="#1e1e1e" stroke-width="0.25">6.4</text><text x="570.8" y="376.5" font-family="Liberation Sans" font-size="14.4" fill="#1e1e1e" text-anchor="middle" font-weight="normal" letter-spacing="-0.4" stroke="#1e1e1e" stroke-width="0.25">6.2</text><text x="622.2" y="376.5" font-family="Liberation Sans" font-size="14.4" fill="#1e1e1e" text-anchor="middle" font-weight="normal" letter-spacing="-0.4" stroke="#1e1e1e" stroke-width="0.25">6.0</text><text x="496" y="332.64" font-family="Liberation Sans" font-size="14" fill="#1e1e1e" text-anchor="middle" font-weight="normal" font-style="italic" stroke="#1e1e1e" stroke-width="0.25">c</text><text x="624" y="335.64" font-family="Liberation Sans" font-size="14" fill="#1e1e1e" text-anchor="middle" font-weight="normal" font-style="italic" stroke="#1e1e1e" stroke-width="0.25">i</text><text x="640" y="337.24" font-family="Liberation Sans" font-size="14" fill="#1e1e1e" text-anchor="middle" font-weight="normal" font-style="italic" stroke="#1e1e1e" stroke-width="0.25">t</text><text x="71.7" y="26.5" font-family="Liberation Sans" font-size="11.5" fill="#1e1e1e" letter-spacing="-0.25">C<tspan font-size="8.5" dy="2.1">6</tspan><tspan dy="-2.1">F</tspan><tspan font-size="8.5" dy="2.1">5</tspan></text><line x1="90.4" y1="31" x2="90.6" y2="37.6" stroke="#1e1e1e" stroke-width="1.25" stroke-linecap="round"/><path d="M90.6,37.8 L80.3,46.5 L64.2,43.6 L59.4,55 L72.7,65.5 L80.8,62" fill="none" stroke="#1e1e1e" stroke-width="1.25" stroke-linejoin="round" stroke-linecap="round"/><line x1="80.3" y1="46.5" x2="83.3" y2="55.6" stroke="#1e1e1e" stroke-width="1.25" stroke-linecap="round"/><line x1="78.68" y1="47.83" x2="82.91" y2="58.18" stroke="#1e1e1e" stroke-width="0.95" stroke-linecap="round"/><line x1="65.42" y1="46.12" x2="62.06" y2="54.1" stroke="#1e1e1e" stroke-width="0.95" stroke-linecap="round"/><text x="85.5" y="65.2" font-family="Liberation Sans" font-size="11.3" fill="#1e1e1e" text-anchor="middle" font-weight="normal">N</text><line x1="72.7" y1="65.5" x2="72.4" y2="79.4" stroke="#1e1e1e" stroke-width="1.25" stroke-linecap="round"/><line x1="70.47" y1="66.84" x2="70.23" y2="77.96" stroke="#1e1e1e" stroke-width="0.95" stroke-linecap="round"/><line x1="72.4" y1="79.4" x2="63.8" y2="84.2" stroke="#1e1e1e" stroke-width="1.25" stroke-linecap="round"/><text x="43" y="91" font-family="Liberation Sans" font-size="11.3" fill="#1e1e1e" text-anchor="start" font-weight="normal">Mes</text><line x1="72.4" y1="79.4" x2="87.4" y2="87.5" stroke="#1e1e1e" stroke-width="1.25" stroke-linecap="round"/><path d="M87.4,87.5 L102.6,78 L116.9,83.7 L117.8,100.8 L102.6,110.3 L88.4,102.7 Z" fill="none" stroke="#1e1e1e" stroke-width="1.25" stroke-linejoin="round" stroke-linecap="round"/><line x1="89.78" y1="90.09" x2="90.42" y2="99.82" stroke="#1e1e1e" stroke-width="0.95" stroke-linecap="round"/><line x1="104.36" y1="81.07" x2="113.51" y2="84.72" stroke="#1e1e1e" stroke-width="0.95" stroke-linecap="round"/><line x1="113.9" y1="100.64" x2="104.17" y2="106.72" stroke="#1e1e1e" stroke-width="0.95" stroke-linecap="round"/><line x1="117.8" y1="100.8" x2="125.6" y2="106.8" stroke="#1e1e1e" stroke-width="1.25" stroke-linecap="round"/><text x="129.6" y="114.8" font-family="Liberation Sans" font-size="11.3" fill="#1e1e1e" text-anchor="middle" font-weight="normal">N</text><line x1="134.8" y1="107" x2="144.5" y2="103.2" stroke="#1e1e1e" stroke-width="1.25" stroke-linecap="round"/><line x1="102.6" y1="110.3" x2="108.3" y2="125.5" stroke="#1e1e1e" stroke-width="1.25" stroke-linecap="round"/><line x1="127.5" y1="116" x2="124.4" y2="125.5" stroke="#1e1e1e" stroke-width="1.25" stroke-linecap="round"/><path d="M108.3,125.5 L124.4,125.5 L133,139.7 L124.4,153 L108.3,153 L100.7,139.7 Z" fill="none" stroke="#1e1e1e" stroke-width="1.25" stroke-linejoin="round" stroke-linecap="round"/><line x1="111.2" y1="127.7" x2="121.5" y2="127.7" stroke="#1e1e1e" stroke-width="0.95" stroke-linecap="round"/><line x1="129.6" y1="140.9" x2="124.1" y2="149.41" stroke="#1e1e1e" stroke-width="0.95" stroke-linecap="round"/><line x1="108.84" y1="149.51" x2="103.98" y2="141" stroke="#1e1e1e" stroke-width="0.95" stroke-linecap="round"/><line x1="108.3" y1="153" x2="101.7" y2="170.4" stroke="#1e1e1e" stroke-width="1.25" stroke-linecap="round"/><line x1="101.7" y1="170.4" x2="91.5" y2="170.4" stroke="#1e1e1e" stroke-width="1.25" stroke-linecap="round"/><text x="69.4" y="176" font-family="Liberation Sans" font-size="11.3" fill="#1e1e1e" text-anchor="start" font-weight="normal">Mes</text><line x1="101.7" y1="170.4" x2="106.4" y2="185.5" stroke="#1e1e1e" stroke-width="1.25" stroke-linecap="round"/><line x1="100.07" y1="172.56" x2="103.83" y2="184.64" stroke="#1e1e1e" stroke-width="0.95" stroke-linecap="round"/><path d="M120.5,188.5 L106.4,185.5 L98.8,200.7 L110.2,212.1 L126.3,205.5 L124.8,196.5" fill="none" stroke="#1e1e1e" stroke-width="1.25" stroke-linejoin="round" stroke-linecap="round"/><line x1="101.99" y1="200.93" x2="109.97" y2="208.91" stroke="#1e1e1e" stroke-width="0.95" stroke-linecap="round"/><text x="120.4" y="194.4" font-family="Liberation Sans" font-size="11.3" fill="#1e1e1e" text-anchor="start" font-weight="normal">NH</text><line x1="126.3" y1="205.5" x2="140.9" y2="212.1" stroke="#1e1e1e" stroke-width="1.25" stroke-linecap="round"/><line x1="126.85" y1="208.16" x2="138.53" y2="213.44" stroke="#1e1e1e" stroke-width="0.95" stroke-linecap="round"/><line x1="140.9" y1="212.1" x2="140.9" y2="221.6" stroke="#8c8c8c" stroke-width="1.25" stroke-linecap="round"/><text x="138" y="231" font-family="Liberation Sans" font-size="11.5" fill="#8c8c8c" letter-spacing="-0.25">C<tspan font-size="8.5" dy="2.1">6</tspan><tspan dy="-2.1">F</tspan><tspan font-size="8.5" dy="2.1">5</tspan></text><line x1="140.9" y1="212.1" x2="155.1" y2="204.5" stroke="#8c8c8c" stroke-width="1.25" stroke-linecap="round"/><path d="M156.5,195.3 L155.1,204.5 L170.3,212.1 L182.6,200.7 L175,185.5 L163.2,188.6" fill="none" stroke="#8c8c8c" stroke-width="1.25" stroke-linejoin="round" stroke-linecap="round"/><line x1="157.06" y1="204.91" x2="158.96" y2="195.91" stroke="#8c8c8c" stroke-width="0.95" stroke-linecap="round"/><line x1="179.33" y1="200.87" x2="170.72" y2="208.85" stroke="#8c8c8c" stroke-width="0.95" stroke-linecap="round"/><text x="158.9" y="194.2" font-family="Liberation Sans" font-size="11.3" fill="#8c8c8c" text-anchor="middle" font-weight="normal">N</text><line x1="175" y1="185.5" x2="181.7" y2="171.3" stroke="#8c8c8c" stroke-width="1.25" stroke-linecap="round"/><line x1="173.68" y1="183.14" x2="179.04" y2="171.78" stroke="#8c8c8c" stroke-width="0.95" stroke-linecap="round"/><line x1="181.7" y1="171.3" x2="190.2" y2="171.3" stroke="#8c8c8c" stroke-width="1.25" stroke-linecap="round"/><text x="192" y="176" font-family="Liberation Sans" font-size="11.3" fill="#8c8c8c" text-anchor="start" font-weight="normal">Mes</text><line x1="181.7" y1="171.3" x2="176" y2="157.5" stroke="#8c8c8c" stroke-width="1.25" stroke-linecap="round"/><path d="M164.7,131.5 L173.9,129.5 L178,142 L176,157.5 L165.5,160 L160.8,147.6 Z" fill="none" stroke="#8c8c8c" stroke-width="1.25" stroke-linejoin="round" stroke-linecap="round"/><line x1="172.74" y1="132.37" x2="175.36" y2="140.37" stroke="#8c8c8c" stroke-width="0.95" stroke-linecap="round"/><line x1="173.65" y1="156" x2="166.93" y2="157.6" stroke="#8c8c8c" stroke-width="0.95" stroke-linecap="round"/><line x1="163.45" y1="145.17" x2="165.94" y2="134.87" stroke="#8c8c8c" stroke-width="0.95" stroke-linecap="round"/><line x1="176.1" y1="111.6" x2="173.9" y2="129.5" stroke="#8c8c8c" stroke-width="2.2" stroke-linecap="round"/><line x1="173.9" y1="129.5" x2="178" y2="142" stroke="#8c8c8c" stroke-width="2.2" stroke-linecap="round"/><line x1="178" y1="142" x2="176" y2="157.5" stroke="#8c8c8c" stroke-width="2.0" stroke-linecap="round"/><line x1="164.7" y1="131.5" x2="163.6" y2="124.5" stroke="#8c8c8c" stroke-width="1.25" stroke-linecap="round"/><line x1="167.8" y1="107.8" x2="164.8" y2="116.2" stroke="#8c8c8c" stroke-width="1.25" stroke-linecap="round"/><line x1="167.8" y1="107.8" x2="176.1" y2="111.6" stroke="#8c8c8c" stroke-width="1.25" stroke-linecap="round"/><line x1="169.46" y1="106.36" x2="176.1" y2="109.4" stroke="#8c8c8c" stroke-width="0.95" stroke-linecap="round"/><text x="162.5" y="124.6" font-family="Liberation Sans" font-size="11.3" fill="#8c8c8c" text-anchor="middle" font-weight="normal">N</text><line x1="152" y1="120" x2="158" y2="120" stroke="#8c8c8c" stroke-width="1.25" stroke-linecap="round"/><line x1="167.8" y1="107.8" x2="168.6" y2="97.5" stroke="#8c8c8c" stroke-width="1.25" stroke-linecap="round"/><line x1="176.1" y1="111.6" x2="181.2" y2="101.5" stroke="#8c8c8c" stroke-width="2.2" stroke-linecap="round"/><line x1="181.2" y1="101.5" x2="181.5" y2="92" stroke="#8c8c8c" stroke-width="2.0" stroke-linecap="round"/><line x1="176.8" y1="100.5" x2="177.8" y2="93.5" stroke="#8c8c8c" stroke-width="1.8" stroke-linecap="round"/><line x1="169.4" y1="89.6" x2="174.6" y2="83.4" stroke="#8c8c8c" stroke-width="0.8" stroke-linecap="round"/><line x1="171" y1="90.2" x2="176" y2="84.2" stroke="#8c8c8c" stroke-width="0.8" stroke-linecap="round"/><line x1="177.9" y1="57.1" x2="183.2" y2="67.5" stroke="#8c8c8c" stroke-width="2.4" stroke-linecap="round"/><line x1="176.47" y1="59.14" x2="180.71" y2="67.46" stroke="#8c8c8c" stroke-width="0.95" stroke-linecap="round"/><line x1="183.2" y1="67.5" x2="182" y2="88" stroke="#8c8c8c" stroke-width="1.6" stroke-linecap="round"/><line x1="179.2" y1="68" x2="178.5" y2="88" stroke="#8c8c8c" stroke-width="0.9" stroke-linecap="round"/><line x1="182.9" y1="79.3" x2="186.6" y2="72.2" stroke="#8c8c8c" stroke-width="2.2" stroke-linecap="round"/><line x1="186.6" y1="72.2" x2="193.6" y2="74.8" stroke="#8c8c8c" stroke-width="1.25" stroke-linecap="round"/><text x="196" y="80.8" font-family="Liberation Sans" font-size="11.3" fill="#8c8c8c" text-anchor="start" font-weight="normal">Mes</text><line x1="179" y1="16.7" x2="175.6" y2="32.6" stroke="#8c8c8c" stroke-width="2.4" stroke-linecap="round"/><line x1="180.81" y1="18.75" x2="178.09" y2="31.47" stroke="#8c8c8c" stroke-width="0.95" stroke-linecap="round"/><path d="M175.6,32.6 L163.7,35.5 L164.8,49.2 L177.9,57.1" fill="none" stroke="#8c8c8c" stroke-width="1.25" stroke-linejoin="round" stroke-linecap="round"/><line x1="165.83" y1="36.98" x2="166.66" y2="47.4" stroke="#8c8c8c" stroke-width="0.95" stroke-linecap="round"/><line x1="175.6" y1="32.6" x2="180.8" y2="37.2" stroke="#8c8c8c" stroke-width="2.3" stroke-linecap="round"/><line x1="177.9" y1="57.1" x2="181.4" y2="48.5" stroke="#8c8c8c" stroke-width="2.3" stroke-linecap="round"/><text x="180" y="45.7" font-family="Liberation Sans" font-size="11.3" fill="#8c8c8c" text-anchor="start" font-weight="normal">NH</text><line x1="90.6" y1="37.8" x2="106.3" y2="44.3" stroke="#660a66" stroke-width="2.6" stroke-linecap="round"/><line x1="91.49" y1="40.98" x2="103.42" y2="45.92" stroke="#660a66" stroke-width="1.0" stroke-linecap="round"/><path d="M106.3,44.3 L118.9,37 L130.2,47.6 L125.5,60.9" fill="none" stroke="#660a66" stroke-width="2.6" stroke-linejoin="round" stroke-linecap="round"/><line x1="118.95" y1="40.34" x2="126.86" y2="47.76" stroke="#660a66" stroke-width="1.0" stroke-linecap="round"/><line x1="106.3" y1="44.3" x2="107.6" y2="52.5" stroke="#660a66" stroke-width="1.1" stroke-linecap="round"/><line x1="125.5" y1="60.9" x2="116.5" y2="60.2" stroke="#660a66" stroke-width="1.1" stroke-linecap="round"/><text x="100.2" y="62.9" font-family="Liberation Sans" font-size="11.3" fill="#660a66" text-anchor="start" font-weight="normal">HN</text><line x1="125.5" y1="60.9" x2="133.5" y2="77.5" stroke="#660a66" stroke-width="2.6" stroke-linecap="round"/><line x1="128.8" y1="61.76" x2="134.88" y2="74.38" stroke="#660a66" stroke-width="1.0" stroke-linecap="round"/><line x1="133.5" y1="77.5" x2="126.4" y2="85.8" stroke="#660a66" stroke-width="1.1" stroke-linecap="round"/><text x="105.6" y="94.2" font-family="Liberation Sans" font-size="11.6" fill="#660a66" text-anchor="start" font-weight="normal">Mes</text><line x1="133.5" y1="77.5" x2="150.9" y2="78.7" stroke="#660a66" stroke-width="2.6" stroke-linecap="round"/><path d="M150.9,78.7 L163.4,69.2 L179.4,72.1 L181.6,86.7 L169.9,96.2 L153.9,91.8 Z" fill="none" stroke="#660a66" stroke-width="2.6" stroke-linejoin="round" stroke-linecap="round"/><line x1="154.6" y1="78.9" x2="162.6" y2="72.82" stroke="#660a66" stroke-width="1.0" stroke-linecap="round"/><line x1="167.66" y1="93.09" x2="157.42" y2="90.28" stroke="#660a66" stroke-width="1.0" stroke-linecap="round"/><line x1="177.42" y1="75.09" x2="178.83" y2="84.43" stroke="#660a66" stroke-width="1.0" stroke-linecap="round"/><line x1="179.4" y1="72.1" x2="194.7" y2="64.8" stroke="#660a66" stroke-width="2.6" stroke-linecap="round"/><line x1="181.6" y1="86.7" x2="195.5" y2="86.7" stroke="#660a66" stroke-width="2.6" stroke-linecap="round"/><line x1="205" y1="71.4" x2="201.8" y2="81.5" stroke="#660a66" stroke-width="2.6" stroke-linecap="round"/><path d="M194.7,64.8 L199.1,51 L215.9,46.6 L226.1,56.1 L222.5,70.7 L205,71.4 Z" fill="none" stroke="#660a66" stroke-width="2.6" stroke-linejoin="round" stroke-linecap="round"/><line x1="202.73" y1="52.53" x2="213.48" y2="49.71" stroke="#660a66" stroke-width="1.0" stroke-linecap="round"/><line x1="223.12" y1="58.15" x2="220.82" y2="67.5" stroke="#660a66" stroke-width="1.0" stroke-linecap="round"/><line x1="204.44" y1="68.19" x2="197.85" y2="63.97" stroke="#660a66" stroke-width="1.0" stroke-linecap="round"/><text x="199.6" y="92.2" font-family="Liberation Sans" font-size="11.3" fill="#660a66" text-anchor="middle" font-weight="normal">N</text><line x1="204.2" y1="93.3" x2="208.6" y2="99.9" stroke="#660a66" stroke-width="2.6" stroke-linecap="round"/><line x1="215.9" y1="46.6" x2="219" y2="32.3" stroke="#660a66" stroke-width="2.6" stroke-linecap="round"/><line x1="219" y1="32.3" x2="228.5" y2="30" stroke="#660a66" stroke-width="1.1" stroke-linecap="round"/><text x="229.4" y="34.4" font-family="Liberation Sans" font-size="11.3" fill="#660a66" text-anchor="start" font-weight="normal">Mes</text><line x1="219" y1="32.3" x2="210.4" y2="22.8" stroke="#660a66" stroke-width="2.6" stroke-linecap="round"/><line x1="219.9" y1="29.42" x2="213.36" y2="22.2" stroke="#660a66" stroke-width="1.0" stroke-linecap="round"/><path d="M203,26.4 L210.4,22.8 L213.3,5.7 L201.6,1.9 L193,16.1 L196.3,23.5" fill="none" stroke="#660a66" stroke-width="2.6" stroke-linejoin="round" stroke-linecap="round"/><line x1="210.8" y1="7.41" x2="202.61" y2="4.75" stroke="#660a66" stroke-width="1.0" stroke-linecap="round"/><line x1="190.81" y1="17.08" x2="194.11" y2="24.48" stroke="#660a66" stroke-width="1.0" stroke-linecap="round"/><text x="198.7" y="32.6" font-family="Liberation Sans" font-size="11.3" fill="#660a66" text-anchor="middle" font-weight="normal">N</text><line x1="193" y1="16.1" x2="178.8" y2="17.1" stroke="#660a66" stroke-width="2.6" stroke-linecap="round"/><line x1="178.8" y1="17.1" x2="171.3" y2="10.6" stroke="#660a66" stroke-width="1.1" stroke-linecap="round"/><text x="144.7" y="9.6" font-family="Liberation Sans" font-size="11.5" fill="#660a66" letter-spacing="-0.25">C<tspan font-size="8.5" dy="2.1">6</tspan><tspan dy="-2.1">F</tspan><tspan font-size="8.5" dy="2.1">5</tspan></text><text x="99.8" y="77.37" font-family="Liberation Sans" font-size="11.3" fill="#0a0aff" text-anchor="middle" font-weight="normal" font-style="italic" stroke="#0a0aff" stroke-width="0.2">k</text><text x="117.8" y="80.16" font-family="Liberation Sans" font-size="11.3" fill="#0a0aff" text-anchor="middle" font-weight="normal" font-style="italic" stroke="#0a0aff" stroke-width="0.2">j</text><text x="85.5" y="109.57" font-family="Liberation Sans" font-size="11.3" fill="#0a0aff" text-anchor="middle" font-weight="normal" font-style="italic" stroke="#0a0aff" stroke-width="0.2">l</text><text x="96" y="143.54" font-family="Liberation Sans" font-size="11.3" fill="#0a0aff" text-anchor="middle" font-weight="normal" font-style="italic" stroke="#0a0aff" stroke-width="0.2">m</text><text x="135.8" y="141.87" font-family="Liberation Sans" font-size="11.3" fill="#0a0aff" text-anchor="middle" font-weight="normal" font-style="italic" stroke="#0a0aff" stroke-width="0.2">i</text><text x="129.2" y="157.07" font-family="Liberation Sans" font-size="11.3" fill="#0a0aff" text-anchor="middle" font-weight="normal" font-style="italic" stroke="#0a0aff" stroke-width="0.2">h</text><text x="149" y="106.54" font-family="Liberation Sans" font-size="11.3" fill="#0a0aff" text-anchor="middle" font-weight="normal" font-style="italic" stroke="#0a0aff" stroke-width="0.2">z</text><text x="148" y="124.66" font-family="Liberation Sans" font-size="11.3" fill="#0a0aff" text-anchor="middle" font-weight="normal" font-style="italic" stroke="#0a0aff" stroke-width="0.2">y</text><text x="173.6" y="106.37" font-family="Liberation Sans" font-size="11.3" fill="#0a0aff" text-anchor="middle" font-weight="normal" font-style="italic" stroke="#0a0aff" stroke-width="0.2">t</text><text x="185.5" y="107.57" font-family="Liberation Sans" font-size="11.3" fill="#0a0aff" text-anchor="middle" font-weight="normal" font-style="italic" stroke="#0a0aff" stroke-width="0.2">f</text><text x="205" y="106.54" font-family="Liberation Sans" font-size="11.3" fill="#0a0aff" text-anchor="middle" font-weight="normal" font-style="italic" stroke="#0a0aff" stroke-width="0.2">x</text><text x="184" y="143.76" font-family="Liberation Sans" font-size="11.3" fill="#0a0aff" text-anchor="middle" font-weight="normal" font-style="italic" stroke="#0a0aff" stroke-width="0.2">g</text><text x="157.2" y="153.24" font-family="Liberation Sans" font-size="11.3" fill="#0a0aff" text-anchor="middle" font-weight="normal" font-style="italic" stroke="#0a0aff" stroke-width="0.2">c</text><text x="161.7" y="169.07" font-family="Liberation Sans" font-size="11.3" fill="#0a0aff" text-anchor="middle" font-weight="normal" font-style="italic" stroke="#0a0aff" stroke-width="0.2">b</text><text x="162.6" y="69.16" font-family="Liberation Sans" font-size="11.3" fill="#0a0aff" text-anchor="middle" font-weight="normal" font-style="italic" stroke="#0a0aff" stroke-width="0.2">p</text><text x="194" y="54.86" font-family="Liberation Sans" font-size="11.3" fill="#0a0aff" text-anchor="middle" font-weight="normal" font-style="italic" stroke="#0a0aff" stroke-width="0.2">q</text><text x="229.8" y="58.94" font-family="Liberation Sans" font-size="11.3" fill="#0a0aff" text-anchor="middle" font-weight="normal" font-style="italic" stroke="#0a0aff" stroke-width="0.2">r</text><text x="226.1" y="75.74" font-family="Liberation Sans" font-size="11.3" fill="#0a0aff" text-anchor="middle" font-weight="normal" font-style="italic" stroke="#0a0aff" stroke-width="0.2">s</text><text x="172.8" y="81.64" font-family="Liberation Sans" font-size="11.3" fill="#0a0aff" text-anchor="middle" font-weight="normal" font-style="italic" stroke="#0a0aff" stroke-width="0.2">e</text><text x="164.8" y="90.77" font-family="Liberation Sans" font-size="11.3" fill="#0a0aff" text-anchor="middle" font-weight="normal" font-style="italic" stroke="#0a0aff" stroke-width="0.2">d</text><text x="148.8" y="94.04" font-family="Liberation Sans" font-size="11.3" fill="#0a0aff" text-anchor="middle" font-weight="normal" font-style="italic" stroke="#0a0aff" stroke-width="0.2">u</text><text x="160.8" y="53.84" font-family="Liberation Sans" font-size="11.3" fill="#0a0aff" text-anchor="middle" font-weight="normal" font-style="italic" stroke="#0a0aff" stroke-width="0.2">v</text><text x="199" y="43.44" font-family="Liberation Sans" font-size="11.3" fill="#0a0aff" text-anchor="middle" font-weight="normal" font-style="italic" stroke="#0a0aff" stroke-width="0.2">w</text><text x="134.8" y="47.84" font-family="Liberation Sans" font-size="11.3" fill="#0a0aff" text-anchor="middle" font-weight="normal" font-style="italic" stroke="#0a0aff" stroke-width="0.2">o</text><text x="96.3" y="60.34" font-family="Liberation Sans" font-size="11.3" fill="#0a0aff" text-anchor="middle" font-weight="normal" font-style="italic" stroke="#0a0aff" stroke-width="0.2">n</text><text x="140" y="188.36" font-family="Liberation Sans" font-size="11" fill="#0a0aff" text-anchor="middle" font-weight="normal" font-style="italic" stroke="#0a0aff" stroke-width="0.2">a</text><text x="85.5" y="283.5" font-family="Liberation Sans" font-size="11.3" fill="#1e1e1e" text-anchor="start" font-weight="normal">Mes</text><line x1="89.3" y1="290.1" x2="89.3" y2="285" stroke="#1e1e1e" stroke-width="1.25" stroke-linecap="round"/><line x1="89.3" y1="290.1" x2="75" y2="293" stroke="#1e1e1e" stroke-width="1.25" stroke-linecap="round"/><line x1="88.31" y1="292.55" x2="76.87" y2="294.87" stroke="#1e1e1e" stroke-width="0.95" stroke-linecap="round"/><path d="M73.8,296.5 L75,293 L60.8,289.2 L53.2,295.8 L58.9,301.5 L68,300.8" fill="none" stroke="#1e1e1e" stroke-width="1.25" stroke-linejoin="round" stroke-linecap="round"/><line x1="60.97" y1="291.7" x2="55.65" y2="296.32" stroke="#1e1e1e" stroke-width="0.95" stroke-linecap="round"/><line x1="59.05" y1="303.49" x2="68.15" y2="302.79" stroke="#1e1e1e" stroke-width="0.95" stroke-linecap="round"/><text x="72.6" y="304.7" font-family="Liberation Sans" font-size="11.3" fill="#1e1e1e" text-anchor="middle" font-weight="normal">N</text><path d="M89.3,290.1 L105,300 L113,296" fill="none" stroke="#1e1e1e" stroke-width="1.25" stroke-linejoin="round" stroke-linecap="round"/><path d="M105,300 L106.3,316 L119,324.5" fill="none" stroke="#1e1e1e" stroke-width="1.25" stroke-linejoin="round" stroke-linecap="round"/><line x1="131.5" y1="316.5" x2="131.5" y2="303.3" stroke="#1e1e1e" stroke-width="1.25" stroke-linecap="round"/><line x1="119" y1="324.5" x2="125.5" y2="315.2" stroke="#1e1e1e" stroke-width="1.25" stroke-linecap="round"/><line x1="125.5" y1="315.2" x2="131.5" y2="316.5" stroke="#1e1e1e" stroke-width="1.25" stroke-linecap="round"/><line x1="131.5" y1="316.5" x2="138" y2="322" stroke="#1e1e1e" stroke-width="1.25" stroke-linecap="round"/><text x="140.8" y="329.8" font-family="Liberation Sans" font-size="11.3" fill="#1e1e1e" text-anchor="middle" font-weight="normal">N</text><line x1="145" y1="322" x2="151.5" y2="316.5" stroke="#1e1e1e" stroke-width="1.25" stroke-linecap="round"/><line x1="119" y1="324.5" x2="121.2" y2="338.5" stroke="#1e1e1e" stroke-width="1.25" stroke-linecap="round"/><line x1="139.5" y1="330" x2="137.4" y2="338.5" stroke="#1e1e1e" stroke-width="1.25" stroke-linecap="round"/><path d="M121.2,338.5 L137.4,338.5 L144,352.8 L135.5,365.1 L120.3,364.2 L114.6,350.9 Z" fill="none" stroke="#1e1e1e" stroke-width="1.25" stroke-linejoin="round" stroke-linecap="round"/><line x1="117.73" y1="349.7" x2="121.95" y2="341.77" stroke="#1e1e1e" stroke-width="0.95" stroke-linecap="round"/><line x1="136.59" y1="342" x2="140.81" y2="351.15" stroke="#1e1e1e" stroke-width="0.95" stroke-linecap="round"/><line x1="132.89" y1="362.74" x2="123.17" y2="362.17" stroke="#1e1e1e" stroke-width="0.95" stroke-linecap="round"/><line x1="120.3" y1="364.2" x2="111.7" y2="376.5" stroke="#1e1e1e" stroke-width="1.25" stroke-linecap="round"/><line x1="111.7" y1="376.5" x2="101.5" y2="375.6" stroke="#1e1e1e" stroke-width="1.25" stroke-linecap="round"/><text x="78.5" y="380.3" font-family="Liberation Sans" font-size="11.3" fill="#1e1e1e" text-anchor="start" font-weight="normal">Mes</text><line x1="111.7" y1="376.5" x2="116.5" y2="390.7" stroke="#1e1e1e" stroke-width="1.25" stroke-linecap="round"/><line x1="110.1" y1="378.62" x2="113.94" y2="389.98" stroke="#1e1e1e" stroke-width="0.95" stroke-linecap="round"/><path d="M129.5,393.5 L116.5,390.7 L109.6,404.8 L119.9,416 L133.2,410.5 L131.5,401.2" fill="none" stroke="#1e1e1e" stroke-width="1.25" stroke-linejoin="round" stroke-linecap="round"/><line x1="112.69" y1="405.06" x2="119.9" y2="412.9" stroke="#1e1e1e" stroke-width="0.95" stroke-linecap="round"/><text x="128.5" y="399.5" font-family="Liberation Sans" font-size="11.3" fill="#1e1e1e" text-anchor="start" font-weight="normal">NH</text><line x1="133.2" y1="410.5" x2="147.2" y2="417.8" stroke="#1e1e1e" stroke-width="1.25" stroke-linecap="round"/><line x1="133.58" y1="413.18" x2="144.78" y2="419.02" stroke="#1e1e1e" stroke-width="0.95" stroke-linecap="round"/><line x1="147.2" y1="417.8" x2="147.1" y2="427.5" stroke="#8c8c8c" stroke-width="1.25" stroke-linecap="round"/><text x="143" y="438.2" font-family="Liberation Sans" font-size="11.5" fill="#8c8c8c" letter-spacing="-0.25">C<tspan font-size="8.5" dy="2.1">6</tspan><tspan dy="-2.1">F</tspan><tspan font-size="8.5" dy="2.1">5</tspan></text><line x1="147.2" y1="417.8" x2="160" y2="411.5" stroke="#8c8c8c" stroke-width="1.25" stroke-linecap="round"/><path d="M161.2,401.5 L160,411.5 L174,416 L184.8,405 L176,392.1 L166.5,394.5" fill="none" stroke="#8c8c8c" stroke-width="1.25" stroke-linejoin="round" stroke-linecap="round"/><line x1="161.99" y1="411.74" x2="163.19" y2="401.74" stroke="#8c8c8c" stroke-width="0.95" stroke-linecap="round"/><line x1="181.75" y1="405.25" x2="174.19" y2="412.95" stroke="#8c8c8c" stroke-width="0.95" stroke-linecap="round"/><text x="162.2" y="400.6" font-family="Liberation Sans" font-size="11.3" fill="#8c8c8c" text-anchor="middle" font-weight="normal">N</text><line x1="176" y1="392.1" x2="181.2" y2="377" stroke="#8c8c8c" stroke-width="1.25" stroke-linecap="round"/><line x1="174.44" y1="389.87" x2="178.6" y2="377.79" stroke="#8c8c8c" stroke-width="0.95" stroke-linecap="round"/><line x1="181.2" y1="377" x2="190.7" y2="376.2" stroke="#8c8c8c" stroke-width="1.25" stroke-linecap="round"/><text x="193.6" y="380.7" font-family="Liberation Sans" font-size="11.3" fill="#8c8c8c" text-anchor="start" font-weight="normal">Mes</text><line x1="181.2" y1="377" x2="172.7" y2="364.6" stroke="#8c8c8c" stroke-width="1.25" stroke-linecap="round"/><path d="M155.6,338 L170.8,338 L178.4,351.3 L172.7,364.6 L157.5,365.5 L150,352.3 Z" fill="none" stroke="#8c8c8c" stroke-width="1.25" stroke-linejoin="round" stroke-linecap="round"/><line x1="158.34" y1="340" x2="168.06" y2="340" stroke="#8c8c8c" stroke-width="0.95" stroke-linecap="round"/><line x1="175.54" y1="352.91" x2="171.89" y2="361.42" stroke="#8c8c8c" stroke-width="0.95" stroke-linecap="round"/><line x1="157.89" y1="362.14" x2="153.09" y2="353.69" stroke="#8c8c8c" stroke-width="0.95" stroke-linecap="round"/><text x="153.7" y="329.6" font-family="Liberation Sans" font-size="11.3" fill="#8c8c8c" text-anchor="middle" font-weight="normal">N</text><line x1="155.6" y1="338" x2="154.8" y2="330.5" stroke="#8c8c8c" stroke-width="1.25" stroke-linecap="round"/><line x1="156.5" y1="321.5" x2="162.2" y2="314.8" stroke="#8c8c8c" stroke-width="1.25" stroke-linecap="round"/><line x1="162.2" y1="314.8" x2="175.3" y2="322.6" stroke="#8c8c8c" stroke-width="1.25" stroke-linecap="round"/><line x1="164.64" y1="313.69" x2="175.12" y2="319.93" stroke="#8c8c8c" stroke-width="0.95" stroke-linecap="round"/><line x1="175.3" y1="322.6" x2="170.8" y2="338" stroke="#8c8c8c" stroke-width="1.25" stroke-linecap="round"/><line x1="162.2" y1="314.8" x2="162.3" y2="298.5" stroke="#8c8c8c" stroke-width="1.25" stroke-linecap="round"/><line x1="187.5" y1="299" x2="187.5" y2="312.6" stroke="#8c8c8c" stroke-width="1.25" stroke-linecap="round"/><line x1="190.4" y1="299" x2="190.4" y2="312.6" stroke="#8c8c8c" stroke-width="1.25" stroke-linecap="round"/><text x="200.3" y="282.3" font-family="Liberation Sans" font-size="11.3" fill="#8c8c8c" text-anchor="start" font-weight="normal">Mes</text><line x1="204.2" y1="289.6" x2="204.2" y2="284" stroke="#8c8c8c" stroke-width="1.25" stroke-linecap="round"/><line x1="204.2" y1="289.6" x2="193" y2="297.5" stroke="#8c8c8c" stroke-width="1.25" stroke-linecap="round"/><line x1="204.2" y1="289.6" x2="220.8" y2="292.9" stroke="#8c8c8c" stroke-width="1.25" stroke-linecap="round"/><line x1="205.47" y1="291.89" x2="218.75" y2="294.53" stroke="#8c8c8c" stroke-width="0.95" stroke-linecap="round"/><path d="M225.5,298 L220.8,292.9 L236.8,289.6 L244.1,298.2 L237.4,304.8 L231,303" fill="none" stroke="#8c8c8c" stroke-width="1.25" stroke-linejoin="round" stroke-linecap="round"/><line x1="236.37" y1="292.18" x2="241.48" y2="298.2" stroke="#8c8c8c" stroke-width="0.95" stroke-linecap="round"/><line x1="237.4" y1="304.8" x2="238.8" y2="316.2" stroke="#8c8c8c" stroke-width="1.25" stroke-linecap="round"/><path d="M125.1,277.5 L141.2,280.4 L144.2,292 L133.5,302 L116.9,300 L113.7,288.9 Z" fill="none" stroke="#167a7a" stroke-width="2.2" stroke-linejoin="round" stroke-linecap="round"/><path d="M160.1,292 L167,280.4 L179,278.5 L190.4,286 L188.5,297.4 L173.3,299.3 Z" fill="none" stroke="#167a7a" stroke-width="2.2" stroke-linejoin="round" stroke-linecap="round"/><line x1="124.6" y1="281.11" x2="117.31" y2="288.4" stroke="#167a7a" stroke-width="0.95" stroke-linecap="round"/><line x1="139.61" y1="283.04" x2="141.53" y2="290.46" stroke="#167a7a" stroke-width="0.95" stroke-linecap="round"/><line x1="130.78" y1="299.46" x2="120.15" y2="298.18" stroke="#167a7a" stroke-width="0.95" stroke-linecap="round"/><line x1="179.84" y1="281.69" x2="187.14" y2="286.49" stroke="#167a7a" stroke-width="0.95" stroke-linecap="round"/><line x1="185.49" y1="295.56" x2="175.76" y2="296.77" stroke="#167a7a" stroke-width="0.95" stroke-linecap="round"/><line x1="163.23" y1="291.04" x2="167.65" y2="283.61" stroke="#167a7a" stroke-width="0.95" stroke-linecap="round"/><line x1="141.2" y1="280.4" x2="149.5" y2="277.5" stroke="#167a7a" stroke-width="2.2" stroke-linecap="round"/><line x1="158" y1="277.5" x2="167" y2="280.4" stroke="#167a7a" stroke-width="2.2" stroke-linecap="round"/><line x1="144.2" y1="292" x2="160.1" y2="292" stroke="#167a7a" stroke-width="2.2" stroke-linecap="round"/><text x="153.6" y="278.6" font-family="Liberation Sans" font-size="11.3" fill="#167a7a" text-anchor="middle" font-weight="normal">N</text><line x1="154.5" y1="261.5" x2="154.5" y2="268.5" stroke="#167a7a" stroke-width="2.2" stroke-linecap="round"/><line x1="116.9" y1="300" x2="107.5" y2="309.5" stroke="#167a7a" stroke-width="2.2" stroke-linecap="round"/><line x1="107.5" y1="309.5" x2="89.3" y2="313.8" stroke="#167a7a" stroke-width="2.2" stroke-linecap="round"/><line x1="105.49" y1="307.51" x2="90.2" y2="311.12" stroke="#167a7a" stroke-width="0.95" stroke-linecap="round"/><path d="M89.3,313.8 L80.7,320.5 L65.5,321.4 L69.3,312" fill="none" stroke="#167a7a" stroke-width="2.2" stroke-linejoin="round" stroke-linecap="round"/><line x1="78.76" y1="318.61" x2="67.21" y2="319.3" stroke="#167a7a" stroke-width="0.95" stroke-linecap="round"/><line x1="89.3" y1="313.8" x2="87.5" y2="312.5" stroke="#167a7a" stroke-width="1.1" stroke-linecap="round"/><line x1="69.3" y1="312" x2="79.5" y2="311.2" stroke="#167a7a" stroke-width="1.1" stroke-linecap="round"/><text x="83.6" y="315" font-family="Liberation Sans" font-size="11.3" fill="#167a7a" text-anchor="middle" font-weight="normal">N</text><text x="83.6" y="305.2" font-family="Liberation Sans" font-size="11.3" fill="#167a7a" text-anchor="middle" font-weight="normal">H</text><line x1="69.3" y1="312" x2="58" y2="310" stroke="#167a7a" stroke-width="2.2" stroke-linecap="round"/><line x1="68.55" y1="309.63" x2="59.51" y2="308.03" stroke="#167a7a" stroke-width="0.95" stroke-linecap="round"/><line x1="58" y1="310" x2="58.9" y2="301.5" stroke="#1e1e1e" stroke-width="1.25" stroke-linecap="round"/><line x1="58" y1="310" x2="51.5" y2="312" stroke="#1e1e1e" stroke-width="1.25" stroke-linecap="round"/><text x="26.6" y="317.5" font-family="Liberation Sans" font-size="11.5" fill="#1e1e1e" letter-spacing="-0.25">C<tspan font-size="8.5" dy="2.1">6</tspan><tspan dy="-2.1">F</tspan><tspan font-size="8.5" dy="2.1">5</tspan></text><text x="113.6" y="323.9" font-family="Liberation Sans" font-size="11.3" fill="#167a7a" text-anchor="start" font-weight="normal">Mes</text><text x="175.2" y="321.2" font-family="Liberation Sans" font-size="11.3" fill="#167a7a" text-anchor="start" font-weight="normal">Mes</text><line x1="188.5" y1="297.4" x2="197.6" y2="305.5" stroke="#167a7a" stroke-width="2.2" stroke-linecap="round"/><path d="M197.6,305.5 L205,308.9 L213.6,312.6 L222.9,319.6 L234.2,321.5 L240.2,324.2" fill="none" stroke="#167a7a" stroke-width="2.2" stroke-linejoin="round" stroke-linecap="round"/><line x1="200.17" y1="304.02" x2="212.97" y2="309.7" stroke="#167a7a" stroke-width="0.95" stroke-linecap="round"/><path d="M230.5,317.8 L238.8,315.9 L243,318.5" fill="none" stroke="#167a7a" stroke-width="2.2" stroke-linejoin="round" stroke-linecap="round"/><line x1="225.6" y1="314.2" x2="229.6" y2="316.2" stroke="#167a7a" stroke-width="1.0" stroke-linecap="round"/><text x="219.5" y="315" font-family="Liberation Sans" font-size="11.3" fill="#167a7a" text-anchor="middle" font-weight="normal">N</text><text x="219.5" y="305.6" font-family="Liberation Sans" font-size="11.3" fill="#167a7a" text-anchor="middle" font-weight="normal">H</text><text x="227.6" y="305.6" font-family="Liberation Sans" font-size="11.3" fill="#8c8c8c" text-anchor="middle" font-weight="normal">N</text><text x="244" y="325.4" font-family="Liberation Sans" font-size="11.5" fill="#167a7a" letter-spacing="-0.25">C<tspan font-size="8.5" dy="2.1">6</tspan><tspan dy="-2.1">F</tspan><tspan font-size="8.5" dy="2.1">5</tspan></text><text x="128" y="276.87" font-family="Liberation Sans" font-size="11.3" fill="#0a0aff" text-anchor="middle" font-weight="normal" font-style="italic" stroke="#0a0aff" stroke-width="0.2">t</text><text x="109" y="291.84" font-family="Liberation Sans" font-size="11.3" fill="#0a0aff" text-anchor="middle" font-weight="normal" font-style="italic" stroke="#0a0aff" stroke-width="0.2">u</text><text x="125.1" y="293.87" font-family="Liberation Sans" font-size="11.3" fill="#0a0aff" text-anchor="middle" font-weight="normal" font-style="italic" stroke="#0a0aff" stroke-width="0.2">k</text><text x="133.6" y="295.86" font-family="Liberation Sans" font-size="11.3" fill="#0a0aff" text-anchor="middle" font-weight="normal" font-style="italic" stroke="#0a0aff" stroke-width="0.2">j</text><text x="140.3" y="307.16" font-family="Liberation Sans" font-size="11.3" fill="#0a0aff" text-anchor="middle" font-weight="normal" font-style="italic" stroke="#0a0aff" stroke-width="0.2">p</text><text x="159.3" y="304.37" font-family="Liberation Sans" font-size="11.3" fill="#0a0aff" text-anchor="middle" font-weight="normal" font-style="italic" stroke="#0a0aff" stroke-width="0.2">d</text><text x="171.6" y="309.16" font-family="Liberation Sans" font-size="11.3" fill="#0a0aff" text-anchor="middle" font-weight="normal" font-style="italic" stroke="#0a0aff" stroke-width="0.2">q</text><text x="177.5" y="290.94" font-family="Liberation Sans" font-size="11.3" fill="#0a0aff" text-anchor="middle" font-weight="normal" font-style="italic" stroke="#0a0aff" stroke-width="0.2">e</text><text x="182" y="276.64" font-family="Liberation Sans" font-size="11.3" fill="#0a0aff" text-anchor="middle" font-weight="normal" font-style="italic" stroke="#0a0aff" stroke-width="0.2">s</text><text x="139.8" y="317.36" font-family="Liberation Sans" font-size="11.3" fill="#0a0aff" text-anchor="middle" font-weight="normal" font-style="italic" stroke="#0a0aff" stroke-width="0.2">y</text><text x="152" y="315.14" font-family="Liberation Sans" font-size="11.3" fill="#0a0aff" text-anchor="middle" font-weight="normal" font-style="italic" stroke="#0a0aff" stroke-width="0.2">z</text><text x="159.3" y="266.44" font-family="Liberation Sans" font-size="11.3" fill="#0a0aff" text-anchor="middle" font-weight="normal" font-style="italic" stroke="#0a0aff" stroke-width="0.2">x</text><text x="195.1" y="283.34" font-family="Liberation Sans" font-size="11.3" fill="#0a0aff" text-anchor="middle" font-weight="normal" font-style="italic" stroke="#0a0aff" stroke-width="0.2">r</text><text x="193.4" y="314.47" font-family="Liberation Sans" font-size="11.3" fill="#0a0aff" text-anchor="middle" font-weight="normal" font-style="italic" stroke="#0a0aff" stroke-width="0.2">f</text><text x="211.5" y="302.54" font-family="Liberation Sans" font-size="11.3" fill="#0a0aff" text-anchor="middle" font-weight="normal" font-style="italic" stroke="#0a0aff" stroke-width="0.2">w</text><text x="236" y="287.94" font-family="Liberation Sans" font-size="11.3" fill="#0a0aff" text-anchor="middle" font-weight="normal" font-style="italic" stroke="#0a0aff" stroke-width="0.2">v</text><text x="91.2" y="302.54" font-family="Liberation Sans" font-size="11.3" fill="#0a0aff" text-anchor="middle" font-weight="normal" font-style="italic" stroke="#0a0aff" stroke-width="0.2">n</text><text x="82.6" y="329.14" font-family="Liberation Sans" font-size="11.3" fill="#0a0aff" text-anchor="middle" font-weight="normal" font-style="italic" stroke="#0a0aff" stroke-width="0.2">o</text><text x="102.5" y="326.47" font-family="Liberation Sans" font-size="11.3" fill="#0a0aff" text-anchor="middle" font-weight="normal" font-style="italic" stroke="#0a0aff" stroke-width="0.2">l</text><text x="108" y="354.74" font-family="Liberation Sans" font-size="11.3" fill="#0a0aff" text-anchor="middle" font-weight="normal" font-style="italic" stroke="#0a0aff" stroke-width="0.2">m</text><text x="138.3" y="358.77" font-family="Liberation Sans" font-size="11.3" fill="#0a0aff" text-anchor="middle" font-weight="normal" font-style="italic" stroke="#0a0aff" stroke-width="0.2">i</text><text x="139.3" y="374.67" font-family="Liberation Sans" font-size="11.3" fill="#0a0aff" text-anchor="middle" font-weight="normal" font-style="italic" stroke="#0a0aff" stroke-width="0.2">h</text><text x="156.6" y="351.74" font-family="Liberation Sans" font-size="11.3" fill="#0a0aff" text-anchor="middle" font-weight="normal" font-style="italic" stroke="#0a0aff" stroke-width="0.2">c</text><text x="154.6" y="372.67" font-family="Liberation Sans" font-size="11.3" fill="#0a0aff" text-anchor="middle" font-weight="normal" font-style="italic" stroke="#0a0aff" stroke-width="0.2">b</text><text x="184" y="353.56" font-family="Liberation Sans" font-size="11.3" fill="#0a0aff" text-anchor="middle" font-weight="normal" font-style="italic" stroke="#0a0aff" stroke-width="0.2">g</text><text x="148" y="395.46" font-family="Liberation Sans" font-size="11" fill="#0a0aff" text-anchor="middle" font-weight="normal" font-style="italic" stroke="#0a0aff" stroke-width="0.2">a</text></svg></body></html>
